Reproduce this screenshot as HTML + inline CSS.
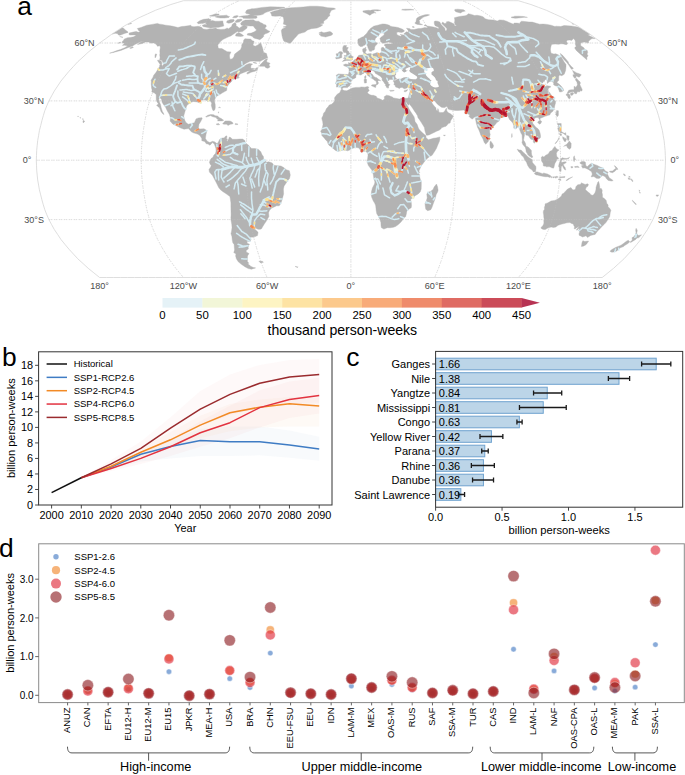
<!DOCTYPE html>
<html><head><meta charset="utf-8"><style>
html,body{margin:0;padding:0;background:#fff;}
svg{display:block;font-family:"Liberation Sans", sans-serif;}
</style></head><body>
<svg width="685" height="775" viewBox="0 0 685 775" font-family='"Liberation Sans", sans-serif'>
<rect width="685" height="775" fill="#fff"/>
<defs><clipPath id="mapclip"><path d="M99.6,277.5L93.9,272.9L88.2,268.3L83.0,263.5L77.8,258.8L73.4,254.0L68.9,249.1L64.9,244.3L60.9,239.4L57.6,234.4L54.3,229.5L51.6,224.6L48.9,219.6L46.8,214.7L44.8,209.7L43.3,204.8L41.9,199.8L40.7,194.9L39.4,189.9L38.6,185.0L37.7,180.0L37.2,175.1L36.7,170.1L36.5,165.2L36.3,160.2L36.5,155.3L36.7,150.4L37.2,145.4L37.7,140.5L38.6,135.5L39.4,130.6L40.7,125.6L41.9,120.7L43.3,115.7L44.8,110.8L46.8,105.8L48.9,100.9L51.6,95.9L54.3,91.0L57.6,86.1L60.9,81.1L64.9,76.2L68.9,71.4L73.4,66.5L77.8,61.7L83.0,57.0L88.2,52.2L93.9,47.6L99.6,43.0L105.8,38.6L111.9,34.1L118.3,29.9L124.8,25.7L132.0,21.7L139.1,17.7L147.3,14.0L155.4,10.3L163.2,7.4L170.9,4.5L177.2,2.6L183.5,0.7L183.5,0.7L188.1,0.7L192.8,0.7L197.4,0.7L202.1,0.7L206.7,0.7L211.4,0.7L216.0,0.7L220.7,0.7L225.3,0.7L230.0,0.7L234.6,0.7L239.3,0.7L243.9,0.7L248.6,0.7L253.2,0.7L257.9,0.7L262.5,0.7L267.2,0.7L271.8,0.7L276.5,0.7L281.1,0.7L285.8,0.7L290.4,0.7L295.1,0.7L299.7,0.7L304.4,0.7L309.0,0.7L313.7,0.7L318.3,0.7L323.0,0.7L327.6,0.7L332.3,0.7L336.9,0.7L341.6,0.7L346.2,0.7L350.9,0.7L355.6,0.7L360.2,0.7L364.9,0.7L369.5,0.7L374.2,0.7L378.8,0.7L383.5,0.7L388.1,0.7L392.8,0.7L397.4,0.7L402.1,0.7L406.7,0.7L411.4,0.7L416.0,0.7L420.7,0.7L425.3,0.7L430.0,0.7L434.6,0.7L439.3,0.7L443.9,0.7L448.6,0.7L453.2,0.7L457.9,0.7L462.5,0.7L467.2,0.7L471.8,0.7L476.5,0.7L481.1,0.7L485.8,0.7L490.4,0.7L495.1,0.7L499.7,0.7L504.4,0.7L509.0,0.7L513.7,0.7L518.3,0.7L518.3,0.7L524.6,2.6L530.9,4.5L538.6,7.4L546.4,10.3L554.5,14.0L562.7,17.7L569.8,21.7L577.0,25.7L583.5,29.9L589.9,34.1L596.0,38.6L602.2,43.0L607.9,47.6L613.6,52.2L618.8,57.0L624.0,61.7L628.4,66.5L632.9,71.4L636.9,76.2L640.9,81.1L644.2,86.1L647.5,91.0L650.2,95.9L652.9,100.9L655.0,105.8L657.0,110.8L658.5,115.7L659.9,120.7L661.1,125.6L662.4,130.6L663.2,135.5L664.1,140.5L664.6,145.4L665.1,150.4L665.3,155.3L665.5,160.2L665.3,165.2L665.1,170.1L664.6,175.1L664.1,180.0L663.2,185.0L662.4,189.9L661.1,194.9L659.9,199.8L658.5,204.8L657.0,209.7L655.0,214.7L652.9,219.6L650.2,224.6L647.5,229.5L644.2,234.4L640.9,239.4L636.9,244.3L632.9,249.1L628.4,254.0L624.0,258.8L618.8,263.5L613.6,268.3L607.9,272.9L602.2,277.5L602.2,277.5L595.2,277.5L588.2,277.5L581.2,277.5L574.2,277.5L567.3,277.5L560.3,277.5L553.3,277.5L546.3,277.5L539.3,277.5L532.4,277.5L525.4,277.5L518.4,277.5L511.4,277.5L504.4,277.5L497.5,277.5L490.5,277.5L483.5,277.5L476.5,277.5L469.5,277.5L462.6,277.5L455.6,277.5L448.6,277.5L441.6,277.5L434.7,277.5L427.7,277.5L420.7,277.5L413.7,277.5L406.7,277.5L399.8,277.5L392.8,277.5L385.8,277.5L378.8,277.5L371.8,277.5L364.9,277.5L357.9,277.5L350.9,277.5L343.9,277.5L336.9,277.5L330.0,277.5L323.0,277.5L316.0,277.5L309.0,277.5L302.0,277.5L295.1,277.5L288.1,277.5L281.1,277.5L274.1,277.5L267.1,277.5L260.2,277.5L253.2,277.5L246.2,277.5L239.2,277.5L232.3,277.5L225.3,277.5L218.3,277.5L211.3,277.5L204.3,277.5L197.4,277.5L190.4,277.5L183.4,277.5L176.4,277.5L169.4,277.5L162.5,277.5L155.5,277.5L148.5,277.5L141.5,277.5L134.5,277.5L127.6,277.5L120.6,277.5L113.6,277.5L106.6,277.5L99.6,277.5Z"/></clipPath></defs>
<path d="M48.9,219.6L199.9,219.6L350.9,219.6L501.9,219.6L652.9,219.6M36.3,160.2L193.6,160.2L350.9,160.2L508.2,160.2L665.5,160.2M48.9,100.9L199.9,100.9L350.9,100.9L501.9,100.9L652.9,100.9M99.6,43.0L225.3,43.0L350.9,43.0L476.5,43.0L602.2,43.0M183.4,277.5L175.8,268.3L168.9,258.8L162.9,249.1L157.6,239.4L153.2,229.5L149.5,219.6L146.8,209.7L144.9,199.8L143.3,189.9L142.1,180.0L141.4,170.1L141.2,160.2L141.4,150.4L142.1,140.5L143.3,130.6L144.9,120.7L146.8,110.8L149.5,100.9L153.2,91.0L157.6,81.1L162.9,71.4L168.9,61.7L175.8,52.2L183.4,43.0L191.6,34.1L200.2,25.7L209.7,17.7L220.6,10.3L230.9,4.5L239.3,0.7M267.1,277.5L263.3,268.3L259.9,258.8L256.9,249.1L254.2,239.4L252.0,229.5L250.2,219.6L248.9,209.7L247.9,199.8L247.1,189.9L246.5,180.0L246.2,170.1L246.0,160.2L246.2,150.4L246.5,140.5L247.1,130.6L247.9,120.7L248.9,110.8L250.2,100.9L252.0,91.0L254.2,81.1L256.9,71.4L259.9,61.7L263.3,52.2L267.1,43.0L271.2,34.1L275.5,25.7L280.3,17.7L285.7,10.3L290.9,4.5L295.1,0.7M350.9,277.5L350.9,268.3L350.9,258.8L350.9,249.1L350.9,239.4L350.9,229.5L350.9,219.6L350.9,209.7L350.9,199.8L350.9,189.9L350.9,180.0L350.9,170.1L350.9,160.2L350.9,150.4L350.9,140.5L350.9,130.6L350.9,120.7L350.9,110.8L350.9,100.9L350.9,91.0L350.9,81.1L350.9,71.4L350.9,61.7L350.9,52.2L350.9,43.0L350.9,34.1L350.9,25.7L350.9,17.7L350.9,10.3L350.9,4.5L350.9,0.7M434.7,277.5L438.5,268.3L441.9,258.8L444.9,249.1L447.6,239.4L449.8,229.5L451.6,219.6L452.9,209.7L453.9,199.8L454.7,189.9L455.3,180.0L455.6,170.1L455.8,160.2L455.6,150.4L455.3,140.5L454.7,130.6L453.9,120.7L452.9,110.8L451.6,100.9L449.8,91.0L447.6,81.1L444.9,71.4L441.9,61.7L438.5,52.2L434.7,43.0L430.6,34.1L426.3,25.7L421.5,17.7L416.1,10.3L410.9,4.5L406.7,0.7M518.4,277.5L526.0,268.3L532.9,258.8L538.9,249.1L544.2,239.4L548.6,229.5L552.3,219.6L555.0,209.7L556.9,199.8L558.5,189.9L559.7,180.0L560.4,170.1L560.6,160.2L560.4,150.4L559.7,140.5L558.5,130.6L556.9,120.7L555.0,110.8L552.3,100.9L548.6,91.0L544.2,81.1L538.9,71.4L532.9,61.7L526.0,52.2L518.4,43.0L510.2,34.1L501.6,25.7L492.1,17.7L481.2,10.3L470.9,4.5L462.5,0.7" fill="none" stroke="#cfcfcf" stroke-width="0.75" stroke-dasharray="1.45 0.6 1.45 1.45"/>
<g clip-path="url(#mapclip)">
<path d="M129.1,33.1L133.3,32.1L136.2,31.4L138.3,32.3L140.2,31.4L138.5,30.6L138.2,29.7L137.3,28.5L141.0,27.5L146.9,25.2L152.0,24.4L157.4,23.4L159.7,24.2L161.9,24.4L165.7,25.2L170.0,25.7L173.0,26.3L176.0,27.0L177.9,27.5L181.6,26.5L184.3,26.3L188.2,25.7L190.7,25.2L191.7,26.5L194.1,26.7L198.2,26.3L201.6,27.3L203.2,29.0L206.7,29.4L209.9,28.7L212.5,28.7L215.6,28.0L217.3,29.0L220.8,29.4L224.9,29.2L227.3,27.9L228.2,29.0L231.5,26.5L232.5,24.1L235.1,22.6L236.2,24.1L236.0,25.7L238.1,27.0L239.1,28.2L242.6,26.0L244.6,25.8L247.3,26.5L246.8,28.2L242.5,31.6L239.0,31.9L237.3,31.6L234.7,33.3L230.8,35.9L228.5,36.8L222.9,39.5L220.1,42.1L217.8,44.9L218.1,47.6L219.0,48.6L221.8,48.6L223.9,49.8L227.2,51.7L231.0,51.9L229.5,55.1L229.6,57.0L230.0,59.2L232.0,58.9L233.8,57.0L234.7,54.1L238.3,51.3L240.6,49.5L241.7,46.7L241.7,44.9L243.5,42.1L243.6,40.4L244.8,38.8L247.9,38.9L250.5,39.1L252.4,40.7L254.1,41.3L253.0,44.9L254.0,45.8L255.2,46.2L257.9,44.9L260.6,42.7L261.5,44.9L262.4,47.6L263.0,49.5L263.3,52.2L266.5,53.6L267.1,56.0L267.7,57.7L264.6,59.0L260.0,61.3L257.0,61.3L253.3,61.1L250.2,61.3L246.5,63.1L243.5,65.0L241.2,67.1L243.8,66.3L246.7,64.6L249.4,63.4L252.6,64.0L251.0,65.6L250.7,67.5L251.4,69.0L254.3,69.8L255.7,70.2L257.6,69.0L256.3,70.8L251.1,72.3L247.5,74.1L246.7,72.9L250.1,70.8L247.6,71.0L245.8,71.7L243.2,72.7L240.1,73.9L238.7,75.9L238.4,77.4L239.3,77.6L239.1,78.0L236.6,78.4L234.4,78.8L232.1,80.0L231.4,81.7L229.6,83.3L228.9,84.1L228.1,85.3L226.8,87.1L226.9,89.0L226.6,90.6L224.7,91.6L222.1,93.0L219.9,94.4L218.2,95.3L215.8,96.9L214.5,100.3L214.7,102.3L215.2,104.5L215.3,107.2L215.0,109.2L214.2,110.4L213.0,110.6L212.3,109.0L211.8,107.2L211.3,105.2L211.7,103.3L210.7,101.3L209.4,100.9L207.7,101.5L206.0,100.1L203.6,99.7L200.8,100.5L200.9,102.5L199.2,102.7L197.2,101.9L193.4,101.5L191.2,102.3L188.2,104.3L186.8,105.4L185.7,109.0L184.6,112.8L183.7,116.1L184.3,119.1L185.7,122.3L188.2,124.2L191.7,123.4L194.4,122.7L196.0,118.9L198.5,117.9L202.0,117.7L202.2,118.5L200.6,121.7L199.0,124.2L198.4,128.0L199.7,129.0L204.0,128.8L206.9,130.6L205.8,135.5L205.4,138.5L207.3,141.3L209.9,142.6L212.5,141.3L215.1,142.0L216.1,143.2L215.8,145.4L215.0,145.8L214.3,144.0L212.5,142.6L210.8,144.4L209.8,145.2L208.1,144.0L206.3,143.8L204.7,141.5L201.8,140.7L201.8,138.5L199.9,135.5L197.5,134.1L193.2,132.7L191.1,131.6L188.5,128.6L184.1,129.2L180.8,128.0L176.8,126.0L172.7,124.0L170.1,121.1L170.4,119.1L170.2,117.1L169.3,114.3L167.2,110.8L165.6,107.2L163.8,105.0L162.2,102.5L161.5,99.3L159.6,97.5L158.8,99.3L159.4,101.9L160.6,104.8L161.2,107.8L162.5,111.8L163.0,112.4L164.0,114.5L162.9,113.9L161.1,111.8L160.3,109.8L159.5,107.8L157.8,106.4L156.6,105.2L158.5,103.9L156.9,101.7L156.3,99.7L156.2,97.3L156.2,95.9L156.2,94.4L154.9,93.4L154.2,92.8L151.8,92.0L152.1,90.0L151.5,87.8L151.4,85.9L151.2,84.5L151.3,81.5L151.1,80.2L153.0,77.2L153.7,75.3L156.1,72.3L158.1,69.0L159.6,66.5L159.8,64.8L162.1,65.2L162.0,66.5L163.8,64.0L163.3,63.2L162.7,61.9L162.1,60.6L159.7,59.8L160.1,57.3L159.7,55.1L160.0,53.2L159.8,51.3L160.0,49.5L160.3,47.6L159.9,45.8L157.4,46.2L156.9,45.2L155.5,43.8L154.1,43.0L150.6,43.0L148.3,42.0L145.3,42.1L142.5,43.4L139.7,44.1L137.5,44.5L140.5,42.3L144.0,40.9L140.5,41.8L138.0,43.0L135.3,44.3L132.5,46.0L128.2,47.6L124.6,48.9L120.9,50.4L117.0,51.5L113.5,52.4L109.6,53.2L113.4,51.9L117.0,50.6L120.4,49.5L124.2,48.0L127.8,46.0L126.1,45.6L124.4,45.2L122.4,45.4L124.6,43.2L122.7,43.0L121.9,42.0L123.4,40.4L124.4,38.9L127.6,37.7L130.2,37.5L133.8,36.8L136.3,35.0L134.9,34.9L132.9,34.9L130.7,35.0L129.1,34.7L129.1,33.1ZM216.1,143.2L217.5,143.4L218.6,141.5L219.6,139.5L220.9,138.5L222.0,138.1L224.1,137.9L226.0,135.7L227.1,136.5L226.4,138.7L227.5,138.9L226.7,140.5L227.2,141.5L228.9,138.5L229.3,137.1L231.0,137.7L232.3,139.3L236.1,139.3L239.6,139.1L242.6,139.1L244.8,140.5L245.5,143.4L248.1,144.8L249.8,146.8L251.5,148.4L255.0,148.6L258.4,149.4L260.8,151.7L261.8,154.3L263.5,156.7L263.5,159.3L265.3,160.8L266.5,162.2L268.8,161.8L272.3,163.0L273.5,165.2L277.5,165.8L281.0,166.0L283.7,167.6L286.3,169.7L289.3,170.7L290.3,175.1L289.5,178.5L287.4,181.0L285.8,183.6L284.1,186.0L283.4,188.9L283.6,193.9L282.8,196.9L281.8,200.4L280.8,203.6L279.2,205.8L276.6,205.8L274.2,206.9L271.7,208.1L269.4,210.5L268.6,212.7L268.9,216.6L267.3,219.2L266.0,221.6L264.3,224.0L262.5,226.9L261.5,228.7L260.2,229.3L258.1,229.3L255.9,228.3L254.3,227.5L254.6,228.9L256.8,231.1L258.1,232.3L257.5,235.6L255.3,236.6L252.1,237.2L250.0,237.0L250.9,239.4L250.0,241.5L246.8,241.3L247.3,243.3L249.5,244.3L248.7,245.2L248.2,247.2L248.3,249.1L246.3,250.3L246.2,252.0L249.0,253.6L247.5,255.9L247.4,258.8L247.4,261.6L248.9,263.2L247.5,263.7L249.4,264.9L250.9,266.4L253.5,267.5L255.6,267.9L253.9,268.4L251.4,269.2L248.2,268.6L245.2,266.9L241.0,264.1L238.1,261.6L236.4,258.8L235.6,255.9L236.0,254.0L233.8,252.6L234.6,250.1L234.3,247.2L234.1,244.3L232.9,242.9L232.3,240.3L231.9,236.4L231.0,233.8L231.6,230.9L232.0,227.5L231.8,224.6L231.1,220.6L230.9,217.6L231.1,214.7L231.0,210.7L230.9,206.9L230.9,202.8L230.3,198.8L229.9,196.5L227.9,195.1L225.8,193.5L223.0,191.7L220.2,189.5L218.7,187.6L217.1,184.2L215.7,181.6L213.9,178.1L212.4,175.3L210.9,173.7L209.4,172.1L209.0,169.4L210.7,167.0L211.3,165.4L210.3,164.6L209.4,162.2L210.7,159.3L211.1,158.5L213.0,157.3L213.6,155.5L215.6,153.3L216.0,151.3L215.9,148.4L215.1,146.0L216.1,143.2ZM341.2,89.4L342.2,89.2L344.0,90.6L346.8,90.8L349.3,89.6L352.5,88.0L355.8,87.4L359.1,87.4L361.5,86.9L364.9,87.2L367.5,86.5L369.0,87.2L368.1,88.6L369.2,90.6L367.4,92.4L368.3,93.8L370.0,94.8L371.7,95.3L373.3,95.3L376.2,96.3L377.1,97.9L380.2,99.1L382.7,100.3L384.5,98.9L384.2,96.7L386.6,95.2L389.1,95.7L392.4,97.1L393.5,97.9L396.8,98.5L399.4,99.1L400.9,98.5L402.6,97.7L404.8,98.3L408.0,98.3L409.5,101.9L408.8,105.2L407.5,104.3L405.6,101.1L405.9,103.3L408.1,106.8L409.5,109.8L411.4,112.8L414.0,116.7L414.6,118.7L415.0,121.5L417.2,124.6L418.2,127.6L419.2,129.6L421.9,132.2L424.4,134.5L426.0,135.7L425.9,137.5L428.3,139.7L430.9,139.1L433.4,138.3L436.0,137.9L439.8,136.9L439.8,139.5L439.3,141.5L438.0,144.4L436.4,148.4L434.7,151.3L432.1,155.3L430.0,156.3L426.9,158.7L424.3,161.8L422.5,164.2L420.9,166.2L420.2,168.2L419.3,170.1L418.6,172.7L419.6,175.1L419.7,177.1L420.5,180.0L421.3,181.6L421.3,185.0L421.2,188.9L420.2,191.9L418.2,193.9L415.5,195.5L413.7,197.1L411.4,198.8L410.6,199.8L411.3,202.8L411.5,205.8L411.2,207.7L408.7,209.3L406.7,211.5L406.4,213.7L405.6,216.8L404.4,217.6L402.9,219.4L401.0,222.0L398.3,224.6L395.6,226.5L393.3,227.3L390.6,227.7L387.3,227.7L383.9,229.1L382.0,228.1L381.3,227.5L381.0,225.2L380.9,222.6L379.9,219.6L378.7,216.8L376.8,213.7L376.2,210.7L375.7,205.8L375.0,203.8L373.2,200.8L371.6,196.9L371.2,194.3L371.5,191.5L372.4,188.0L374.5,184.0L374.9,182.0L373.9,178.7L373.2,174.1L372.4,172.1L371.8,170.1L370.1,167.8L368.4,165.6L367.2,162.2L367.2,160.2L367.7,158.3L368.0,155.3L367.8,152.9L366.6,152.3L365.7,151.1L363.1,151.5L361.4,151.7L360.3,150.0L358.9,148.0L356.8,147.6L354.4,147.8L353.0,148.2L350.9,149.0L349.2,150.2L347.4,150.8L345.7,150.2L343.9,150.0L341.3,150.4L337.8,151.5L335.2,150.2L332.6,148.0L330.9,146.4L329.1,145.4L327.9,143.4L327.4,141.5L325.7,139.9L324.8,138.7L323.5,137.3L321.9,135.5L321.8,133.3L320.6,131.2L321.9,129.6L322.4,127.6L323.0,124.6L322.7,121.7L321.9,119.1L321.8,117.9L323.0,115.7L323.6,113.2L325.4,111.2L326.3,108.8L328.1,106.8L329.3,105.0L331.5,104.3L333.8,102.3L334.8,100.3L334.5,97.9L335.9,95.7L337.6,94.0L339.7,92.8L340.5,91.0L341.2,89.4ZM436.5,184.0L437.6,187.0L438.1,190.3L437.6,191.9L436.2,194.5L435.1,198.8L433.6,202.8L432.0,207.3L430.8,209.7L427.7,210.7L425.8,209.3L425.3,206.4L425.0,203.4L426.4,200.8L427.2,197.8L426.8,194.3L427.8,192.3L430.4,191.5L433.1,189.5L434.1,187.0L436.5,184.0ZM341.7,89.0L340.6,87.4L338.8,86.7L336.4,87.1L336.6,84.7L335.5,83.5L336.6,80.7L337.0,77.2L336.2,75.3L338.3,73.9L343.0,74.3L347.7,74.5L348.5,74.3L349.0,71.9L349.0,69.0L347.5,67.1L346.3,66.5L344.0,65.8L343.5,64.8L345.5,64.0L348.5,64.4L348.5,62.5L349.4,62.9L351.1,62.9L352.4,61.7L353.3,60.9L354.7,59.6L356.3,59.0L357.2,57.9L357.7,57.0L358.0,56.0L359.0,55.3L361.2,55.1L363.4,54.9L363.8,53.6L363.5,52.4L362.7,51.3L362.7,48.9L364.5,48.2L366.0,47.3L365.7,48.9L366.6,49.7L365.9,51.1L365.2,52.2L365.6,53.2L367.1,54.1L368.5,53.8L370.7,53.6L372.2,54.3L374.4,53.6L377.2,52.6L378.2,53.4L379.5,53.4L381.5,52.2L381.4,50.4L381.1,48.9L381.7,47.6L383.1,47.3L384.6,48.6L385.7,48.2L385.5,46.2L384.0,45.1L385.7,43.9L388.1,43.9L390.2,43.9L393.1,43.2L391.3,42.7L388.4,42.1L385.7,42.7L382.9,43.2L380.7,41.8L380.5,40.4L379.9,38.6L381.0,37.2L383.1,35.7L384.5,34.1L383.2,32.8L380.5,32.8L379.4,33.8L379.0,35.2L377.2,36.8L375.4,38.4L374.8,40.4L374.9,41.8L376.7,42.7L377.4,43.9L376.0,45.1L374.7,46.9L374.6,48.9L374.0,50.0L371.7,50.4L371.7,51.3L369.6,51.3L368.9,49.8L368.0,47.8L367.6,46.2L366.7,44.7L365.7,44.3L365.7,43.2L365.0,44.9L363.6,45.6L362.3,46.5L360.1,46.5L358.8,45.2L358.3,43.9L357.9,42.3L357.8,40.5L358.1,39.1L359.7,38.4L361.7,37.3L363.7,36.5L364.9,35.0L366.2,34.1L367.3,32.4L368.4,30.7L369.6,29.4L370.7,28.2L371.9,27.5L373.6,26.3L375.4,25.7L377.8,25.2L380.2,24.5L382.7,23.9L385.0,24.1L387.0,24.5L389.5,25.3L389.9,26.0L392.6,26.7L395.3,27.0L398.0,27.5L400.8,28.5L403.1,29.6L404.5,31.1L403.3,31.9L401.5,32.4L398.0,31.9L396.7,32.6L396.8,34.5L398.4,35.4L400.6,36.3L401.7,35.4L400.1,34.5L403.6,34.9L405.0,35.0L403.9,33.8L406.5,31.8L408.6,32.3L408.2,30.4L406.5,28.2L409.9,28.7L410.8,29.4L414.1,29.6L418.7,28.4L420.7,28.5L423.0,28.0L424.7,27.5L427.4,27.9L427.1,26.0L430.5,26.5L433.3,27.0L436.2,27.7L438.7,28.7L438.6,27.3L435.1,25.7L434.4,24.1L434.2,21.7L435.0,21.0L437.5,21.2L439.8,22.1L440.8,24.1L442.3,25.7L444.8,28.2L445.3,31.1L446.7,30.2L447.0,28.7L445.3,27.0L443.3,24.9L441.7,23.6L442.7,22.0L444.4,23.4L446.4,23.3L446.5,21.8L448.7,21.5L451.6,22.8L454.2,24.1L454.5,25.7L456.6,26.0L455.1,24.4L454.4,22.5L454.8,20.9L454.7,19.3L454.4,17.7L458.2,16.8L461.0,16.2L465.1,15.8L466.6,15.2L468.5,13.7L471.4,14.4L474.5,15.5L477.1,15.3L480.8,15.9L483.4,16.9L485.1,18.8L488.6,19.7L493.2,20.1L497.3,21.0L499.6,19.9L503.6,20.2L506.6,21.2L509.9,22.8L513.6,24.2L514.0,23.1L517.0,23.1L519.9,23.4L520.4,22.0L521.7,21.2L524.6,21.5L529.0,22.0L532.2,22.1L536.4,23.3L539.6,24.2L543.1,24.1L547.3,24.4L551.1,25.2L554.9,26.5L556.3,26.2L560.6,26.5L562.4,26.0L564.2,25.5L567.8,25.8L571.2,26.0L576.0,26.7L579.8,27.5L589.9,34.1L588.7,34.7L587.3,34.7L591.6,36.8L595.1,38.6L592.0,38.6L590.2,39.8L588.6,41.3L588.5,43.0L584.3,42.1L581.9,42.5L580.7,43.2L580.6,44.3L580.8,45.8L583.6,47.6L585.0,49.5L587.2,50.4L587.7,52.6L587.0,54.1L588.1,56.0L586.8,57.0L586.9,58.7L586.8,59.8L583.7,57.0L579.3,53.2L576.3,50.4L574.7,48.0L575.2,47.1L576.2,46.7L575.3,43.9L575.5,42.3L575.1,40.4L573.6,38.6L572.6,39.5L571.7,40.4L569.9,40.0L567.3,40.2L566.5,41.3L567.5,43.9L566.2,44.7L563.3,43.9L561.0,43.8L558.8,44.3L555.1,44.1L551.8,44.3L551.1,45.8L550.8,46.9L550.4,49.5L550.8,52.2L551.2,53.2L553.9,54.1L555.8,53.8L558.7,55.1L561.2,57.0L562.9,59.8L564.0,61.7L566.0,64.6L566.0,66.5L565.8,68.5L565.6,70.4L564.8,72.7L564.2,74.3L561.8,75.7L559.7,75.1L558.9,76.0L558.8,76.6L558.7,79.2L558.9,80.2L557.9,81.1L556.9,82.5L559.0,84.1L561.1,86.1L563.3,89.0L563.6,90.6L562.7,91.2L561.3,91.8L559.6,92.0L558.9,90.0L558.1,88.0L557.2,86.1L555.2,85.7L553.6,84.7L553.7,83.5L553.2,82.1L551.2,81.3L549.3,81.7L548.1,82.7L547.2,83.5L547.2,82.1L547.3,80.4L545.6,79.4L544.7,80.5L543.6,81.5L542.6,82.9L541.5,83.3L542.5,84.5L544.3,85.7L545.0,86.7L547.1,85.7L548.9,86.1L550.6,86.3L550.5,87.2L548.6,88.0L548.2,89.0L547.5,91.0L549.5,92.4L550.9,94.6L552.3,96.3L554.2,97.5L554.7,98.9L553.5,99.7L555.5,101.1L555.5,102.9L555.0,104.8L554.6,106.4L554.2,107.8L553.7,109.2L553.0,111.2L551.8,112.0L550.4,113.6L549.8,114.9L548.2,115.3L546.1,116.1L545.0,116.3L543.4,117.1L541.8,117.7L540.2,118.3L540.0,120.1L539.0,118.7L538.3,117.5L536.6,117.5L535.0,117.9L533.9,119.5L532.9,121.1L532.5,123.1L534.4,125.4L536.1,127.4L537.8,128.6L539.3,130.6L540.1,133.3L540.6,136.1L540.3,137.9L538.7,139.1L537.0,139.7L536.2,141.3L534.1,143.2L533.3,141.8L533.4,140.1L532.4,139.5L530.9,139.3L529.9,137.9L528.8,136.1L527.3,135.3L525.9,135.1L525.8,133.5L524.4,133.7L524.4,135.5L523.8,138.5L523.5,140.1L524.8,142.0L525.6,143.8L525.9,145.8L527.0,146.8L528.0,146.8L529.1,148.0L530.4,149.2L531.4,150.6L531.4,152.7L531.7,154.9L532.9,157.1L531.7,157.7L529.6,156.3L527.8,154.7L527.1,153.1L526.2,151.9L525.9,149.6L525.3,147.4L524.5,146.6L522.8,144.4L522.0,142.6L522.4,140.5L522.2,137.5L522.1,134.9L521.1,133.3L519.9,130.2L519.2,127.6L517.9,126.8L516.4,128.4L515.1,128.8L513.8,128.2L513.8,125.6L512.8,123.1L511.5,121.5L509.7,119.7L508.8,118.1L507.8,115.9L506.3,115.3L505.5,116.7L504.0,116.9L502.4,117.5L500.7,117.5L499.9,119.1L499.3,120.9L497.0,122.3L495.5,124.2L492.9,127.0L491.3,128.2L489.7,129.2L489.7,132.5L490.2,134.5L489.5,137.5L489.7,139.9L488.7,139.9L488.1,141.8L487.1,142.6L485.9,144.2L484.4,142.8L483.7,140.9L482.8,138.5L481.6,136.5L480.6,134.7L479.9,132.4L478.7,129.6L477.6,127.4L476.4,123.6L476.0,121.7L475.5,119.1L475.2,117.7L474.4,116.9L472.6,119.1L470.8,118.3L468.8,116.1L470.4,115.1L469.5,114.7L467.7,113.8L465.9,112.8L464.9,111.2L463.9,110.0L461.4,110.2L458.0,110.4L455.4,110.4L452.0,110.0L449.4,109.6L448.1,109.0L447.3,106.8L446.1,106.6L444.9,107.4L443.2,107.6L441.4,107.2L438.7,105.2L437.2,103.9L435.8,102.3L434.8,100.9L432.7,100.5L431.5,101.1L432.0,102.9L432.8,104.3L434.6,106.4L435.9,107.8L436.1,109.6L437.3,111.2L437.9,108.6L438.6,110.2L438.8,112.2L440.3,112.4L442.6,112.6L443.7,112.2L445.2,110.2L446.0,108.6L446.5,108.2L446.8,111.0L448.4,112.8L450.1,113.6L452.0,115.1L453.1,115.9L452.5,118.1L451.4,119.5L450.5,121.1L450.1,122.9L448.3,123.6L447.4,124.8L446.1,126.2L444.1,126.8L441.5,127.8L440.8,129.0L439.1,130.2L436.6,131.2L434.1,132.5L431.5,133.7L429.0,134.9L427.2,135.3L426.2,135.1L425.8,133.5L425.0,131.0L424.7,129.2L424.4,127.6L422.9,125.0L421.2,122.3L419.5,119.7L418.0,117.7L417.5,115.7L416.0,113.2L414.5,111.2L413.0,108.8L411.2,106.2L409.8,104.6L409.1,103.1L409.5,101.9L408.0,98.3L408.7,96.5L409.0,95.0L409.6,93.2L410.1,91.0L409.7,89.4L410.1,87.8L409.0,87.8L407.5,87.4L405.8,88.6L404.2,88.8L402.4,87.6L400.9,87.4L399.4,88.6L397.2,87.4L395.6,87.1L395.1,85.3L393.8,84.5L394.3,83.5L394.0,82.1L393.1,81.1L393.7,80.4L395.1,80.4L397.4,79.4L397.2,79.0L395.8,79.2L393.9,80.0L392.6,79.6L391.0,79.4L389.4,79.6L389.0,80.5L387.9,80.5L387.7,80.0L387.3,80.9L387.9,82.3L388.6,83.1L387.8,83.5L389.0,84.1L389.9,84.7L389.1,85.5L388.6,86.3L388.5,88.0L387.7,88.2L387.0,87.1L386.4,87.4L386.1,85.9L385.2,85.3L385.8,84.5L384.9,83.9L384.4,82.9L383.5,81.7L382.1,80.2L382.1,78.2L381.2,77.2L380.3,76.2L378.6,75.3L377.0,74.3L375.3,73.3L374.7,71.7L373.6,71.0L372.3,70.2L370.1,70.8L370.2,72.3L370.7,73.3L372.4,74.3L374.0,76.8L375.6,77.4L376.8,77.8L378.1,79.0L379.8,80.0L380.7,80.9L379.7,80.5L378.5,80.4L377.7,81.5L378.6,83.1L377.7,84.3L376.9,85.1L376.2,84.7L376.5,83.1L376.0,81.1L374.7,80.4L373.7,79.6L372.5,78.8L370.8,77.8L369.7,76.8L368.4,75.9L367.5,75.3L367.1,73.7L365.8,72.9L364.6,72.5L363.5,73.5L362.4,73.9L361.2,74.9L360.4,75.1L358.8,74.5L357.2,74.3L356.0,75.1L355.8,76.4L356.0,77.4L354.4,78.4L352.5,79.2L352.0,80.0L350.9,81.5L350.4,82.3L351.2,83.5L350.1,84.5L349.6,85.9L348.1,86.7L347.5,87.6L346.0,87.6L343.7,87.6L342.7,88.2L341.7,89.0ZM122.0,27.5L123.5,28.2L125.1,29.7L126.6,30.9L128.1,32.1L128.0,32.4L125.1,33.3L120.7,35.0L119.1,35.2L118.0,34.5L117.3,33.6L115.2,33.3L111.9,34.1ZM342.3,61.5L344.5,60.9L346.4,60.4L349.4,60.4L351.4,60.2L353.0,59.4L352.1,58.7L353.4,56.8L351.6,56.0L351.0,54.9L350.6,53.9L349.0,52.8L348.6,51.3L347.3,50.4L347.2,49.7L348.3,47.6L345.9,47.3L346.7,45.6L343.8,45.6L343.1,46.7L342.7,48.0L342.8,49.5L342.9,50.8L343.6,52.2L343.9,52.6L345.8,52.4L346.5,53.4L346.5,54.5L346.5,55.5L344.1,55.5L344.7,56.4L344.9,57.3L343.3,58.3L344.9,58.7L346.4,59.0L344.6,59.4L343.2,60.6L342.3,61.5ZM341.9,57.5L341.7,55.5L341.9,54.1L342.8,53.4L342.2,51.9L340.3,51.5L338.8,52.1L338.3,53.6L336.2,53.8L336.3,55.1L337.1,56.6L335.5,57.7L336.2,58.9L338.9,58.5L340.6,57.9L341.9,57.5ZM320.7,36.1L320.6,35.2L319.0,34.5L321.5,34.0L318.8,33.1L321.3,31.8L323.9,32.8L327.3,32.1L330.0,31.6L331.7,32.4L332.9,34.0L331.1,35.4L328.0,36.3L325.7,37.0L323.3,36.5L320.7,36.1ZM371.1,85.5L372.5,84.7L376.2,84.5L375.6,87.6L374.3,87.1L371.1,85.5ZM364.5,83.1L366.4,82.9L366.6,79.4L365.6,78.8L364.0,79.4L364.5,83.1ZM364.6,78.4L365.9,78.2L366.0,75.5L364.6,76.4ZM389.6,90.4L394.2,90.4L393.7,91.0L390.5,91.2ZM404.2,91.6L405.4,91.8L406.9,91.0L407.7,89.6L405.2,90.4L404.1,90.8ZM567.4,93.0L567.9,91.8L568.8,90.2L571.1,89.8L573.6,89.8L574.1,89.2L574.1,86.7L574.6,86.1L575.1,87.4L576.7,86.3L577.5,84.7L576.9,82.1L575.5,80.0L575.6,78.8L576.8,78.4L578.2,80.2L580.2,82.1L580.3,83.5L579.8,84.5L581.2,87.4L582.2,89.6L582.0,90.8L581.3,91.0L579.9,90.6L579.9,91.8L579.0,91.8L577.0,91.8L577.0,92.6L576.2,94.0L574.4,93.2L574.0,91.8L572.0,91.8L570.5,92.2L568.9,93.0L567.4,93.0ZM566.1,94.4L567.5,93.2L569.1,94.0L570.2,95.7L570.3,98.1L569.3,98.9L568.2,97.9L567.3,95.7L566.1,95.2ZM570.8,95.0L571.9,95.5L573.1,94.4L573.8,93.4L572.6,92.4L570.7,93.0L570.4,94.0ZM574.6,78.2L576.1,77.6L575.9,76.0L579.2,77.2L580.7,75.5L581.2,74.7L578.7,73.5L576.7,72.9L572.5,70.4L573.3,72.3L574.5,74.7L572.9,74.7L573.2,76.2ZM571.9,69.4L573.4,68.3L571.4,66.5L568.8,63.6L568.1,61.7L565.8,58.9L562.4,55.1L560.2,53.4L560.9,55.1L562.6,57.9L564.2,59.8L567.0,62.7L569.1,65.6L570.9,68.5L571.9,69.4ZM555.9,114.7L557.3,116.7L558.4,115.3L558.4,110.8L556.6,110.6L555.9,114.7ZM537.6,122.3L539.4,124.2L541.0,123.2L541.6,121.3L540.6,120.5L538.9,120.7L537.6,122.3ZM557.4,123.6L559.1,123.4L561.2,123.6L561.3,126.6L561.1,129.2L561.4,131.4L562.7,132.4L564.4,133.3L565.7,132.7L566.0,135.3L564.7,134.5L563.2,133.3L561.9,132.9L560.2,132.7L559.7,131.8L558.6,131.0L557.8,128.2L558.8,127.8L558.4,125.6L557.4,123.6ZM563.6,146.4L565.2,145.2L566.1,144.8L566.9,144.0L568.0,142.8L569.3,140.9L571.2,143.4L571.0,147.8L569.5,149.2L567.5,147.8L566.7,145.8L564.9,145.8L563.6,146.4ZM566.6,135.5L569.1,136.1L568.9,140.1L567.9,140.5L566.9,138.1L566.6,135.5ZM562.6,136.7L564.8,138.1L564.1,139.5L563.0,139.3ZM563.8,138.7L565.8,139.3L565.2,142.0L563.9,140.7ZM565.5,138.1L566.5,138.9L565.7,141.3L565.4,139.9ZM559.6,133.5L561.6,134.1L561.2,135.9L559.9,134.9ZM555.0,143.6L557.6,140.5L558.8,137.7L558.4,139.7L556.0,143.2L555.0,143.6ZM517.2,149.2L519.3,150.0L521.1,150.0L522.9,151.9L525.2,153.9L527.2,155.9L528.2,156.9L530.0,158.3L532.3,159.7L532.3,162.2L533.5,163.8L534.3,164.8L535.8,166.2L536.0,168.2L535.5,171.7L533.4,171.9L532.1,170.1L529.5,168.2L527.7,165.4L526.5,162.2L524.8,159.9L523.5,157.1L521.5,155.3L520.3,153.3L518.5,151.5L517.2,149.2ZM534.3,173.7L535.8,171.9L537.6,171.9L539.8,172.7L542.7,173.7L543.8,172.9L545.3,173.5L547.4,173.9L550.4,175.5L550.1,177.5L547.7,176.7L545.1,176.7L542.5,176.3L539.9,175.7L537.4,175.1L536.3,174.9L534.3,173.7ZM550.4,176.3L552.4,176.9L551.5,177.7L550.5,176.9ZM552.9,176.9L554.2,176.7L553.7,177.9L552.9,177.7ZM554.3,177.1L556.8,176.3L558.3,177.1L555.5,178.1ZM559.5,177.1L565.0,176.5L564.7,177.5L559.8,177.7ZM558.0,179.2L560.6,179.0L561.0,180.4L558.8,179.8ZM565.9,180.6L568.5,178.5L572.6,176.9L570.2,178.3L567.5,180.2ZM541.3,157.3L542.4,156.3L543.9,156.9L545.7,155.3L548.2,153.9L549.9,151.3L552.0,150.4L553.2,148.4L554.9,146.4L556.2,148.4L557.7,149.4L559.1,150.0L557.4,151.3L556.4,153.3L556.7,156.3L558.8,158.5L556.9,159.3L556.2,161.2L555.0,163.2L554.4,165.2L554.0,167.2L553.4,168.2L551.7,167.8L550.8,167.2L549.1,166.6L546.5,166.8L545.6,166.2L543.4,166.0L543.1,163.2L541.7,161.2L541.4,159.3L541.3,157.3ZM559.4,171.1L561.1,171.3L561.1,169.2L561.3,166.6L562.4,165.6L563.1,167.2L564.2,169.2L565.8,170.1L565.0,167.2L564.0,166.2L563.2,164.0L564.9,163.6L566.4,162.2L565.5,161.8L563.2,162.0L561.6,162.6L561.2,160.8L562.7,159.3L565.9,159.3L568.5,158.7L569.6,157.1L568.4,157.9L566.7,158.5L564.1,158.3L562.0,157.7L560.8,158.9L560.3,160.6L559.3,163.2L558.5,166.2L559.4,167.8L559.4,171.1ZM573.6,156.7L574.5,155.9L574.6,158.3L575.8,159.3L574.6,159.7L574.1,161.8L573.5,159.3ZM574.6,166.6L577.9,166.2L579.3,167.4L577.0,167.2L574.9,167.4ZM570.9,166.6L573.0,166.8L572.3,168.0L571.1,167.8ZM579.8,162.8L581.6,161.4L584.2,161.6L585.4,162.2L585.7,165.2L587.2,166.8L589.3,164.8L591.5,163.2L593.7,164.2L597.2,165.4L599.7,166.8L602.3,167.8L604.0,169.2L605.3,170.9L608.2,172.3L607.2,173.7L608.4,176.1L609.4,178.1L611.1,179.0L613.2,180.6L611.4,181.0L608.3,180.4L606.7,179.0L605.2,176.7L602.7,175.5L600.8,176.7L599.9,178.1L598.4,178.5L596.4,178.3L593.9,176.5L591.2,176.9L592.3,174.1L591.6,171.7L588.3,169.4L585.7,168.2L584.0,167.8L582.8,168.2L581.4,165.8L584.1,165.0L582.0,164.6L580.3,163.4L579.8,162.8ZM609.6,171.3L612.6,170.9L615.4,168.6L616.8,169.0L615.2,171.1L612.5,172.7L609.8,172.1ZM614.3,165.6L616.3,167.0L618.0,169.2L617.1,169.4L615.4,167.4ZM623.7,173.7L625.5,175.1L624.9,176.1L623.5,174.7ZM628.1,177.7L630.8,179.0L630.2,179.6L628.5,179.2ZM631.5,178.8L633.1,181.2L632.2,181.4L631.1,179.6ZM490.2,147.4L491.5,148.5L492.9,147.8L493.6,145.8L492.5,143.4L490.6,140.9L490.0,142.4L489.9,144.8L490.2,147.4ZM545.2,203.8L546.3,203.4L547.6,203.0L551.0,201.0L554.6,200.4L556.9,199.6L559.5,197.8L561.4,195.9L562.2,193.9L564.1,193.1L564.8,191.9L566.2,190.5L567.6,189.1L569.1,188.3L570.8,187.6L572.2,188.9L572.9,189.9L574.5,189.7L575.5,188.9L575.9,186.8L576.9,185.6L577.9,184.8L579.7,184.4L581.1,184.0L581.3,182.8L582.9,183.6L585.2,184.4L587.4,183.8L588.5,184.6L587.6,186.4L586.4,187.0L585.4,189.5L586.9,191.1L588.7,192.5L590.2,193.7L591.0,194.9L592.5,195.3L593.6,194.7L595.1,192.5L595.9,189.9L596.1,187.2L596.8,185.0L597.9,182.0L598.6,181.4L599.2,183.6L599.7,186.6L599.7,188.5L601.3,188.5L602.2,190.3L602.0,192.5L602.5,194.9L602.4,197.3L604.4,198.6L606.2,200.4L606.8,203.6L608.1,204.8L608.1,206.7L609.6,208.3L610.9,210.3L610.2,212.7L610.0,214.7L609.6,216.8L607.6,220.0L605.9,222.6L604.0,224.6L601.4,226.9L599.8,228.9L597.5,231.1L595.1,234.4L592.5,235.0L590.7,235.4L587.5,237.6L586.7,236.4L585.9,235.8L584.9,236.2L582.5,237.0L580.8,236.0L579.3,235.4L578.9,234.0L579.6,232.1L579.2,230.7L578.6,230.5L579.3,229.1L579.1,227.9L578.0,229.3L576.7,230.3L576.4,229.7L578.3,227.5L579.5,225.7L578.0,226.9L576.3,227.9L575.0,229.1L574.1,228.5L574.6,226.9L573.8,225.5L573.3,224.0L571.5,223.4L569.9,222.6L566.9,222.8L564.1,223.6L561.1,224.2L558.1,225.3L555.8,227.1L553.5,227.5L551.3,227.1L549.0,227.5L547.4,228.3L545.3,229.5L543.7,229.5L542.1,228.9L540.9,228.1L541.7,226.7L542.7,226.1L543.7,224.0L543.9,222.8L543.8,220.8L544.1,218.6L543.8,217.2L543.7,215.1L543.3,212.7L543.4,210.9L544.5,209.3L544.4,207.3L545.0,205.8L545.2,203.8ZM582.9,240.7L584.7,241.5L588.6,241.1L586.9,243.7L585.2,245.2L583.1,246.2L581.4,246.4L581.8,243.9L582.1,242.3L582.9,240.7ZM636.1,228.3L636.8,229.5L637.3,230.7L636.6,233.1L637.1,234.0L637.4,234.6L638.6,235.4L641.5,234.8L640.0,236.6L638.5,237.8L636.9,238.0L635.7,239.4L633.6,240.7L630.6,242.5L630.1,241.9L632.2,240.3L632.3,239.0L631.9,237.8L633.8,236.8L635.5,234.4L636.0,232.5L635.8,231.1L635.7,229.9L636.1,228.3ZM628.3,240.3L629.0,241.1L629.7,241.9L627.6,243.7L625.0,245.2L623.6,246.6L620.3,247.8L616.8,250.9L613.9,252.0L611.9,252.2L609.9,251.3L611.9,249.5L616.0,247.2L618.7,246.2L621.0,245.2L623.8,243.3L625.0,242.3L626.9,240.9L628.3,240.3ZM205.7,116.9L206.9,115.7L208.8,114.9L210.9,114.5L213.5,114.7L215.4,115.7L217.6,116.1L219.1,117.5L221.2,118.5L223.7,120.3L222.1,120.9L219.5,120.9L217.5,120.9L218.5,119.5L217.0,119.1L216.2,117.5L214.0,117.1L211.6,116.3L210.8,115.5L208.7,116.3L206.3,117.1L205.7,116.9ZM222.9,123.6L225.0,121.1L225.9,120.9L229.0,120.9L230.7,121.3L232.3,122.3L233.2,123.4L232.1,124.0L230.4,124.2L227.9,125.4L226.9,124.2L224.5,124.2L222.8,124.0ZM216.1,124.0L218.6,123.6L219.7,124.6L218.6,124.8L216.9,124.8ZM235.3,123.6L238.0,124.0L237.6,124.6L235.2,124.6ZM259.5,66.3L261.5,66.3L264.6,66.3L265.8,67.7L267.8,68.3L269.4,67.5L269.9,66.3L268.8,65.0L270.1,63.2L268.0,62.5L266.7,61.9L266.8,60.2L267.7,58.7L265.6,59.2L264.0,60.8L261.4,63.6L259.9,65.0L259.5,66.3ZM161.6,65.0L160.2,64.4L159.2,63.1L158.1,61.5L157.5,60.2L159.4,60.2L161.3,61.3L161.9,62.9L161.6,65.0ZM155.2,57.9L154.9,56.0L155.4,53.9L156.7,54.1L156.1,56.2ZM259.8,39.7L257.4,38.9L253.8,38.1L252.1,36.3L249.9,35.4L247.1,35.0L247.7,33.6L251.3,33.1L254.9,31.6L256.6,29.9L255.0,28.4L253.3,26.0L250.2,26.0L247.3,25.7L243.5,25.7L241.1,24.9L240.6,23.3L242.5,21.2L245.3,20.1L249.0,19.9L253.3,19.7L255.8,21.2L258.7,21.3L260.3,22.5L262.2,23.3L263.9,24.4L265.9,25.0L266.3,26.5L264.7,28.2L266.6,29.4L267.9,30.4L270.0,31.4L268.2,32.8L265.4,33.8L263.5,35.0L263.8,36.3L262.5,37.7L259.8,39.7ZM243.6,35.9L240.6,36.5L238.0,36.3L235.5,35.9L236.0,34.1L238.6,32.4L240.0,33.3L241.4,34.1L242.8,35.0ZM205.5,23.3L208.0,21.7L212.3,20.5L215.2,21.2L218.8,21.2L222.8,20.9L223.0,22.5L223.6,24.9L223.8,26.0L218.8,27.3L214.8,27.5L210.7,27.9L206.7,27.3L203.6,26.7L202.1,25.7L204.2,24.4L207.3,24.4L205.5,23.3ZM197.1,22.6L200.2,20.5L203.6,19.3L208.4,18.8L211.0,19.6L210.4,21.2L206.7,22.5L203.0,23.3L198.1,23.7ZM232.1,22.5L228.9,23.3L226.6,22.5L227.0,20.9L230.7,19.6L233.9,19.4L234.3,20.9ZM239.2,22.1L235.8,22.5L235.2,21.2L237.3,19.6L241.3,19.1L242.3,20.1ZM256.3,18.3L250.1,18.6L243.2,18.3L242.6,17.2L239.0,16.8L242.3,15.9L247.4,15.5L253.0,15.6L256.9,16.3L257.1,17.4ZM260.5,15.0L255.3,15.6L248.0,15.5L250.5,14.3L246.2,13.6L245.1,12.5L248.7,11.4L252.5,10.0L251.5,9.2L255.8,8.4L262.2,7.4L270.2,6.8L278.4,7.0L284.3,7.3L284.9,7.8L279.8,8.7L275.1,9.6L270.7,10.8L266.7,12.1L263.9,13.3L263.6,14.1L260.5,15.0ZM254.6,11.5L249.3,12.8L246.4,12.4L245.8,11.1L247.5,9.8L252.0,8.8L254.7,9.2L255.1,10.1ZM228.9,17.4L224.7,18.0L220.5,18.0L217.0,17.5L215.1,16.8L218.3,15.8L223.3,15.5L226.6,15.2L228.1,16.2L229.5,16.5ZM236.2,17.7L232.6,17.7L233.9,16.2L237.1,15.5L238.5,16.2ZM218.8,15.0L214.2,16.2L209.4,15.9L215.1,14.0L219.1,14.0ZM270.2,12.5L271.3,13.9L271.8,15.9L275.6,16.2L280.5,15.9L283.2,16.9L283.5,18.3L283.9,20.1L283.8,21.7L283.3,24.1L286.0,24.9L286.7,26.0L283.1,27.0L286.1,27.3L282.2,29.0L281.3,30.7L281.7,33.0L282.0,35.6L282.7,38.2L283.5,40.4L284.4,41.6L286.3,42.1L289.4,43.2L291.0,42.7L292.2,41.3L294.4,38.6L296.5,36.3L298.4,34.1L301.4,33.1L305.0,32.1L307.6,29.9L311.2,28.7L317.1,28.0L320.6,26.5L322.8,24.9L319.9,24.1L323.8,23.3L323.5,21.7L325.1,20.1L327.1,18.8L328.1,16.9L330.0,15.5L329.4,14.0L330.4,12.1L331.4,10.3L335.5,8.9L334.0,8.1L327.9,7.7L323.0,6.8L317.0,6.2L309.9,6.2L303.2,7.0L296.7,7.4L291.2,7.8L286.0,8.2L283.4,8.8L279.4,9.6L277.6,10.3L274.2,11.1L270.2,12.5ZM363.1,12.1L366.1,13.3L368.5,14.4L369.8,15.3L370.9,14.7L371.8,13.7L374.4,12.8L376.1,13.0L373.6,12.1L374.4,11.1L371.1,10.6L368.3,10.3L365.6,10.6L362.9,10.9ZM371.0,10.5L374.4,10.8L377.7,10.9L380.8,10.3L377.8,9.8L374.1,9.8L371.4,10.0ZM415.1,23.6L417.4,24.4L420.1,24.7L422.6,24.7L419.3,23.3L419.8,22.0L419.0,20.5L420.7,19.3L422.1,17.7L424.8,16.6L427.1,15.9L429.5,14.9L427.8,14.6L425.0,14.7L422.3,15.6L419.5,16.5L417.8,17.4L416.6,18.5L416.3,20.1L416.0,21.7L415.2,22.5ZM401.6,9.9L405.1,10.2L410.4,10.1L413.9,9.8L410.8,9.2L405.4,9.2L402.4,9.4ZM455.8,11.8L460.5,13.0L462.4,11.8L465.3,11.1L463.5,9.8L457.8,9.2L454.9,9.4L454.6,10.3ZM511.5,17.7L515.3,18.3L518.4,18.0L520.9,17.7L522.8,17.4L524.8,17.2L527.4,17.4L523.5,16.5L518.9,16.2L514.8,16.2L513.5,16.8L511.4,16.9ZM127.7,24.1L131.6,23.3L131.3,23.7L128.6,24.2ZM572.9,24.2L574.1,24.1L572.7,23.3L571.8,23.4ZM412.5,27.3L414.2,27.5L414.1,26.7L412.5,26.5ZM424.4,25.7L427.1,26.0L425.9,25.0L424.4,25.0ZM511.7,137.5L512.2,136.5L511.9,133.5L511.7,135.5ZM443.4,135.3L445.4,135.1L444.6,135.9ZM218.2,112.2L218.8,111.8L218.5,113.2ZM218.5,107.6L220.5,107.6L219.8,107.0ZM133.4,47.4L130.8,48.6L129.6,48.0L132.7,46.7ZM120.8,42.3L118.8,42.5L118.1,43.4L119.7,43.0ZM122.9,37.2L119.7,36.5L121.5,37.0L122.1,37.5ZM252.9,62.1L256.5,62.9L256.6,63.4L254.1,63.1ZM251.2,68.3L254.7,68.5L252.2,69.0ZM255.0,70.0L257.6,69.0L257.3,67.5L255.5,68.5ZM419.3,171.7L419.8,172.9L419.4,172.5ZM258.8,261.1L262.3,261.3L263.4,262.2L260.7,263.0ZM632.3,200.2L636.4,204.2L635.5,204.4L632.5,201.0ZM656.3,194.9L658.6,194.9L657.9,196.3L656.2,196.1ZM83.4,120.3L84.7,121.3L83.3,122.9L82.9,121.7ZM82.4,118.7L83.5,119.1L82.7,119.5ZM79.9,117.5L80.9,117.9L80.1,118.1ZM77.7,116.3L78.5,116.3L78.0,116.9ZM295.0,266.4L298.1,266.9L297.5,267.5ZM628.8,176.1L630.4,177.1L629.2,177.3ZM639.4,191.9L640.6,192.9L639.7,193.1ZM639.2,189.9L640.0,190.9L639.2,191.3Z" fill="#b3b3b3" stroke="#b3b3b3" stroke-width="0.4" stroke-linejoin="round"/>
<path d="M397.3,79.0L395.9,78.0L395.5,77.2L395.1,75.7L396.1,74.5L396.1,72.9L396.5,71.7L397.4,71.0L398.1,69.6L398.5,68.5L399.7,68.3L401.5,69.2L403.2,69.4L401.7,70.6L403.5,72.1L404.2,72.5L405.8,71.7L406.5,71.2L408.0,70.8L406.3,70.4L405.3,69.0L406.7,68.3L408.9,67.3L411.1,67.1L410.1,68.1L410.0,69.4L409.4,70.2L409.3,71.0L410.6,72.5L412.4,73.5L413.6,74.3L415.1,75.3L416.9,76.6L417.3,78.0L415.8,79.2L413.4,79.2L410.9,79.0L409.2,78.4L406.7,77.2L405.1,77.2L403.5,77.6L402.0,78.2L400.5,79.0L398.1,78.8ZM424.2,72.1L424.3,70.4L424.7,69.0L426.9,68.3L429.1,67.9L431.0,67.5L433.0,67.9L433.7,69.4L433.8,71.0L432.4,71.4L431.5,72.3L431.5,74.5L433.1,75.7L434.7,77.2L435.6,78.8L436.0,80.2L437.6,81.1L437.5,83.1L438.4,85.1L439.0,86.5L437.5,87.2L435.1,87.4L433.3,86.9L431.6,86.1L430.3,84.7L430.1,82.7L430.5,81.3L431.7,80.4L430.5,80.0L429.3,78.6L428.0,77.4L426.6,76.0L425.9,75.1L425.8,73.7L424.7,72.7Z" fill="#fff"/>
<path d="M48.9,219.6L199.9,219.6L350.9,219.6L501.9,219.6L652.9,219.6M36.3,160.2L193.6,160.2L350.9,160.2L508.2,160.2L665.5,160.2M48.9,100.9L199.9,100.9L350.9,100.9L501.9,100.9L652.9,100.9M99.6,43.0L225.3,43.0L350.9,43.0L476.5,43.0L602.2,43.0M183.4,277.5L175.8,268.3L168.9,258.8L162.9,249.1L157.6,239.4L153.2,229.5L149.5,219.6L146.8,209.7L144.9,199.8L143.3,189.9L142.1,180.0L141.4,170.1L141.2,160.2L141.4,150.4L142.1,140.5L143.3,130.6L144.9,120.7L146.8,110.8L149.5,100.9L153.2,91.0L157.6,81.1L162.9,71.4L168.9,61.7L175.8,52.2L183.4,43.0L191.6,34.1L200.2,25.7L209.7,17.7L220.6,10.3L230.9,4.5L239.3,0.7M267.1,277.5L263.3,268.3L259.9,258.8L256.9,249.1L254.2,239.4L252.0,229.5L250.2,219.6L248.9,209.7L247.9,199.8L247.1,189.9L246.5,180.0L246.2,170.1L246.0,160.2L246.2,150.4L246.5,140.5L247.1,130.6L247.9,120.7L248.9,110.8L250.2,100.9L252.0,91.0L254.2,81.1L256.9,71.4L259.9,61.7L263.3,52.2L267.1,43.0L271.2,34.1L275.5,25.7L280.3,17.7L285.7,10.3L290.9,4.5L295.1,0.7M350.9,277.5L350.9,268.3L350.9,258.8L350.9,249.1L350.9,239.4L350.9,229.5L350.9,219.6L350.9,209.7L350.9,199.8L350.9,189.9L350.9,180.0L350.9,170.1L350.9,160.2L350.9,150.4L350.9,140.5L350.9,130.6L350.9,120.7L350.9,110.8L350.9,100.9L350.9,91.0L350.9,81.1L350.9,71.4L350.9,61.7L350.9,52.2L350.9,43.0L350.9,34.1L350.9,25.7L350.9,17.7L350.9,10.3L350.9,4.5L350.9,0.7M434.7,277.5L438.5,268.3L441.9,258.8L444.9,249.1L447.6,239.4L449.8,229.5L451.6,219.6L452.9,209.7L453.9,199.8L454.7,189.9L455.3,180.0L455.6,170.1L455.8,160.2L455.6,150.4L455.3,140.5L454.7,130.6L453.9,120.7L452.9,110.8L451.6,100.9L449.8,91.0L447.6,81.1L444.9,71.4L441.9,61.7L438.5,52.2L434.7,43.0L430.6,34.1L426.3,25.7L421.5,17.7L416.1,10.3L410.9,4.5L406.7,0.7M518.4,277.5L526.0,268.3L532.9,258.8L538.9,249.1L544.2,239.4L548.6,229.5L552.3,219.6L555.0,209.7L556.9,199.8L558.5,189.9L559.7,180.0L560.4,170.1L560.6,160.2L560.4,150.4L559.7,140.5L558.5,130.6L556.9,120.7L555.0,110.8L552.3,100.9L548.6,91.0L544.2,81.1L538.9,71.4L532.9,61.7L526.0,52.2L518.4,43.0L510.2,34.1L501.6,25.7L492.1,17.7L481.2,10.3L470.9,4.5L462.5,0.7" fill="none" stroke="#fff" stroke-opacity="0.1" stroke-width="0.75" stroke-dasharray="1.45 0.6 1.45 1.45"/>
<path d="M222.3,80.4L221.1,81.3L220.0,82.3L218.8,83.3L216.9,84.3L215.5,83.6L214.2,82.9L212.9,83.7L211.6,84.5L210.0,84.9L208.4,85.3L206.4,86.9L205.2,87.1M183.3,92.0L184.4,92.2L185.5,92.4L186.6,92.6L187.7,92.8L188.8,93.0L190.2,93.1L191.5,93.2L192.8,93.4L193.5,94.2L194.2,95.1L194.9,95.9L195.7,96.8L196.4,97.7L197.2,98.5L197.8,98.9M182.5,80.2L183.8,79.9L185.0,79.7L186.3,79.4L187.5,79.2L189.5,79.0L190.8,79.2L192.0,79.4L193.3,79.6L194.6,79.4L195.9,79.3L197.3,79.2M213.3,89.0L211.8,90.0L210.3,91.0L208.0,91.8L206.8,91.4L205.6,91.0L206.2,89.5L206.9,88.0L206.6,86.9M176.1,57.9L174.7,59.2L173.2,60.4L171.7,61.7L170.7,63.6L168.9,65.6L167.4,66.5L165.9,67.5L165.6,69.0L163.0,70.0L161.8,70.1L160.6,70.1L159.4,70.2L158.8,69.6L158.1,69.0M176.5,73.3L174.0,74.3L172.3,74.9L170.7,75.5L169.1,76.0L168.2,75.3L167.4,74.5L166.5,73.7L167.4,72.0L168.3,70.3L169.2,68.6L167.6,68.8L165.9,69.0M180.7,80.7L179.1,81.4L177.7,82.1L176.1,82.6L174.5,83.1L172.2,84.7L170.5,86.0L168.7,87.2L166.5,88.6L165.2,88.8L163.9,89.0L162.1,91.0L161.5,92.5L161.0,94.0L160.5,95.5L159.5,97.3M230.5,72.9L232.0,72.1L233.4,71.4L234.7,70.9L236.0,70.4L237.5,69.6L239.1,68.7L240.6,67.9L242.4,66.7L244.1,65.6M178.3,50.0L179.6,49.8L180.9,49.5L182.2,49.2L183.5,48.9L185.0,48.3L186.5,47.7L188.0,47.0L189.5,46.4L191.0,45.8L192.8,44.9L194.6,43.9L195.3,42.1M174.5,56.0L173.4,56.0L172.4,56.0L171.4,56.0L170.3,56.0L169.3,56.0L168.3,57.9L167.2,59.8L166.6,61.2L166.0,62.7L164.6,63.1L163.2,63.4M206.8,94.0L205.9,95.4L205.1,96.9L203.8,98.9M211.4,92.0L210.7,94.0L209.9,95.9L209.4,97.6L208.8,99.2L208.3,100.9M226.3,83.1L226.8,84.1L226.6,86.1M230.2,76.2L229.3,77.7L228.3,79.2L227.3,80.7L227.9,82.1M233.3,76.2L232.8,78.2L232.2,79.6M215.9,78.2L214.3,79.2L212.7,80.2L211.2,81.1L209.6,82.1L209.0,83.6L208.3,85.1M180.9,120.7L179.4,119.7L177.9,119.8L176.5,119.8L175.1,119.9L173.9,119.1L172.8,118.3L170.8,117.7M181.6,116.7L183.1,117.7L183.8,118.1M181.4,123.6L179.6,124.1L177.8,124.6L176.4,124.6L174.9,124.6M190.4,127.6L191.4,126.3L192.4,125.0L191.5,123.6M174.9,110.8L174.3,109.5L173.8,108.3L173.2,107.1L172.7,105.8L172.4,104.5L172.2,103.2L172.0,101.9M196.0,130.6L197.9,129.6M224.0,182.0L223.3,180.8L222.6,179.5L221.9,178.3L221.2,177.1L221.3,175.7L221.5,174.3L221.7,172.9L221.9,171.5L222.1,170.1L222.6,169.2M216.0,179.0L215.8,177.7L215.5,176.3L215.3,174.9L215.1,173.5L214.8,172.1L215.7,170.9L216.5,169.7L218.2,169.6L220.0,169.5L221.3,169.4L222.6,169.2M230.3,157.3L231.5,158.1L232.6,159.0L233.8,159.9L235.2,160.3L236.7,160.8L238.2,161.2L239.9,161.7L241.7,162.2L242.8,163.3L243.9,164.3L245.0,165.3L246.1,166.4M219.8,158.3L220.9,159.1L221.9,159.9L223.0,160.6L224.0,161.4L225.1,162.2L226.5,162.6L227.9,163.0L229.3,163.4L230.7,163.8L232.1,164.2L233.4,164.6L234.7,165.0L236.1,165.4L237.4,165.8M217.2,159.3L218.2,160.1L219.2,160.9L220.3,161.7L221.3,162.6L222.3,163.4L223.4,164.2L224.7,164.7L226.0,165.2L227.3,165.7L228.7,166.2L230.4,166.7L232.2,167.2M223.8,178.1L224.9,177.1L226.1,176.1L227.2,175.1L228.3,174.1L229.4,173.1L230.5,172.1L231.4,171.1L232.2,170.1L233.1,169.2L233.9,168.2L235.2,166.9L236.5,165.6M227.4,181.0L228.6,180.4L229.7,179.7L230.8,179.0L231.9,178.1L233.1,177.1L234.2,176.1L235.3,175.1L236.4,174.1L237.6,173.1L238.4,172.1L239.2,171.1L240.1,170.1L240.9,169.2L242.2,168.4L243.5,167.6M237.0,181.0L237.8,180.0L238.6,179.0L239.5,178.1L240.3,177.1L241.1,176.1L242.0,175.1L242.8,174.1L243.7,173.1L244.5,172.1L245.3,171.1L246.2,169.7L247.0,168.4L247.9,167.0M238.8,193.9L238.6,192.3L238.5,190.7L238.4,189.1L238.3,187.6L238.2,186.0L237.9,184.5L237.7,183.1L237.4,181.6M252.2,188.0L251.8,186.5L251.5,185.1L251.2,183.7L250.9,182.3L250.5,180.9L250.2,179.5L249.9,178.1L250.5,176.7L251.0,175.4L251.5,174.1L252.2,172.9L252.8,171.6L253.4,170.4L254.0,169.2L254.3,167.8L254.6,166.4L254.8,165.0M259.0,186.0L258.9,184.4L258.8,182.8L258.7,181.2L258.7,179.6L258.6,178.1L258.8,176.7L258.9,175.3L259.0,173.9L259.2,172.5L259.3,171.1L259.5,169.5L259.8,167.8L260.1,166.2L260.1,164.8L260.1,163.4M267.8,189.9L267.7,188.5L267.6,187.1L267.4,185.7L267.3,184.3L267.1,182.9L267.0,181.5L266.9,180.0L267.2,178.6L267.5,177.1L267.8,175.6L268.1,174.1L267.2,172.8L266.3,171.5L265.4,170.1L265.2,168.7L265.1,167.2L264.9,165.7L264.8,164.2L266.2,163.2M260.2,191.9L260.7,190.4L261.3,188.9L261.9,187.5L262.5,186.0L262.7,184.6L263.0,183.2L263.3,181.8L263.6,180.4L263.9,179.0L264.4,177.7L264.8,176.3L265.3,174.9L265.8,173.5L266.3,172.1L266.4,170.7M251.6,191.9L251.5,193.4L251.5,194.9L251.5,196.4L251.5,197.8L251.6,199.3L251.8,200.8L251.9,202.3L252.0,203.8L252.3,205.4L252.5,207.0L252.8,208.7L253.0,210.3L252.7,211.6L252.4,212.9L252.0,214.3M264.7,214.7L263.3,214.5L261.9,214.3L260.4,214.1L259.4,214.9L258.4,215.8L257.4,216.6L256.7,217.6L256.0,218.6L255.3,219.6L254.6,220.6L254.5,222.2L254.4,223.9L254.3,225.5L254.3,227.5M239.5,201.8L240.9,202.5L242.2,203.3L243.6,204.0L245.0,204.8L246.1,205.6L247.2,206.4L248.3,207.1L249.4,207.9L250.5,208.7L251.6,209.5L252.8,210.3M225.3,147.4L226.8,146.7L228.3,146.1L229.8,145.4L231.5,145.3L233.3,145.2M218.1,156.3L218.6,154.6L219.0,153.0L219.4,151.3L219.8,149.7L220.3,148.0L220.7,146.4L220.9,144.4L221.2,142.4L221.0,140.5L220.9,138.5M236.6,233.4L237.8,234.2L239.0,235.0L240.1,235.8L241.3,236.6L242.5,237.4L243.9,238.1L245.3,238.9L246.7,239.6L248.1,240.3L250.0,241.3M240.4,209.7L241.3,210.8L242.1,212.0L243.0,213.1L243.9,214.2L244.8,215.4L245.7,216.5L246.6,217.6L247.3,219.0L248.1,220.3L248.9,221.6L249.7,223.0M239.1,247.2L240.2,247.1L241.4,247.0L242.5,246.9L243.7,246.8L244.9,246.5L246.1,246.1L247.3,245.8M270.2,184.0L271.0,182.7L271.8,181.4L272.6,180.0L273.2,178.6L273.8,177.1L274.5,175.6L275.1,174.1L275.6,172.8L276.2,171.5L276.7,170.1L277.1,168.8L277.5,167.5L277.9,166.2M274.2,174.1L273.9,172.6L273.7,171.1L273.4,169.6L273.2,168.2L273.5,165.6M246.1,157.3L246.5,158.6L246.8,159.9L247.3,161.2L248.0,162.6L248.8,163.9L249.6,165.2M256.6,155.3L256.6,153.8L256.6,152.3L256.6,150.9L256.7,149.4M275.4,200.8L276.6,201.5L277.8,202.1L279.0,202.8L280.7,203.2M415.7,137.3L414.0,137.9L412.2,138.5L410.8,136.9L409.9,135.6L409.0,134.4L408.1,133.1L407.6,131.3L407.1,129.4M414.1,132.5L413.6,130.6L413.1,128.6L412.2,127.6L411.3,126.6L410.4,125.6L409.3,125.2M374.4,141.8L372.9,142.0L371.5,142.2L370.1,142.4L368.3,142.9L366.6,143.4L365.2,143.9L363.9,144.4L362.6,144.8M331.0,134.5L330.1,132.8L329.3,131.2L328.4,129.9L327.6,128.7L326.7,127.4L325.3,127.8L323.8,128.2L322.4,128.6M349.2,138.5L349.5,140.1L349.7,141.8L350.0,143.4L350.6,145.1L351.2,146.7L351.8,148.4M345.7,140.5L346.1,142.4L346.5,144.4L346.3,146.1L346.0,147.7L345.7,149.4M338.7,142.4L339.3,143.8L339.9,145.1L340.4,146.4L340.9,147.9L341.3,149.4M394.5,151.3L393.2,151.3L391.9,151.3L390.6,151.3L389.3,151.3L387.8,151.4L386.3,151.5L384.9,151.6L383.4,151.7L382.7,153.3L382.1,154.8L381.5,156.3L381.6,157.9L381.7,159.6L381.8,161.2M390.0,182.0L389.6,180.7L389.2,179.4L388.8,178.1L388.3,176.7L387.9,175.4L387.5,174.1L387.1,172.6L386.7,171.1L385.6,170.4L384.5,169.6L383.4,168.9L382.3,168.2L381.0,167.5L379.7,166.8M398.8,218.6L397.4,219.0L395.9,219.3L394.5,219.6L392.9,219.1L391.2,218.6L390.0,218.1L388.8,217.6L387.5,217.1L386.3,216.6L384.9,216.5L383.5,216.4L382.1,216.2L380.4,216.5L378.7,216.8M400.0,212.7L398.6,213.0L397.2,213.3L395.7,213.7L394.5,214.9L393.3,216.0L392.1,217.2M397.7,208.7L398.6,207.4L399.5,206.1L400.5,204.8L402.2,204.7L403.9,204.6L404.7,205.6L405.5,206.7L406.3,207.7L407.1,208.9L407.8,210.1M382.9,188.0L383.3,189.3L383.6,190.7L383.9,192.1L384.2,193.5L384.5,194.9L385.8,195.6L387.1,196.4L388.3,197.1L389.6,197.8M382.2,142.4L381.4,141.5L380.5,140.5L379.6,139.5L378.7,138.5L377.8,137.3L376.9,136.1L376.1,134.9M424.2,152.3L424.4,153.9L424.6,155.5L424.8,157.1L425.0,158.7L425.2,160.2M418.8,144.4L420.0,145.4L421.1,146.4L422.2,147.4L423.3,148.4L424.2,149.6L425.1,150.9L426.0,152.1L426.9,153.3L427.7,154.3L428.6,155.3L429.5,156.3M417.3,167.2L419.0,166.6L420.8,166.2M411.9,176.1L413.6,176.1L415.4,176.1L416.7,176.1L418.0,176.1L419.4,176.1M409.9,184.0L410.3,185.6L410.6,187.3L411.0,188.9L411.4,190.9L411.8,192.9M403.3,164.2L402.9,166.2L402.4,168.2L402.1,170.1L401.8,172.1M405.0,167.2L405.9,168.2L406.8,169.2L407.6,170.1L408.0,171.6L408.4,173.1M402.5,159.3L403.3,157.8L404.2,156.3L405.0,154.8L405.9,153.3M377.1,148.4L377.6,147.1L378.2,145.7L378.8,144.4L379.6,143.4L380.5,142.4L381.4,141.5M371.0,152.3L372.3,153.3L373.6,154.3L374.8,155.0L375.9,155.6L377.1,156.3M372.7,162.2L371.4,161.7L370.1,161.2L368.8,161.5L367.5,161.8M375.3,178.1L375.9,179.5L376.5,181.0L377.2,182.5L377.8,184.0L378.1,185.6L378.3,187.3L378.6,188.9M431.8,195.9L430.6,194.9L429.4,193.9L427.8,192.3M430.4,203.8L429.2,203.3L427.9,202.8L426.3,201.8M365.5,66.5L364.1,66.4L362.6,66.3L362.8,64.6L363.7,63.6L363.5,61.7L362.4,60.9L361.4,60.0L361.0,59.0L360.0,58.1L358.8,58.1L357.6,58.1M374.3,60.8L372.5,60.8L371.5,59.8L370.2,59.0L368.8,58.1L368.3,56.2L367.0,55.6L365.7,55.1L363.9,54.3M378.2,62.1L377.4,60.8L376.5,59.6L375.3,58.8L374.1,57.9L372.4,56.6L372.0,55.1M379.8,62.3L381.2,61.5L382.3,60.9L383.3,60.4L382.8,59.0L382.2,57.5L381.2,57.0L380.1,56.5L379.1,56.0L378.3,53.6M357.8,65.9L356.3,64.6L354.4,63.8L352.4,63.1L351.2,62.7M357.2,71.4L356.7,69.9L356.3,68.5L355.5,67.5L354.8,66.5L353.8,65.8L352.0,66.7L350.1,66.7L348.8,66.8L347.5,66.9M361.0,68.6L359.5,69.8L358.4,70.0L358.4,71.6L358.5,73.3L358.3,74.5M362.7,71.9L363.8,71.5L365.0,71.2L366.2,71.3L367.3,71.4L368.8,71.5L370.3,71.5M344.6,75.3L345.9,75.8L347.2,76.3L348.5,76.8L349.5,77.9L350.6,78.5L351.7,79.2L352.3,79.8M347.7,80.5L346.1,80.9L344.5,81.3L343.1,81.5L341.8,81.6L340.4,81.7L338.8,82.0L337.2,82.3L336.2,83.5M346.1,77.6L344.8,77.8L343.4,78.0L342.1,78.2L340.9,78.7L339.7,79.2L338.4,79.0L337.1,78.9M345.2,85.1L343.1,85.3L341.1,86.3L340.4,87.4M346.9,83.1L345.5,83.2L344.2,83.2L342.8,83.3L341.2,83.7L339.5,84.1L338.7,86.7M354.1,73.3L352.9,72.8L351.7,72.3L350.1,71.5M353.3,74.3L351.7,73.3M369.0,73.7L367.5,73.9M371.2,76.2L370.8,77.6M407.3,54.5L408.1,55.8L408.8,57.2L409.6,58.5L410.6,60.1L411.6,61.7L413.2,62.2L414.8,62.7L416.2,63.5L417.6,64.4L416.6,64.9L415.5,65.5L414.4,66.0L413.3,66.5L411.6,67.3M430.1,43.9L430.5,45.3L430.8,46.7L430.2,47.6L429.6,48.6L428.9,49.5L428.3,50.4L427.2,50.7L426.1,51.0L425.0,51.3L424.0,51.5L423.0,51.7M405.2,50.4L406.4,50.7L407.7,51.0L409.0,51.3L410.5,51.3L411.9,51.3L412.8,50.7L413.7,50.0M414.5,41.3L413.3,40.8L412.1,40.4L410.9,39.9L409.8,39.5L408.8,38.6L407.8,37.7L406.9,36.8L405.9,35.9L405.0,35.0M428.9,39.5L428.0,37.7L427.1,35.9L425.9,35.0L424.7,34.1L423.5,33.3L422.5,32.4M438.0,55.1L438.2,56.5L438.3,57.9L437.3,58.0L436.3,58.1L435.3,58.3L434.3,58.4L433.3,58.5L432.2,58.7L431.1,58.9L430.1,59.0L429.0,59.2L428.2,59.4L428.7,60.9L429.2,62.5L429.6,64.0L430.0,65.6L431.1,67.3M391.9,53.2L390.8,52.6L389.8,51.9L388.7,51.3L387.4,50.4L386.2,49.5L385.3,48.6M388.7,56.0L387.8,55.1L386.9,54.1L386.1,53.2L384.9,52.7L383.7,52.2L381.8,51.7M390.9,65.6L392.0,66.2L393.1,66.8L394.2,67.5L395.5,68.1L396.7,68.6M388.7,66.5L387.5,67.2L386.3,67.8L385.0,68.5L383.9,68.7L382.8,69.0L382.5,70.8M377.4,69.4L379.0,69.9L380.6,70.4M372.7,69.4L374.3,69.9L375.9,70.4L377.2,70.6L378.5,70.9L379.9,71.2L381.1,71.5M393.1,77.2L393.4,79.2M386.8,78.2L387.5,80.0M371.5,40.4L373.0,40.8L374.4,41.3M382.1,30.7L381.8,32.4M389.2,39.5L387.9,39.9L386.7,40.4M445.8,54.1L445.6,52.6L445.5,51.0L445.2,49.5L445.9,48.7L446.5,47.9L447.1,47.1L447.7,46.3M453.9,56.0L453.5,54.4L453.1,52.9L452.6,51.3L452.7,49.9L452.7,48.6M506.4,57.3L504.8,56.3L503.2,55.2L501.7,54.1L500.4,52.9L499.1,51.6L497.7,50.4L495.9,48.8L494.1,47.3L492.9,47.0L491.7,46.8L490.5,46.6L489.2,46.3L488.2,46.3L487.2,46.3L486.3,46.3L485.3,46.3L484.3,46.3L483.1,46.2L481.9,46.0M494.6,44.9L493.1,44.2L491.6,43.6L490.2,42.9L488.7,42.3L487.2,41.6L485.8,41.0L484.3,40.4L483.3,40.3L482.4,40.3L481.4,40.3L480.4,40.3L479.4,40.3L478.5,40.3L477.5,40.2L476.5,40.2L475.5,40.2L474.6,40.2M535.7,46.7L536.2,46.3L536.7,45.8L537.3,45.3L537.8,44.9L538.3,44.4L538.8,43.9L538.6,43.0L538.4,42.1L538.2,41.3L536.6,40.4L535.0,39.5L533.4,38.6L532.0,38.3L530.6,37.9L529.2,37.6L527.8,37.3L526.4,37.0L525.7,37.0M550.6,73.7L549.4,71.7L548.1,69.8L549.0,69.5L550.0,69.1L550.9,68.8L551.8,68.5L552.6,67.9L553.4,67.3L554.2,66.7L554.9,66.1M541.1,67.5L542.9,68.5L544.7,69.4L546.2,69.9L547.7,70.4M518.3,62.7L519.3,62.5L520.3,62.4L521.3,62.3L522.3,62.1L523.3,62.0L524.4,61.8L525.4,61.7L525.9,61.2L526.5,60.6L527.1,60.1L527.7,59.5L528.3,59.0L528.9,58.5L529.4,57.9L529.8,57.1L530.2,56.3L530.6,55.5M504.1,64.6L505.0,64.1L505.9,63.6L506.8,63.1L507.7,62.7L508.5,62.2L509.4,61.7L510.3,61.2L511.1,60.8L510.6,59.3L510.0,57.9L508.4,57.7L506.8,57.5M526.7,92.0L528.4,92.2L530.1,92.4L531.5,92.1L532.9,91.8M527.7,95.0L529.1,95.2L530.6,95.3L532.0,95.5L533.4,95.7L534.9,95.8L536.3,95.9L537.6,97.4L539.0,98.9L540.6,99.3L542.3,99.7M526.0,95.0L527.1,96.9L528.1,98.9L529.0,100.3L529.8,101.7M522.0,97.9L523.3,99.4L524.6,100.9L525.8,102.1L527.0,103.3M540.9,108.8L540.8,106.8L540.7,104.8L540.5,102.3M546.2,109.8L546.1,107.8L546.0,105.8L546.0,104.4L546.1,102.9M538.9,94.0L540.3,94.6L541.6,95.3L543.0,95.9L544.1,95.6L545.2,95.3L546.6,94.9L547.9,94.4M538.0,80.2L539.5,82.1L541.5,83.3M537.0,85.1L538.0,84.6L539.0,84.1L540.2,83.7L541.5,83.3M527.9,111.8L529.5,112.4L531.0,113.1L532.5,113.8L534.2,114.4L535.9,115.1L537.2,114.4L538.5,113.8L539.8,113.8L541.1,113.8L542.6,114.1L544.1,114.5M537.5,108.8L538.3,110.3L539.0,111.8L540.2,113.6M550.8,101.9L552.1,100.5M550.2,108.8L551.5,108.8L552.7,108.8L553.7,108.6M516.3,108.8L516.1,110.1L516.0,111.4L515.8,112.8L515.5,114.1L515.3,115.4L515.1,116.7L514.5,118.7L514.4,120.7L514.3,122.7L514.8,124.6L515.3,126.6L515.0,128.6M511.6,110.8L512.2,112.8L512.7,114.7L513.4,116.2L514.0,117.7M522.9,123.2L523.2,124.7L523.4,126.2L523.7,127.7L523.9,129.2L524.5,131.2L525.1,133.1M524.0,113.8L525.5,114.4L527.1,115.1L528.6,115.7L529.8,116.7L531.0,117.7L532.2,118.7L533.7,120.3M501.2,112.8L501.6,114.2L502.0,115.7L501.7,117.3M481.5,99.9L481.4,101.8L481.1,103.7L481.9,105.0L482.8,106.4L484.2,107.2L485.6,108.0L487.1,108.7L488.6,109.3L490.0,110.0M477.7,97.9L476.6,98.6L475.5,99.3L474.6,100.2L473.7,101.0L472.7,101.9L471.5,102.4L470.4,102.9M474.6,95.0L473.5,95.9L472.5,96.9L471.9,97.9L471.3,98.9L471.0,100.6L470.6,102.3M477.6,120.7L478.9,121.2L480.2,121.7L481.5,122.3L483.3,122.7L485.1,123.1L486.8,123.3L488.6,123.6L490.0,124.6L491.4,125.6L492.8,127.4M478.0,124.8L479.2,126.2L480.4,127.6L481.8,127.8L483.3,128.0L484.8,128.2L486.0,128.1L487.3,128.0L488.7,127.8L490.0,127.6L490.9,129.0M490.1,115.3L488.7,115.1L487.2,114.9L485.8,114.7L484.5,115.1L483.3,115.4L482.1,115.8L480.8,116.1L479.2,116.5L477.5,116.9L475.5,117.5M491.3,117.7L493.1,118.2L494.8,118.7L496.4,119.2L498.1,119.7L499.3,120.1M482.8,135.5L484.1,136.0L485.4,136.5L486.6,137.6L487.7,138.7L489.6,138.5M415.0,84.1L416.3,84.8L417.6,85.5L419.1,86.1L420.6,86.7L421.5,88.4L422.7,91.0L423.6,92.7L424.5,94.4L425.8,95.2L427.1,95.9L428.2,97.2L429.4,98.5L430.1,98.9M412.5,84.1L413.1,85.6L413.8,87.1L413.1,88.0L414.9,89.2L416.3,90.3L417.7,91.4L419.0,91.8L420.3,92.2L421.7,93.6L423.1,95.0L424.9,96.9L426.3,97.9L427.8,98.9L429.5,99.1L431.3,100.1L432.3,100.9M409.0,82.1L407.7,81.1L406.3,80.2L407.0,79.2L407.6,78.2M402.6,82.1L403.7,81.1L404.7,80.2L406.1,78.8M462.7,86.7L461.2,86.5L459.8,86.3L458.4,86.1L457.2,85.3L456.0,84.6L454.8,83.8L453.7,83.1L452.3,82.1L451.0,81.1L449.7,80.2L448.6,79.2L447.6,78.2L446.5,77.2L445.7,75.8L444.9,74.3M464.6,79.2L463.2,79.7L461.7,80.2L460.9,78.7L460.0,77.2L458.8,75.9L457.6,74.6L456.4,73.3L455.1,72.6L453.7,71.9L452.4,71.4L451.2,70.9L449.9,70.4L448.7,69.9L447.4,69.4M469.4,74.3L470.2,73.6L471.0,73.0L471.9,72.3L472.3,71.4L472.7,70.4M454.2,96.9L455.6,97.9L457.1,98.9L455.4,98.9L453.7,98.9M430.0,91.0L430.7,92.3L431.5,93.6L432.2,95.0L432.0,96.4L431.8,97.9M434.7,90.0L435.9,92.0M421.2,78.2L422.7,78.9L424.1,79.5L425.6,80.2L427.3,80.6L429.0,81.1L430.0,82.1M418.8,74.3L420.4,74.0L421.9,73.7L423.2,73.6L424.5,73.6L425.8,73.5M411.4,94.0L411.2,92.5L411.0,91.0L410.3,89.0M410.0,95.0L410.1,97.3M459.7,91.0L461.1,91.3L462.5,91.7L464.0,92.0L465.7,92.3L467.4,92.6L469.1,93.0M557.5,87.1L558.6,86.1L559.9,87.1L561.2,88.0L562.7,90.0M553.1,81.1L553.0,79.7L553.0,78.2L553.9,77.7L554.8,77.2M559.5,125.6L560.6,127.6L560.5,129.1L560.3,130.6M590.1,168.2L591.4,167.2L592.8,166.2L592.0,163.8M596.8,173.1L598.0,174.1L599.2,175.1L600.9,176.1M598.8,168.2L600.1,168.4L601.4,168.6L603.2,168.2M603.8,172.1L605.1,172.9L606.3,173.7M593.1,232.5L592.2,232.0L591.2,231.5L589.7,231.3L588.1,231.1L587.6,229.8L587.0,228.5L585.4,228.2L583.9,227.9L582.3,227.9L580.8,229.5L579.4,230.5M603.3,217.6L601.4,218.1L599.6,218.6L597.9,218.6L596.2,218.6L594.6,219.6L592.9,220.6L591.4,222.1L590.0,223.6L588.5,225.1L587.0,226.5L585.5,227.7M595.9,230.5L594.5,230.0L593.1,229.5L591.8,229.4L590.5,229.2L589.2,229.1L587.5,229.1M600.7,225.5L599.9,224.6L599.1,223.6L598.3,222.6L597.5,221.6L596.7,220.6L595.9,219.6M618.7,248.2L618.8,249.1L618.7,250.1M634.9,237.4L635.9,235.9L636.8,234.4M330.1,135.5L328.9,135.0L327.8,134.5L326.6,133.9L325.2,133.9L323.7,133.8L322.3,133.7M337.9,137.5L339.0,136.6L340.2,135.8L341.4,134.9L342.2,133.2L343.1,131.6M343.1,137.5L343.9,138.5L344.8,139.5L345.7,140.5L346.1,141.9L346.5,143.4L347.9,143.9L349.2,144.4M349.2,136.5L349.2,138.5L349.2,140.5L349.6,141.9L350.0,143.4M352.6,138.5L352.2,140.1L351.8,141.8L351.4,143.4M343.1,139.5L343.4,141.0L343.7,142.4L344.0,143.9L344.3,145.4L344.4,146.9L344.6,148.3L344.8,149.8M341.3,141.5L341.6,143.1L341.9,144.8L342.2,146.4L342.2,148.2L342.2,150.0M338.7,143.4L339.2,145.1L339.6,146.7L340.1,148.4L340.4,150.4M337.0,145.4L337.2,146.9L337.4,148.4L337.6,149.9L337.8,151.3M333.5,143.4L333.0,145.4L332.6,147.4M330.9,140.5L330.0,141.9L329.1,143.4M355.2,140.5L355.2,142.1L355.1,143.8L355.1,145.4L355.3,147.6M359.6,134.5L358.7,135.5L357.8,136.5M364.8,139.5L363.9,140.5L363.1,141.5L362.2,142.4L361.3,142.8M370.0,139.5L370.9,141.8M367.5,147.4L366.4,148.9L365.4,150.4M365.7,136.5L366.5,135.5L367.4,134.5L368.8,134.4L370.3,134.3L371.7,134.1M375.3,148.4L374.2,149.1L373.2,149.9L372.1,150.6L371.0,151.3L369.5,152.2L368.0,153.1M375.4,163.2L373.9,162.6L372.5,161.9L371.0,161.2L369.2,161.5L367.5,161.8M378.8,153.3L379.1,155.0L379.4,156.6L379.7,158.3L380.2,160.2L380.6,162.2M394.5,172.1L394.4,170.5L394.2,169.0L394.0,167.4L393.9,165.8L393.7,164.2L393.6,162.8L393.5,161.4L393.3,160.1L393.2,158.7M402.4,172.1L400.6,171.6L398.9,171.1L397.2,170.1M403.3,157.3L402.0,157.3L400.7,157.3L399.4,157.3L398.1,157.3L396.3,157.5L394.6,157.7M403.3,153.3L401.9,153.2L400.5,153.1L399.1,153.0L397.7,152.8L396.3,152.7L395.1,152.6L393.9,152.4L392.6,152.3L391.4,152.1L390.2,151.9M381.3,180.0L381.4,178.5L381.4,176.9L381.4,175.3L381.4,173.7L381.4,172.1L381.0,170.1L380.6,168.2M394.5,174.1L393.4,173.3L392.4,172.5L391.4,171.7L390.3,170.9L389.3,170.1L388.0,169.6L386.7,169.2M393.7,164.2L392.5,163.6L391.3,163.0L390.0,162.4L388.8,161.8L387.6,161.2L386.1,160.9L384.7,160.6L383.2,160.2M398.6,186.0L397.9,187.2L397.2,188.4L396.5,189.7L395.9,190.9L397.3,191.1L398.7,191.3L400.2,191.5M407.4,182.0L406.8,183.7L406.1,185.3L405.5,187.0L404.9,188.3L404.3,189.6L403.6,190.9M411.7,183.0L413.0,182.8L414.3,182.5L415.6,182.3L416.9,182.0L418.3,181.7L419.7,181.4L421.2,181.0M415.6,161.2L416.7,161.9L417.9,162.6L419.0,163.2L420.0,164.2L420.9,165.2M417.9,142.4L419.1,141.8L420.2,141.1L421.4,140.5L422.4,139.0L423.5,137.5M416.2,143.4L415.6,144.7L415.0,145.9L414.3,147.1L413.7,148.4L413.7,149.8L413.7,151.1M411.9,143.8L410.1,143.6L408.4,143.4L407.0,142.4L405.7,141.5M404.2,165.2L405.2,163.7L406.3,162.2M405.9,156.3L406.1,154.6L406.3,152.9M394.5,144.4L395.8,143.9L397.1,143.4L398.3,142.9L399.6,142.4L401.1,142.2L402.5,141.9L404.0,141.7M376.9,186.0L376.7,187.4L376.5,188.7L376.3,190.1L376.1,191.5L375.9,192.9L374.5,193.4L373.0,193.8L371.6,194.3M380.4,184.0L379.8,182.8L379.1,181.5L378.5,180.3L377.9,179.0L376.6,179.0L375.3,178.9L374.0,178.8M405.0,198.8L405.8,199.8L406.6,200.8L407.4,201.8L409.2,201.8L410.9,201.8M400.6,216.6L402.2,217.3L403.7,218.0M431.8,196.9L431.5,195.2L431.2,193.6L430.9,191.9M428.8,202.8L427.2,202.9L425.7,203.0M433.3,199.8L434.8,197.8M417.1,146.4L416.8,144.8L416.5,143.1L416.2,141.5L416.6,140.0L416.9,138.5M414.6,166.2L415.2,167.5L415.8,168.8L416.4,170.1L417.2,171.6L418.0,173.1M409.4,166.2L409.0,164.2L408.6,162.2M401.6,163.2L402.0,161.7L402.5,160.2M386.6,142.4L386.1,141.0L385.7,139.5L384.8,138.0L383.9,136.5M387.5,148.4L386.4,147.7L385.2,147.1L384.0,146.4M365.5,59.0L364.6,57.0L363.5,55.1M368.3,61.7L367.2,61.9L366.1,62.1L364.8,61.9L363.5,61.7M364.7,65.0L365.1,63.6L363.8,62.7M360.9,65.6L360.4,63.2L361.1,62.1L362.4,60.9M359.3,64.6L358.2,62.3L359.4,60.6L359.6,58.9L357.6,58.3M355.9,61.1L356.5,59.8L357.4,59.2M352.0,75.7L353.1,74.1L351.4,72.5L350.1,71.5M354.8,70.4L353.8,70.8L352.7,71.3L351.7,71.7L350.1,71.4M360.1,65.6L359.3,66.7L358.5,67.9L358.4,70.0M368.0,68.5L368.1,70.6L370.2,71.2M369.9,74.3L370.8,76.2L370.5,77.6M366.4,67.9L367.4,67.2L368.4,66.6L369.4,65.9L370.4,65.2L371.4,64.4M370.3,68.1L371.4,68.2L372.6,68.3L373.8,68.4L375.0,68.5L376.2,68.9L377.5,69.3L378.8,69.8L380.1,70.2M387.8,65.6L386.5,65.4L385.2,65.2L383.9,65.0L383.4,66.3L382.8,67.7L382.3,69.0L382.7,71.0M389.7,68.5L388.4,68.8L387.2,69.1L385.9,69.4L384.8,69.3L383.6,69.2L382.5,69.0M390.6,69.4L390.0,70.9L389.4,72.3L389.6,73.9M390.9,65.8L391.6,67.0L392.2,68.2L392.9,69.4L394.6,70.6M389.3,65.2L390.6,65.6L392.0,66.1L393.3,66.5L393.8,67.8L394.4,69.1L394.9,70.4M386.7,62.7L387.9,63.1L389.1,63.6L390.3,64.1L391.5,64.6L392.6,65.2L393.7,65.9L394.8,66.5L395.9,67.4L396.9,68.2L398.0,69.0M392.7,62.3L394.1,63.1L395.5,63.8L396.9,64.6L398.0,65.6L399.1,66.7L400.3,67.7M386.9,58.9L388.0,58.6L389.1,58.4L390.2,58.2L391.2,57.9L392.4,58.2L393.6,58.6L394.8,58.9L396.0,59.2M399.6,55.1L399.9,56.5L400.2,57.9L399.2,58.8L398.1,59.7L397.1,60.6M396.5,50.4L395.5,50.6L394.5,50.8L393.5,50.9L392.6,51.1L391.6,51.3L390.4,50.9L389.3,50.6L388.0,49.9L386.7,49.2L385.5,48.6M404.5,57.0L404.8,55.8L405.1,54.6L405.4,53.4L405.6,52.2L406.8,52.2L408.1,52.2L409.3,52.2L410.6,51.8L411.9,51.3L412.8,50.8L413.6,50.3L414.4,49.8M422.7,44.9L422.7,46.1L422.7,47.3L422.6,48.6L424.1,49.8L425.6,50.9M435.1,55.1L433.9,53.8L432.8,52.6L431.6,52.0L430.4,51.4L429.2,50.8M407.0,43.9L408.0,43.6L409.0,43.2L410.0,42.9L411.0,42.5L412.0,42.1L413.3,41.7L414.5,41.3M419.0,36.8L417.8,36.4L416.6,35.9L415.5,35.5L414.3,35.0L413.1,34.6L412.0,34.1L410.7,33.3L409.4,32.4M348.1,58.5L349.4,58.7L350.8,58.9L351.9,58.9M345.7,57.0L347.6,57.5L346.9,58.7M347.9,56.0L348.9,55.4L349.9,54.7M339.1,54.1L338.6,56.6L336.8,56.8M368.8,40.4L369.9,40.8L370.9,41.3L372.0,41.7L373.1,42.1L374.9,41.8M371.3,32.4L372.2,33.0L373.1,33.5L374.0,34.0L375.0,34.6L375.9,35.2L376.8,35.7L377.8,36.3M372.9,29.9L373.9,30.4L374.9,30.8L375.9,31.3L376.9,31.7L377.9,32.2L378.9,32.7L379.9,33.1M365.9,38.6L366.2,40.1L366.6,41.5L367.0,43.0L366.4,44.5M387.1,29.9L386.3,30.5L385.5,31.1L384.7,31.6L383.9,32.2L383.2,32.8M347.7,81.1L349.0,81.9L350.4,82.7M339.0,75.3L337.9,76.3L336.9,77.4M387.2,60.8L386.6,59.3L386.0,57.9L384.7,57.6L383.4,57.3L382.2,57.0M380.3,60.2L379.3,59.5L378.3,58.8L377.2,58.1L376.2,57.3L375.0,57.2L373.8,57.0L372.6,56.8M410.7,57.9L411.6,58.9L412.6,59.8L413.6,60.8L414.6,61.7L415.6,62.7L416.6,63.6M405.5,61.7L406.7,62.7L407.9,63.6L409.1,64.6L410.5,65.6L411.8,66.5M431.6,57.9L430.3,57.0L429.0,56.0L427.7,55.1L426.6,55.3L425.6,55.5M539.6,95.9L541.0,95.9L542.4,95.8L543.7,95.7L544.9,95.3L546.2,94.8L547.4,94.4L548.5,93.0M539.4,109.8L540.0,108.8L540.6,107.8L541.2,106.8L541.3,104.5L540.5,102.3M546.1,109.2L545.6,107.5L545.2,105.8L545.6,104.6L546.1,103.5L546.0,102.7M534.7,107.8L535.7,106.8L536.7,105.8L537.6,104.5L538.6,103.1M531.8,107.8L531.9,106.5L531.9,105.2L532.0,103.9L531.6,101.5M523.3,95.9L524.0,97.9L524.8,99.9L525.9,101.6L527.0,103.3M525.6,98.9L526.6,100.3L527.4,101.7L528.3,103.1M532.6,84.1L533.0,85.7L533.4,87.4L533.8,89.0L532.7,90.0M523.1,91.0L524.6,91.4L526.1,91.8L527.6,92.2L529.2,92.2L530.9,92.2L532.9,91.8M535.0,84.1L536.3,83.9L537.5,83.7L538.8,83.5L539.9,83.3L541.0,83.1M538.9,74.3L540.1,74.5L541.3,74.7L542.5,74.9L543.7,75.1L545.0,75.3L546.3,76.2L547.6,77.2L547.3,78.5L547.0,79.8M540.5,61.7L541.3,63.3L542.1,64.9L542.8,66.5L544.1,68.5L545.3,70.4M555.0,77.6L554.3,78.4L553.5,79.2L552.7,79.8L551.9,80.5L551.1,81.1M550.2,105.8L551.6,107.8L553.6,108.8M546.7,111.8L546.2,113.8L545.2,115.1M543.9,110.8L543.4,112.8L543.7,114.3M533.7,115.7L535.9,115.1M473.6,82.1L474.5,81.6L475.5,81.1L476.4,80.6L477.3,80.2L478.2,79.7L479.1,79.2L480.3,79.1L481.6,79.0L482.8,78.9L484.1,78.9L485.3,78.8L486.6,79.1L488.0,79.5L489.3,79.8L490.7,80.2M513.1,84.1L512.8,82.1L512.3,80.2L512.1,78.7L511.8,77.2M464.8,92.0L466.2,92.3L467.7,92.6L469.1,93.0L470.3,93.2M478.1,95.9L477.0,96.6L476.0,97.3L474.9,97.9L473.8,98.6L472.6,99.2L471.5,99.9M509.2,111.8L507.9,111.6L506.6,111.4L505.1,112.8M512.0,108.8L512.3,110.3L512.4,111.8L512.6,113.3L512.7,114.7L514.3,117.1M516.2,120.7L516.7,122.3L517.2,124.0L517.7,125.6M527.4,130.6L528.8,130.4L530.2,130.3L531.7,130.2L533.4,130.0M531.3,134.5L532.2,135.9L533.1,137.3M520.3,122.7L521.1,124.3L521.9,126.0L522.7,127.6L523.9,129.2M524.2,122.7L524.2,124.3L524.1,126.0L524.0,127.6L523.9,129.2M537.6,136.9L537.1,138.2L536.6,139.5M530.1,119.7L531.4,120.4L532.6,121.1M434.0,95.9L433.1,97.1L432.2,98.3L431.8,100.1M420.4,78.2L421.8,78.5L423.2,78.9L424.6,79.2L425.8,79.8L427.0,80.5L428.2,81.1L430.4,82.5M411.4,82.1L410.1,82.4L408.8,82.8L407.5,83.1L406.2,82.1L404.9,81.1L405.8,80.2L406.7,79.2L407.6,78.2L408.3,77.8M401.0,82.1L399.9,80.2L399.9,79.0M409.3,84.1L408.9,85.6L408.5,87.1L408.2,87.8M463.9,82.1L462.7,82.0L461.4,81.9L460.2,81.8L459.0,81.7L457.6,81.7L456.3,81.6L454.9,81.5M471.6,76.2L470.1,75.6L468.6,74.9L467.0,74.3L465.7,73.8L464.3,73.3L463.0,72.8L461.6,72.3L460.3,71.8L459.0,71.4M480.2,73.7L479.0,73.7L477.7,73.7L476.4,73.7L475.2,73.7L473.9,73.7L472.6,72.9L471.4,72.0L470.1,71.2L468.8,70.4M463.2,92.0L462.5,93.0L461.9,94.0L461.3,95.0L460.6,95.9L460.0,96.9L459.4,97.9L458.2,98.4L457.1,98.9L455.9,99.4L454.7,99.9M464.2,36.8L462.9,36.2L461.6,35.6L460.3,35.0L459.1,34.4L457.8,33.9L456.6,33.3L455.1,32.4M456.1,36.8L454.9,35.6L453.8,34.4L452.6,33.3M466.4,40.4L465.5,40.5L464.5,40.6L463.6,40.7L462.6,40.8L461.6,40.9L460.7,41.0L459.7,41.1L458.7,41.3M479.7,45.8L478.6,45.8L477.5,45.8L476.5,45.8L475.4,45.8L474.4,45.8L473.3,45.8L472.2,45.8L471.2,45.8L469.9,45.6L468.6,45.4L467.3,45.2M482.6,50.4L481.3,49.9L480.1,49.5L478.8,49.0L477.6,48.6L476.3,48.1L475.1,47.6L474.1,47.6L473.1,47.6L472.0,47.5L471.0,47.5L470.0,47.4M481.4,56.0L480.2,54.8L479.0,53.7L477.8,52.5L476.6,51.3L475.1,50.4L473.6,49.5L472.1,48.6M439.8,42.1L440.9,42.0L441.9,41.9L443.0,41.8L444.0,41.7L445.1,41.6L446.3,41.3M527.5,52.2L526.2,50.9L524.8,49.5L523.5,48.1L522.2,46.7L520.9,45.2L519.6,43.6L518.3,42.1M516.4,54.1L516.2,53.0L516.0,51.9L515.7,50.8L515.4,49.7L515.1,48.6L513.7,47.4L512.2,46.3L510.8,45.1L509.4,43.9L507.5,42.5M536.3,52.2L537.5,53.7L538.8,55.1L540.1,56.5L541.4,57.9L542.6,59.5L543.9,61.1M548.8,57.0L549.0,58.1L549.2,59.2L549.3,60.4L549.5,61.5L549.5,62.7M561.2,73.3L560.5,71.7L559.7,70.1L558.8,68.5L558.2,66.7L557.7,65.0M582.4,53.2L582.5,52.2L582.4,51.3L582.4,50.4L583.5,50.3L584.5,50.1L585.6,50.0M500.5,63.6L501.6,63.5L502.6,63.4L503.6,63.2L504.6,63.1L505.6,62.9L506.6,62.8L507.7,62.7L508.3,61.9L508.9,61.1L509.5,60.4L510.1,59.6L510.6,58.9M517.4,66.5L518.5,66.5L519.6,66.5L520.7,66.5L521.8,66.5L522.9,66.5L524.0,66.5L525.1,66.5L526.0,66.1L526.8,65.8L527.7,65.4L528.5,65.0L529.4,64.6M479.3,52.2L479.8,51.5L480.3,50.9L480.8,50.2L481.3,49.5M223.2,82.7L224.5,82.4L225.8,82.1L226.2,83.5L226.9,85.1M238.9,71.4L237.8,72.8L236.7,74.3L236.0,75.8L235.2,77.2L235.3,78.6M231.4,77.2L230.4,79.8L229.7,81.5M220.7,85.5L222.3,85.8L223.8,86.1L224.9,86.6L226.0,87.1M216.1,90.0L216.5,91.5L216.9,93.0L218.0,93.8L219.0,94.6M214.0,91.4L214.6,92.7L215.2,94.0L215.5,95.4L215.8,96.9M212.2,92.0L211.3,93.3L210.5,94.6L209.6,95.9L209.2,97.7L208.8,99.5M208.4,94.0L207.3,95.2L206.1,96.3L205.1,97.4L204.0,98.5M212.9,87.1L211.5,87.6L210.1,88.1L208.6,88.6L207.8,87.7L206.9,86.9M210.3,78.2L208.8,78.9L207.4,79.6L206.0,81.3L204.8,83.1M211.1,70.4L210.3,71.8L209.6,73.3L208.2,74.3L206.7,75.3M201.6,74.3L201.6,75.5L201.6,76.8L201.6,78.0L202.3,78.8L203.1,79.6L203.8,80.4M189.1,83.1L190.3,83.1L191.5,83.1L192.7,83.1L193.9,83.1L195.2,83.0L196.6,83.0L197.9,82.9M177.8,71.4L179.1,70.8L180.5,70.3L181.8,69.8L183.3,69.4L184.9,68.9L186.4,68.5L188.0,67.5L189.5,66.5L191.1,65.6M179.9,90.0L181.3,89.9L182.6,89.8L184.0,89.7L185.4,89.5L186.7,89.4L187.9,89.7L189.0,89.9L190.1,90.2L191.3,90.4L192.8,90.2L194.4,90.0M182.7,94.0L183.8,94.4L184.8,94.8L185.9,95.2L186.9,95.5L187.9,95.9L188.4,97.3L188.8,98.6L189.3,99.9L189.8,101.5L190.3,103.1M182.6,96.9L183.7,97.7L184.7,98.4L185.7,99.2L186.8,99.9L187.6,100.9L188.5,101.9L189.4,102.9M177.9,91.0L177.9,92.6L177.9,94.3L178.0,95.9L178.5,96.9L179.0,97.9L179.5,98.9L180.1,99.9L180.4,101.5M155.0,79.2L154.1,81.1L153.5,83.1L153.2,85.1M155.6,87.4L154.8,86.9L154.0,86.3L153.2,85.1M176.1,76.2L175.8,77.7L175.5,79.2L174.6,80.5L173.8,81.9L173.0,83.3L172.2,84.7M171.6,95.0L170.4,95.0L169.1,95.0L167.9,95.0L166.7,95.0L165.4,95.1L164.2,95.2L163.0,95.3L161.7,95.4L160.5,95.5M200.5,69.4L201.2,67.5L201.8,65.6L202.8,63.6L203.8,61.7M186.5,76.2L187.8,76.2L189.0,76.1L190.3,76.0L191.6,75.9L192.9,75.8L194.2,75.7L195.5,75.7M169.8,103.9L168.2,104.5L166.6,105.2L165.1,105.8M171.0,105.8L172.1,104.8L173.2,103.9L174.2,102.9L175.3,101.9M201.8,133.5L203.1,132.8L204.4,132.1L205.7,131.3L206.9,130.6M195.1,131.0L196.7,130.1L198.3,129.2M222.7,77.2L224.2,76.2L225.7,75.3M218.2,70.4L218.3,71.8L218.6,73.3L218.6,75.3M241.7,61.7L241.9,63.1L242.1,64.6M218.7,180.0L218.6,178.6L218.5,177.1L218.5,175.6L218.4,174.1L218.5,172.1L218.6,170.1M215.5,162.2L216.9,162.9L218.4,163.5L219.9,164.2L221.1,165.1L222.2,165.9L223.4,166.8M244.4,153.3L244.1,155.0L243.8,156.6L243.4,158.3L243.0,160.2L242.6,162.2M251.3,158.3L251.7,159.7L252.2,161.0L252.6,162.4L253.1,163.8M256.6,157.3L257.2,158.5L257.8,159.8L258.5,161.0L259.2,162.2M255.1,177.1L255.6,175.7L256.1,174.3L256.6,172.9L257.0,171.5L257.5,170.1L258.6,169.0L259.6,167.8M254.7,187.0L254.2,185.6L253.7,184.3L253.2,183.0L252.7,181.7L252.2,180.4L251.7,179.0M244.9,183.0L244.4,181.5L243.9,180.0L243.4,178.6L242.9,177.1M234.0,188.9L234.4,187.5L234.7,186.0L235.0,184.5L235.4,183.0L236.2,182.0L237.0,181.0M281.2,174.1L282.0,172.9L282.9,171.6L283.7,170.4L284.6,169.2M269.2,196.9L267.9,197.5L266.7,198.1L265.4,198.8L264.2,199.4M275.6,202.8L274.3,202.3L272.9,201.8L271.6,201.3L270.3,200.8L269.0,200.3L267.6,199.8L266.2,199.8L264.8,199.8L263.3,199.8M271.6,206.7L270.5,206.0L269.3,205.3L268.2,204.5L267.1,203.8L266.0,203.1L264.9,202.5L263.7,201.9L262.6,201.2M269.1,207.3L267.8,206.7L266.4,206.2L265.1,205.6L263.8,205.0L262.1,204.9L260.3,204.8M266.8,210.7L265.4,210.9L264.0,211.1L262.7,211.3L261.2,211.2L259.8,211.0L258.4,210.9M260.9,217.6L262.1,218.3L263.3,219.0L264.5,219.6M277.0,198.8L278.3,198.9L279.6,198.9L280.9,199.0L282.2,199.0M223.4,152.3L224.8,151.6L226.1,150.9L227.4,150.1L228.8,149.4L230.1,148.9L231.5,148.4L232.8,148.0M223.4,155.3L224.8,155.1L226.2,154.9L227.6,154.7L229.0,154.5L230.4,154.3L231.5,153.3L232.7,152.3M241.8,150.4L241.8,148.8L241.7,147.2L241.7,145.6L241.7,144.0M248.7,156.3L248.7,154.8L248.7,153.3L248.8,151.8L248.8,150.4L248.9,148.6L248.9,146.8M217.3,155.3L217.7,153.7L218.2,152.0L218.6,150.4L219.0,148.9L219.4,147.4L219.8,145.9L220.2,144.4L221.2,142.4M217.4,149.4L217.2,147.7L217.0,146.1L216.8,144.4M240.7,204.8L241.9,205.8L243.0,206.7L244.2,207.7L245.4,208.7L246.6,209.6L248.0,210.5L249.3,211.5L250.6,212.4L251.9,213.3M240.9,213.7L242.0,214.9L243.0,216.1L244.0,217.4L245.0,218.6M238.1,244.3L239.5,244.7L240.8,245.2L242.1,245.7L243.5,246.2L244.6,246.1L245.8,246.0L246.9,245.9L248.1,245.8M241.7,258.8L242.8,258.8L243.8,258.9L244.9,258.9L246.0,259.0L247.1,259.0M237.2,225.5L238.1,226.7L239.0,227.9L239.9,229.1L240.9,230.3L241.8,231.5L243.0,232.2L244.2,233.0L245.4,233.7L246.6,234.4L247.6,235.6L248.6,236.7L249.6,237.8L250.6,239.0M241.5,184.0L243.0,184.7L244.5,185.3L246.0,186.0M229.4,185.0L228.3,185.6L227.2,186.3L226.1,187.0M263.9,180.0L264.6,181.7L265.2,183.3L265.9,185.0M597.3,227.5L596.1,227.2L594.9,226.9L593.6,226.5L592.0,227.1L590.4,227.6L588.8,228.1M606.8,214.7L605.3,215.0L603.8,215.3L602.3,215.7L600.7,216.6L599.1,217.6M636.1,236.8L635.9,235.5L635.7,234.2M615.6,249.1L615.2,250.4L614.7,251.7" fill="none" stroke="#d3ebf3" stroke-width="1.5" stroke-linecap="round" stroke-linejoin="round"/>
<path d="M177.2,69.6L178.3,68.1L179.3,66.5L180.4,66.5L181.5,66.4L182.6,66.4L183.7,66.3L185.5,65.9L187.2,65.6L188.5,65.6L189.8,65.6L191.1,65.6L192.3,65.9L193.5,66.2L194.7,66.5L194.8,67.9L194.3,69.4L193.7,71.0L193.2,72.5L193.8,73.3L194.4,74.1L194.9,74.9L195.5,75.7L196.6,76.0L197.8,76.2L197.5,78.6L197.6,80.0L197.7,81.5L197.9,82.9L199.1,83.2L200.2,83.6L201.4,83.9L203.1,83.7L204.8,83.5M179.0,83.1L180.1,83.8L181.1,84.5L182.3,84.7L183.5,84.8L184.6,85.0L185.8,85.1L187.0,85.3L188.2,85.5L189.6,85.5L191.1,85.6L192.5,85.7L193.0,87.2L193.5,88.8L194.6,89.5L195.6,90.2L196.6,90.7L197.6,91.1L198.6,91.6L199.5,92.5L200.3,93.4M177.0,85.5L176.4,87.2L175.8,89.0L175.2,90.8L174.5,92.5L173.8,94.2L173.1,95.9L173.4,97.3L173.8,98.4L174.3,99.5L174.8,100.6L175.4,101.7L176.5,102.3L177.6,102.9L179.4,102.4L181.2,101.9L181.7,103.2L182.3,104.5L182.8,105.8L183.8,107.2L184.7,108.6L186.0,108.9M179.3,59.8L180.6,59.3L181.9,58.9L183.3,58.4L184.6,57.9L185.9,57.4L187.2,57.0L188.4,56.8L189.5,56.6L190.7,56.4L191.9,56.2L193.0,56.0L194.5,55.7L195.9,55.4L197.3,55.1L198.5,54.9L199.7,54.8L200.9,54.6L202.1,54.5L203.2,54.7L204.3,54.9L205.4,55.1M271.9,199.8L272.3,198.3L272.6,196.9L272.9,195.4L273.3,193.9L273.6,192.4L274.0,190.9L274.3,189.4L274.7,188.0L275.1,186.5L275.4,185.0L275.8,183.5L276.2,182.0L277.3,180.9L278.4,179.8L279.5,178.7L281.0,178.8L282.4,178.9L283.9,179.0L285.1,179.7L286.2,180.4L287.4,181.0M398.7,50.8L397.9,51.4L397.1,52.0L396.2,52.6L396.2,54.3L396.1,56.0L396.4,57.4L396.6,58.9L397.0,60.9L398.4,62.0L399.7,63.1L401.0,63.6L402.4,64.1L403.7,64.6L404.9,65.9L403.8,66.8L402.7,67.7L401.3,68.5M483.2,65.9L481.9,65.6L480.6,65.3L479.3,64.9L478.0,64.6L477.1,63.1L476.2,61.7L474.9,61.4L473.5,61.2L472.2,60.9L470.9,60.2L469.6,59.5L468.3,58.8L467.0,58.1L465.7,57.3L464.4,56.5L463.1,55.6L461.8,54.8L460.5,53.9L459.3,53.1L458.0,52.2L457.2,50.5L456.4,48.7L455.2,48.3L454.0,47.9L452.8,47.5L451.6,47.1L450.4,46.7L449.0,46.5L447.7,46.3L447.3,45.1L447.0,43.8L446.7,42.5L446.3,41.3M500.8,46.7L500.0,45.3L499.2,43.9L498.3,42.6L497.4,41.3L496.0,40.4L494.6,39.5L493.2,38.6L491.8,37.7L490.4,36.8L489.1,35.9L488.0,35.9L487.0,35.8L485.9,35.7L484.8,35.7L483.8,35.6L482.7,35.5L481.7,35.5L480.6,35.4L479.4,35.1L478.1,34.7L476.9,34.4L475.7,34.1L474.4,33.7L473.2,33.4L471.9,33.1L470.7,32.8L469.6,32.8L468.6,32.8L467.5,32.8L466.5,32.8M496.4,35.0L497.6,35.3L498.8,35.5L499.9,35.7L501.1,35.9L502.3,36.1L503.5,36.4L504.7,36.6L506.0,36.8L507.0,36.8L508.0,36.8L509.0,36.8L510.0,36.8L511.0,36.8L512.0,36.8L513.0,36.8L514.0,36.8L514.9,36.7L515.7,36.6L516.6,36.4L517.4,36.3L518.3,36.2L519.1,36.0L519.9,35.9L520.9,35.9L521.9,35.9M506.1,97.9L507.3,98.8L508.5,99.7L509.6,100.6L510.8,101.5L511.9,102.4L513.0,103.3L514.1,104.2L515.3,105.0L516.4,105.9L517.5,106.8L518.1,108.3L518.6,109.8L519.1,111.3L519.6,112.8L519.5,114.3L519.4,115.9L519.3,117.5L519.2,119.1L519.1,120.7L519.2,122.1L519.2,123.4L519.3,124.8L519.3,126.2L519.4,127.6" fill="none" stroke="#d3ebf3" stroke-width="1.9" stroke-linecap="round" stroke-linejoin="round"/>
<path d="M509.1,91.0L510.2,90.7L511.4,90.5L512.5,90.3L513.7,90.0L514.9,89.7L516.2,89.4L517.4,89.0L518.6,89.0L519.9,88.9L521.1,88.8L521.7,87.9L522.2,87.0L522.8,86.1L522.8,84.8L522.8,83.4L522.8,82.1L523.1,80.8L523.3,79.6L524.7,79.6L526.0,79.7L527.4,79.8L529.2,80.2L530.0,81.8L530.7,83.4L531.3,85.1L531.8,86.7L532.2,88.4L532.6,90.0L532.9,91.8L534.3,91.7L535.6,91.6L536.8,91.4L538.0,91.2L539.5,90.8L541.0,90.4L541.6,89.0L542.2,87.6L543.0,86.7L543.8,85.7" fill="none" stroke="#d3ebf3" stroke-width="2.2" stroke-linecap="round" stroke-linejoin="round"/>
<path d="M237.4,154.3L235.9,153.7L234.5,153.0L233.0,152.3L233.0,150.4L233.0,148.4L234.0,147.3L234.9,146.3L235.9,145.2L237.4,144.9L238.8,144.6L240.3,144.2L241.6,143.8L242.9,143.4L245.0,143.2M392.6,183.0L391.9,184.7L391.1,186.3L390.4,188.0L390.8,189.6L391.1,191.2L391.5,192.9L392.6,193.8L393.7,194.6L394.8,195.5L396.0,194.9L397.2,194.4L398.3,193.9L399.5,193.0L400.7,192.2L401.9,191.3L403.6,191.2L405.4,191.1L406.5,191.7L407.6,192.3L408.7,192.9L410.2,193.9L411.7,194.9L412.9,196.9L413.3,197.6M364.0,65.6L365.1,65.2L366.2,64.8L367.3,64.4L368.3,64.0L369.4,63.6L371.4,64.4L372.6,64.6L373.7,64.8L374.9,65.0L376.1,65.2L377.2,65.4L378.6,65.7L380.0,65.9L380.2,66.5L380.3,68.0L380.3,69.4L381.7,70.6L383.0,71.7L384.6,71.9L386.2,72.1L387.2,73.7L388.5,73.8L389.8,74.0L391.2,74.1L392.7,73.7L394.2,73.3L394.8,71.4L396.2,70.8L397.4,71.0M501.4,93.0L502.8,93.4L504.3,93.8L505.7,94.2L507.1,94.6L508.6,95.0L510.0,95.7L511.4,96.5L512.8,97.3L514.2,98.1L515.6,98.9L516.5,100.4L517.2,101.9L518.0,103.4L518.8,104.8L520.5,107.2L522.8,107.8L523.7,106.8L524.6,105.8L525.5,104.8L527.0,103.3L528.4,102.5L529.8,101.7L530.7,100.9L531.6,100.1L532.4,99.3L534.0,99.1L535.6,98.9L537.2,99.5L539.7,100.9L541.0,100.3L542.3,99.7L544.0,100.5L545.7,101.3L546.9,99.9L547.5,98.9L548.2,97.9L548.8,96.9L550.7,96.5L552.5,97.3L554.2,98.1" fill="none" stroke="#d3ebf3" stroke-width="2.3" stroke-linecap="round" stroke-linejoin="round"/>
<path d="M333.5,142.0L334.7,140.9L335.8,139.7L337.0,138.5L337.7,137.3L338.5,136.1L339.2,134.9L340.0,133.7L341.0,133.0L342.1,132.3L343.1,131.6L344.0,130.2L344.9,128.8L345.7,127.4L347.0,127.6L348.3,127.7L349.5,127.8L350.8,128.0L351.7,129.2L352.6,130.4L353.5,131.6L354.5,133.5L355.4,134.7L356.2,135.8L357.0,136.9L357.9,138.5L358.7,140.1L360.0,141.2L361.3,142.2L362.0,143.5L362.6,144.8L362.4,146.6L362.2,148.4L362.0,149.9L361.7,151.3M398.1,48.0L399.2,48.2L400.3,48.4L401.4,48.6L402.6,48.7L403.9,48.2L405.2,47.6L406.5,47.5L407.8,47.4L408.8,47.6L409.9,47.7L410.9,47.8L412.1,48.5L413.2,49.2L414.4,49.8L415.5,49.9L416.6,50.0L417.7,50.1L418.8,50.2L419.9,50.4L421.0,50.6L422.1,50.8L422.1,52.1L422.1,53.6L423.6,54.6L425.1,55.6L424.3,56.7L423.6,57.8L422.9,58.9L421.5,59.3L420.2,59.8L419.8,61.3L419.4,62.7L419.0,64.2L420.4,65.4L421.8,66.5L423.0,67.3L424.1,68.1L425.3,68.8L426.5,69.8M530.6,55.5L531.7,55.3L532.9,55.2L534.0,55.1L535.7,55.7L537.4,56.3L539.2,57.0L540.7,58.4L542.3,59.7L543.9,61.1L545.4,62.0L546.9,62.9L548.4,63.8L549.9,64.7L551.4,65.6L553.1,65.8L554.8,65.9L555.8,65.5L556.7,65.0L557.7,64.6L557.8,63.6L557.9,62.7L558.0,61.7L557.2,60.3L556.4,58.9L556.8,58.2L557.3,57.6L557.8,57.0L558.9,56.6L560.1,56.2" fill="none" stroke="#d3ebf3" stroke-width="2.4" stroke-linecap="round" stroke-linejoin="round"/>
<path d="M203.8,67.1L204.1,68.2L204.3,69.2L204.5,70.3L204.7,71.4L205.4,72.3L206.1,73.3L206.8,74.3L206.5,76.2L206.2,78.2L204.9,79.7L203.7,81.1L204.2,82.5L204.7,83.9L205.0,85.5L205.2,87.1L204.0,88.9L202.7,90.8L201.3,92.4L200.0,94.0L199.5,96.3L197.9,98.9L198.1,100.1L199.7,101.0L200.7,102.5M270.1,198.8L268.9,199.1L267.6,199.3L266.3,199.6L265.1,199.8L264.3,200.8L263.5,201.8L262.7,202.8L262.0,204.0L261.2,205.3L260.5,206.5L259.7,207.7L259.0,209.2L258.3,210.7L257.6,211.9L256.9,213.1L256.2,214.3L254.9,214.4L253.5,214.5L252.1,214.7L251.4,216.1L250.8,217.6L250.6,219.0L250.3,220.3L250.2,221.6L250.0,223.0L250.1,225.3L251.3,226.2L252.4,227.1L254.2,227.9M512.8,97.9L513.9,99.3L514.9,100.7L515.9,102.1L516.9,103.5L517.9,104.8L518.6,106.5L519.2,108.1L519.9,109.8L520.5,111.2L521.1,112.6L521.7,113.9L522.2,115.3L522.8,116.7L523.5,118.4L524.2,120.1L525.1,121.2L525.9,122.4L526.8,123.5L527.6,124.7L528.8,125.3L530.0,126.0L531.2,126.6L532.1,127.9L533.0,129.1L533.9,130.4L534.3,132.0L534.6,133.5L534.7,135.4L534.8,137.3L535.5,138.9L536.2,140.5L536.6,141.1" fill="none" stroke="#d3ebf3" stroke-width="2.5" stroke-linecap="round" stroke-linejoin="round"/>
<path d="M477.4,57.0L476.1,56.2L474.8,55.5L473.4,53.8L471.9,52.2L472.0,51.0L472.0,49.8L472.1,48.6L470.6,47.6L469.2,46.7L467.8,45.8L466.4,44.9L465.2,44.3L463.9,43.8L462.7,43.2L461.4,42.7L460.2,42.1L458.9,41.6L457.8,41.4L456.6,41.3L455.7,41.3L454.7,41.3L453.7,41.3L452.8,41.3L451.8,41.3L450.7,41.3L449.6,41.3L448.5,41.3L447.4,41.3L446.3,41.3L445.1,40.6L443.9,39.9L442.7,39.3L441.5,38.6L440.2,36.8L439.0,35.0L438.4,33.3M491.7,58.5L490.0,57.3L488.4,56.2L486.8,55.1L485.8,54.7L485.7,53.2L485.5,51.8L485.3,50.4L484.2,48.6L483.1,46.7L481.9,46.0L480.5,45.2L479.2,44.5L477.9,43.8L476.5,43.0L475.2,42.1L473.9,41.3L472.6,40.4L471.3,39.5L470.1,38.1L468.9,36.8L467.6,35.5L466.4,34.1L464.8,32.4M506.8,54.1L506.6,52.7L506.4,51.3L506.0,50.1L505.5,48.9L505.1,47.6L505.3,46.7L505.6,45.8L505.8,44.9L506.3,44.3L506.7,43.7L507.1,43.1L507.5,42.5L508.4,42.4L509.3,42.4L510.2,42.3L511.1,42.2L512.0,42.1L513.1,42.1L514.3,42.1L515.4,42.1L516.5,42.1L517.6,42.1L518.4,41.8L519.1,41.4L519.9,41.1L520.7,40.7L521.5,40.4L522.3,40.3L523.2,40.1L524.1,40.0L524.9,39.9L525.8,39.8L526.7,39.7L527.6,39.6L528.4,39.5L526.5,37.7L524.6,35.9L523.1,35.0L521.5,34.1L519.9,33.3L518.4,32.4M488.2,99.9L489.5,100.4L490.8,100.8L492.1,101.3L493.4,101.8L494.6,102.3L495.8,102.3L497.0,102.3L498.2,102.3L499.3,102.3L500.5,102.3L502.2,102.3L503.9,102.3L505.0,102.2L506.2,102.1L507.4,102.0L508.5,102.0L509.7,101.9L510.8,103.4L512.0,104.8L511.0,105.8L509.9,106.8L508.7,107.4L507.5,107.9L506.4,108.4L504.8,108.8L503.3,109.2L503.6,111.0L503.7,112.8L505.2,113.8L505.9,115.7" fill="none" stroke="#d3ebf3" stroke-width="2.6" stroke-linecap="round" stroke-linejoin="round"/>
<path d="M408.6,159.5L408.3,158.1L408.0,156.7L407.7,155.3L407.0,154.1L406.3,152.9L406.2,151.5L406.1,150.2L406.1,148.8L406.0,147.4L406.0,145.9L405.9,144.4L405.9,142.9L405.9,141.5L406.1,139.8L406.3,138.2L406.5,136.5L406.6,135.1L406.7,133.7L406.8,132.2L407.0,130.8L407.1,129.4L407.8,128.0L408.6,126.6L409.3,125.2L408.5,123.9L407.6,122.7L406.4,123.1L405.1,123.6L404.2,122.7L403.3,121.7L403.7,120.1L404.1,118.6L404.5,117.1L405.1,116.0L405.7,114.8L406.3,113.7L406.9,112.6L406.7,111.0L406.4,109.4L405.5,108.4L404.6,107.4L403.6,106.4L402.8,104.3L403.0,102.6L403.3,100.9L403.2,98.5M397.1,177.1L396.9,175.7L396.7,174.3L396.6,172.9L396.4,171.5L396.3,170.1L395.9,168.7L395.6,167.2L395.3,165.7L394.9,164.2L394.9,162.6L394.9,160.9L394.9,159.3L393.5,158.5L392.0,157.7L390.5,157.2L389.0,156.8L387.6,156.3L385.8,156.5L384.1,156.7L383.2,158.0L382.4,159.3L381.8,160.6L381.2,161.9L380.6,163.2L379.7,164.7L378.8,166.2L378.2,167.5L377.6,168.8L376.6,169.5L375.5,170.3L374.5,171.1L372.4,172.1M480.1,94.0L478.7,93.0L477.2,92.0L475.9,91.3L474.7,90.7L473.4,90.0L472.6,91.0L471.7,92.0L470.8,93.0L470.2,94.0L469.6,95.0L469.6,96.9L469.6,98.9L469.6,100.9L469.5,102.9L468.8,103.9L468.2,104.8L467.5,105.8L467.3,107.2L467.1,108.6L466.9,110.0L466.4,111.4L465.9,112.8" fill="none" stroke="#d3ebf3" stroke-width="2.7" stroke-linecap="round" stroke-linejoin="round"/>
<path d="M222.6,169.2L223.9,168.8L225.2,168.5L226.5,168.1L227.8,167.8L229.3,167.4L230.7,167.1L232.2,166.8L233.5,166.9L234.8,167.0L236.1,167.1L237.4,167.2L238.7,167.2L240.0,167.2L241.3,167.2L242.6,167.2L244.4,166.8L246.1,166.4L247.6,166.1L249.0,165.7L250.5,165.4L251.9,165.2L253.4,165.0L254.8,164.8L256.1,164.4L257.4,164.0L258.7,163.6L260.0,163.2L261.3,162.2L262.6,161.2L264.4,160.2" fill="none" stroke="#d3ebf3" stroke-width="3.0" stroke-linecap="round" stroke-linejoin="round"/>
<path d="M482.1,100.9L482.6,102.4L483.2,103.9L484.4,105.2L485.7,106.5L486.9,107.8L488.5,108.9L490.0,110.0L491.9,110.2L493.1,110.0L494.2,109.8L495.4,109.6L497.1,109.9L498.7,110.2L500.7,111.8L502.6,113.2L504.5,114.1L505.5,115.1" fill="none" stroke="#d3ebf3" stroke-width="3.4" stroke-linecap="round" stroke-linejoin="round"/>
<path d="M199.7,101.0L200.7,102.5M525.9,122.4L526.8,123.5M534.7,135.4L534.8,137.3" fill="none" stroke="#f6f2c2" stroke-width="2.6" stroke-linecap="round"/>
<path d="M220.0,82.3L218.8,83.3M194.2,95.1L194.9,95.9M211.8,90.0L210.3,91.0M159.4,70.2L158.8,69.6M206.8,94.0L205.9,95.4M208.8,99.2L208.3,100.9M220.9,144.4L221.2,142.4M414.0,137.9L412.2,138.5M390.6,151.3L389.3,151.3M389.3,151.3L387.8,151.4M387.1,172.6L386.7,171.1M383.4,168.9L382.3,168.2M379.6,139.5L378.7,138.5M405.0,154.8L405.9,153.3M370.2,59.0L368.8,58.1M365.7,55.1L363.9,54.3M376.5,59.6L375.3,58.8M372.4,56.6L372.0,55.1M383.3,60.4L382.8,59.0M382.2,57.5L381.2,57.0M352.0,66.7L350.1,66.7M358.4,71.6L358.5,73.3M344.6,75.3L345.9,75.8M344.5,81.3L343.1,81.5M416.2,63.5L417.6,64.4M407.7,51.0L409.0,51.3M523.3,99.4L524.6,100.9M539.0,84.1L540.2,83.7M537.2,114.4L538.5,113.8M421.5,88.4L422.7,91.0M419.0,91.8L420.3,92.2M420.3,92.2L421.7,93.6M458.4,86.1L457.2,85.3M432.0,96.4L431.8,97.9M434.7,90.0L435.9,92.0M411.4,94.0L411.2,92.5M553.0,78.2L553.9,77.7M553.9,77.7L554.8,77.2M342.2,133.2L343.1,131.6M349.2,136.5L349.2,138.5M344.0,143.9L344.3,145.4M340.1,148.4L340.4,150.4M366.4,148.9L365.4,150.4M398.1,157.3L396.3,157.5M403.3,153.3L401.9,153.2M396.3,152.7L395.1,152.6M388.0,169.6L386.7,169.2M390.0,162.4L388.8,161.8M387.6,161.2L386.1,160.9M411.9,143.8L410.1,143.6M386.5,65.4L385.2,65.2M382.3,69.0L382.7,71.0M391.6,67.0L392.2,68.2M389.3,65.2L390.6,65.6M393.7,65.9L394.8,66.5M390.2,58.2L391.2,57.9M405.4,53.4L405.6,52.2M406.8,52.2L408.1,52.2M408.1,52.2L409.3,52.2M348.1,58.5L349.4,58.7M347.6,57.5L346.9,58.7M539.4,109.8L540.0,108.8M532.6,84.1L533.0,85.7M524.6,91.4L526.1,91.8M537.5,83.7L538.8,83.5M542.1,64.9L542.8,66.5M507.9,111.6L506.6,111.4M238.9,71.4L237.8,72.8M223.8,86.1L224.9,86.6M208.6,88.6L207.8,87.7M188.4,97.3L188.8,98.6M189.8,101.5L190.3,103.1M164.2,95.2L163.0,95.3M218.6,73.3L218.6,75.3M278.3,198.9L279.6,198.9" fill="none" stroke="#f6f2c2" stroke-width="1.6" stroke-linecap="round"/>
<path d="M271.9,199.8L272.3,198.3M285.1,179.7L286.2,180.4M402.4,64.1L403.7,64.6M519.2,123.4L519.3,124.8" fill="none" stroke="#f6f2c2" stroke-width="2.0" stroke-linecap="round"/>
<path d="M405.7,114.8L406.3,113.7M397.1,177.1L396.9,175.7M396.3,170.1L395.9,168.7M389.0,156.8L387.6,156.3" fill="none" stroke="#f6f2c2" stroke-width="2.8000000000000003" stroke-linecap="round"/>
<path d="M337.0,138.5L337.7,137.3M338.5,136.1L339.2,134.9M341.0,133.0L342.1,132.3M343.1,131.6L344.0,130.2M344.0,130.2L344.9,128.8M403.9,48.2L405.2,47.6M421.0,50.6L422.1,50.8M419.4,62.7L419.0,64.2" fill="none" stroke="#f6f2c2" stroke-width="2.5" stroke-linecap="round"/>
<path d="M412.9,196.9L413.3,197.6M364.0,65.6L365.1,65.2M380.3,69.4L381.7,70.6M392.7,73.7L394.2,73.3" fill="none" stroke="#f6f2c2" stroke-width="2.4" stroke-linecap="round"/>
<path d="M531.3,85.1L531.8,86.7M532.2,88.4L532.6,90.0" fill="none" stroke="#f6f2c2" stroke-width="2.3000000000000003" stroke-linecap="round"/>
<path d="M495.8,102.3L497.0,102.3" fill="none" stroke="#f6f2c2" stroke-width="2.7" stroke-linecap="round"/>
<path d="M221.1,81.3L220.0,82.3M216.9,84.3L215.5,83.6M158.8,69.6L158.1,69.0M209.4,97.6L208.8,99.2M226.3,83.1L226.8,84.1M176.5,119.8L175.1,119.9M179.6,124.1L177.8,124.6M254.5,222.2L254.4,223.9M218.6,154.6L219.0,153.0M409.9,135.6L409.0,134.4M368.3,142.9L366.6,143.4M366.6,143.4L365.2,143.9M349.5,140.1L349.7,141.8M393.2,151.3L391.9,151.3M388.3,176.7L387.9,175.4M384.5,169.6L383.4,168.9M381.0,167.5L379.7,166.8M380.5,140.5L379.6,139.5M378.7,138.5L377.8,137.3M420.0,145.4L421.1,146.4M422.2,147.4L423.3,148.4M409.9,184.0L410.3,185.6M411.0,188.9L411.4,190.9M405.0,167.2L405.9,168.2M365.5,66.5L364.1,66.4M363.7,63.6L363.5,61.7M355.5,67.5L354.8,66.5M342.8,83.3L341.2,83.7M341.2,83.7L339.5,84.1M412.8,50.7L413.7,50.0M546.2,69.9L547.7,70.4M529.1,95.2L530.6,95.3M524.6,100.9L525.8,102.1M540.9,108.8L540.8,106.8M546.0,105.8L546.0,104.4M539.0,111.8L540.2,113.6M514.4,120.7L514.3,122.7M514.3,122.7L514.8,124.6M523.2,124.7L523.4,126.2M529.8,116.7L531.0,117.7M478.9,121.2L480.2,121.7M480.4,127.6L481.8,127.8M415.0,84.1L416.3,84.8M462.5,91.7L464.0,92.0M560.6,127.6L560.5,129.1M341.4,134.9L342.2,133.2M345.7,140.5L346.1,141.9M349.2,138.5L349.2,140.5M343.1,139.5L343.4,141.0M344.6,148.3L344.8,149.8M364.8,139.5L363.9,140.5M375.3,148.4L374.2,149.1M373.2,149.9L372.1,150.6M393.5,161.4L393.3,160.1M381.4,175.3L381.4,173.7M391.4,171.7L390.3,170.9M390.3,170.9L389.3,170.1M421.4,140.5L422.4,139.0M405.9,156.3L406.1,154.6M359.3,66.7L358.5,67.9M358.5,67.9L358.4,70.0M387.2,69.1L385.9,69.4M390.6,69.4L390.0,70.9M392.9,69.4L394.6,70.6M390.6,65.6L392.0,66.1M393.8,67.8L394.4,69.1M392.7,62.3L394.1,63.1M405.6,52.2L406.8,52.2M350.8,58.9L351.9,58.9M375.0,57.2L373.8,57.0M540.0,108.8L540.6,107.8M545.6,104.6L546.1,103.5M531.9,106.5L531.9,105.2M525.6,98.9L526.6,100.3M533.8,89.0L532.7,90.0M538.8,83.5L539.9,83.3M531.4,120.4L532.6,121.1M408.9,85.6L408.5,87.1M224.5,82.4L225.8,82.1M212.9,87.1L211.5,87.6M187.9,95.9L188.4,97.3M188.5,101.9L189.4,102.9M154.1,81.1L153.5,83.1M166.7,95.0L165.4,95.1M224.2,76.2L225.7,75.3M272.9,201.8L271.6,201.3M267.6,199.8L266.2,199.8M223.4,155.3L224.8,155.1" fill="none" stroke="#fde292" stroke-width="1.6" stroke-linecap="round"/>
<path d="M272.3,198.3L272.6,196.9M396.6,58.9L397.0,60.9" fill="none" stroke="#fde292" stroke-width="2.0" stroke-linecap="round"/>
<path d="M267.6,199.3L266.3,199.6" fill="none" stroke="#fde292" stroke-width="2.6" stroke-linecap="round"/>
<path d="M340.0,133.7L341.0,133.0M342.1,132.3L343.1,131.6M362.2,148.4L362.0,149.9M422.1,50.8L422.1,52.1M420.4,65.4L421.8,66.5" fill="none" stroke="#fde292" stroke-width="2.5" stroke-linecap="round"/>
<path d="M394.9,164.2L394.9,162.6M394.9,159.3L393.5,158.5M380.6,163.2L379.7,164.7" fill="none" stroke="#fde292" stroke-width="2.8000000000000003" stroke-linecap="round"/>
<path d="M368.3,64.0L369.4,63.6M372.6,64.6L373.7,64.8M376.1,65.2L377.2,65.4M524.6,105.8L525.5,104.8M548.2,97.9L548.8,96.9M548.8,96.9L550.7,96.5" fill="none" stroke="#fde292" stroke-width="2.4" stroke-linecap="round"/>
<path d="M518.6,89.0L519.9,88.9M536.8,91.4L538.0,91.2" fill="none" stroke="#fde292" stroke-width="2.3000000000000003" stroke-linecap="round"/>
<path d="M504.8,108.8L503.3,109.2" fill="none" stroke="#fde292" stroke-width="2.7" stroke-linecap="round"/>
<path d="M206.2,78.2L204.9,79.7M204.2,82.5L204.7,83.9M252.4,227.1L254.2,227.9M530.0,126.0L531.2,126.6M536.2,140.5L536.6,141.1" fill="none" stroke="#fbb86e" stroke-width="2.6" stroke-linecap="round"/>
<path d="M222.3,80.4L221.1,81.3M218.8,83.3L216.9,84.3M208.4,85.3L206.4,86.9M230.2,76.2L229.3,77.7M229.3,77.7L228.3,79.2M233.3,76.2L232.8,78.2M275.4,200.8L276.6,201.5M276.6,201.5L277.8,202.1M277.8,202.1L279.0,202.8M413.6,130.6L413.1,128.6M346.1,142.4L346.5,144.4M387.9,175.4L387.5,174.1M398.6,213.0L397.2,213.3M405.9,168.2L406.8,169.2M372.5,60.8L371.5,59.8M371.5,59.8L370.2,59.0M381.2,57.0L380.1,56.5M379.1,56.0L378.3,53.6M352.4,63.1L351.2,62.7M353.8,65.8L352.0,66.7M363.8,71.5L365.0,71.2M369.0,73.7L367.5,73.9M548.1,69.8L549.0,69.5M530.1,92.4L531.5,92.1M527.7,95.0L529.1,95.2M533.4,95.7L534.9,95.8M522.0,97.9L523.3,99.4M543.0,95.9L544.1,95.6M544.1,95.6L545.2,95.3M523.4,126.2L523.7,127.7M523.7,127.7L523.9,129.2M523.9,129.2L524.5,131.2M482.8,135.5L484.1,136.0M485.4,136.5L486.6,137.6M424.9,96.9L426.3,97.9M411.2,92.5L411.0,91.0M467.4,92.6L469.1,93.0M560.5,129.1L560.3,130.6M349.6,141.9L350.0,143.4M352.6,138.5L352.2,140.1M351.8,141.8L351.4,143.4M341.6,143.1L341.9,144.8M359.6,134.5L358.7,135.5M374.2,149.1L373.2,149.9M393.7,164.2L393.6,162.8M400.7,157.3L399.4,157.3M394.5,174.1L393.4,173.3M392.4,172.5L391.4,171.7M393.7,164.2L392.5,163.6M416.7,161.9L417.9,162.6M415.6,144.7L415.0,145.9M364.8,61.9L363.5,61.7M358.2,62.3L359.4,60.6M359.4,60.6L359.6,58.9M355.9,61.1L356.5,59.8M360.1,65.6L359.3,66.7M368.0,68.5L368.1,70.6M368.4,66.6L369.4,65.9M370.4,65.2L371.4,64.4M370.3,68.1L371.4,68.2M389.7,68.5L388.4,68.8M390.0,70.9L389.4,72.3M543.7,95.7L544.9,95.3M545.2,105.8L545.6,104.6M535.7,106.8L536.7,105.8M525.9,101.6L527.0,103.3M523.1,91.0L524.6,91.4M517.2,124.0L517.7,125.6M530.2,130.3L531.7,130.2M524.2,124.3L524.1,126.0M524.1,126.0L524.0,127.6M463.2,92.0L462.5,93.0M231.4,77.2L230.4,79.8M195.1,131.0L196.7,130.1M275.6,202.8L274.3,202.3M274.3,202.3L272.9,201.8M270.3,200.8L269.0,200.3M271.6,206.7L270.5,206.0M268.2,204.5L267.1,203.8M267.8,206.7L266.4,206.2M277.0,198.8L278.3,198.9M218.2,152.0L218.6,150.4M218.6,150.4L219.0,148.9" fill="none" stroke="#fbb86e" stroke-width="1.6" stroke-linecap="round"/>
<path d="M408.0,156.7L407.7,155.3M406.8,132.2L407.0,130.8M406.3,113.7L406.9,112.6M406.4,109.4L405.5,108.4M396.9,175.7L396.7,174.3M395.6,167.2L395.3,165.7M394.9,162.6L394.9,160.9M376.6,169.5L375.5,170.3M470.8,93.0L470.2,94.0" fill="none" stroke="#fbb86e" stroke-width="2.8000000000000003" stroke-linecap="round"/>
<path d="M337.7,137.3L338.5,136.1M355.4,134.7L356.2,135.8M423.6,54.6L425.1,55.6M423.6,57.8L422.9,58.9" fill="none" stroke="#fbb86e" stroke-width="2.5" stroke-linecap="round"/>
<path d="M410.2,193.9L411.7,194.9M365.1,65.2L366.2,64.8M367.3,64.4L368.3,64.0M525.5,104.8L527.0,103.3M527.0,103.3L528.4,102.5" fill="none" stroke="#fbb86e" stroke-width="2.4" stroke-linecap="round"/>
<path d="M519.9,88.9L521.1,88.8M522.2,87.0L522.8,86.1M531.8,86.7L532.2,88.4" fill="none" stroke="#fbb86e" stroke-width="2.3000000000000003" stroke-linecap="round"/>
<path d="M489.5,100.4L490.8,100.8M492.1,101.3L493.4,101.8M493.4,101.8L494.6,102.3" fill="none" stroke="#fbb86e" stroke-width="2.7" stroke-linecap="round"/>
<path d="M198.1,100.1L199.7,101.0M251.3,226.2L252.4,227.1" fill="none" stroke="#f58a52" stroke-width="2.6" stroke-linecap="round"/>
<path d="M211.4,92.0L210.7,94.0M212.7,80.2L211.2,81.1M180.9,120.7L179.4,119.7M177.8,124.6L176.4,124.6M220.3,148.0L220.7,146.4M349.7,141.8L350.0,143.4M350.0,143.4L350.6,145.1M382.3,168.2L381.0,167.5M404.2,156.3L405.0,154.8M362.8,64.6L363.7,63.6M361.0,59.0L360.0,58.1M359.5,69.8L358.4,70.0M385.0,68.5L383.9,68.7M542.9,68.5L544.7,69.4M538.9,94.0L540.3,94.6M541.6,95.3L543.0,95.9M539.8,113.8L541.1,113.8M541.1,113.8L542.6,114.1M502.0,115.7L501.7,117.3M481.9,105.0L482.8,106.4M477.7,97.9L476.6,98.6M476.6,98.6L475.5,99.3M475.5,99.3L474.6,100.2M474.6,95.0L473.5,95.9M491.4,125.6L492.8,127.4M481.8,127.8L483.3,128.0M483.3,128.0L484.8,128.2M488.7,115.1L487.2,114.9M483.3,115.4L482.1,115.8M484.1,136.0L485.4,136.5M487.7,138.7L489.6,138.5M422.7,91.0L423.6,92.7M427.1,95.9L428.2,97.2M413.1,85.6L413.8,87.1M423.1,95.0L424.9,96.9M426.3,97.9L427.8,98.9M429.5,99.1L431.3,100.1M431.3,100.1L432.3,100.9M340.2,135.8L341.4,134.9M346.1,141.9L346.5,143.4M347.9,143.9L349.2,144.4M352.2,140.1L351.8,141.8M367.5,147.4L366.4,148.9M393.3,160.1L393.2,158.7M402.4,172.1L400.6,171.6M400.6,171.6L398.9,171.1M392.5,163.6L391.3,163.0M419.0,163.2L420.0,164.2M416.2,143.4L415.6,144.7M417.1,146.4L416.8,144.8M416.8,144.8L416.5,143.1M416.2,141.5L416.6,140.0M409.0,164.2L408.6,162.2M401.6,163.2L402.0,161.7M364.7,65.0L365.1,63.6M365.1,63.6L363.8,62.7M360.4,63.2L361.1,62.1M366.4,67.9L367.4,67.2M367.4,67.2L368.4,66.6M369.4,65.9L370.4,65.2M415.6,62.7L416.6,63.6M542.4,95.8L543.7,95.7M541.2,106.8L541.3,104.5M536.7,105.8L537.6,104.5M537.6,104.5L538.6,103.1M526.6,100.3L527.4,101.7M546.7,111.8L546.2,113.8M546.2,113.8L545.2,115.1M543.4,112.8L543.7,114.3M476.0,97.3L474.9,97.9M516.7,122.3L517.2,124.0M532.2,135.9L533.1,137.3M226.2,83.5L226.9,85.1M211.3,93.3L210.5,94.6M196.7,130.1L198.3,129.2M271.6,201.3L270.3,200.8M223.4,152.3L224.8,151.6M217.4,149.4L217.2,147.7" fill="none" stroke="#f58a52" stroke-width="1.6" stroke-linecap="round"/>
<path d="M406.6,135.1L406.7,133.7M405.5,108.4L404.6,107.4M395.3,165.7L394.9,164.2M471.7,92.0L470.8,93.0M468.8,103.9L468.2,104.8M468.2,104.8L467.5,105.8M466.9,110.0L466.4,111.4" fill="none" stroke="#f58a52" stroke-width="2.8000000000000003" stroke-linecap="round"/>
<path d="M357.9,138.5L358.7,140.1M361.3,142.2L362.0,143.5M362.6,144.8L362.4,146.6M405.2,47.6L406.5,47.5M422.1,53.6L423.6,54.6" fill="none" stroke="#f58a52" stroke-width="2.5" stroke-linecap="round"/>
<path d="M521.1,88.8L521.7,87.9M534.3,91.7L535.6,91.6M543.0,86.7L543.8,85.7" fill="none" stroke="#f58a52" stroke-width="2.3000000000000003" stroke-linecap="round"/>
<path d="M530.7,100.9L531.6,100.1M534.0,99.1L535.6,98.9M537.2,99.5L539.7,100.9" fill="none" stroke="#f58a52" stroke-width="2.4" stroke-linecap="round"/>
<path d="M482.1,100.9L482.6,102.4" fill="none" stroke="#f58a52" stroke-width="3.5" stroke-linecap="round"/>
<path d="M179.4,119.7L177.9,119.8M181.4,123.6L179.6,124.1M408.1,133.1L407.6,131.3M407.6,131.3L407.1,129.4M370.1,142.4L368.3,142.9M365.2,143.9L363.9,144.4M418.8,144.4L420.0,145.4M362.6,66.3L362.8,64.6M363.5,61.7L362.4,60.9M361.4,60.0L361.0,59.0M358.8,58.1L357.6,58.1M354.8,66.5L353.8,65.8M361.0,68.6L359.5,69.8M365.0,71.2L366.2,71.3M525.8,102.1L527.0,103.3M540.7,104.8L540.5,102.3M540.3,94.6L541.6,95.3M546.6,94.9L547.9,94.4M471.3,98.9L471.0,100.6M486.8,123.3L488.6,123.6M484.8,128.2L486.0,128.1M480.8,116.1L479.2,116.5M491.3,117.7L493.1,118.2M428.2,97.2L429.4,98.5M413.1,88.0L414.9,89.2M421.7,93.6L423.1,95.0M344.3,145.4L344.4,146.9M355.2,140.5L355.2,142.1M363.9,140.5L363.1,141.5M362.2,142.4L361.3,142.8M403.3,157.3L402.0,157.3M417.9,142.4L419.1,141.8M419.1,141.8L420.2,141.1M356.5,59.8L357.4,59.2M388.4,68.8L387.2,69.1M380.3,60.2L379.3,59.5M539.6,95.9L541.0,95.9M541.0,95.9L542.4,95.8M544.9,95.3L546.2,94.8M546.2,94.8L547.4,94.4M541.3,104.5L540.5,102.3M546.1,103.5L546.0,102.7M543.9,110.8L543.4,112.8M473.8,98.6L472.6,99.2M472.6,99.2L471.5,99.9M524.0,127.6L523.9,129.2M530.1,119.7L531.4,120.4M236.7,74.3L236.0,75.8M217.7,153.7L218.2,152.0" fill="none" stroke="#e35a42" stroke-width="1.6" stroke-linecap="round"/>
<path d="M407.0,130.8L407.1,129.4M404.6,107.4L403.6,106.4M378.8,166.2L378.2,167.5M467.5,105.8L467.3,107.2M466.4,111.4L465.9,112.8" fill="none" stroke="#e35a42" stroke-width="2.8000000000000003" stroke-linecap="round"/>
<path d="M356.2,135.8L357.0,136.9M362.0,143.5L362.6,144.8M362.0,149.9L361.7,151.3" fill="none" stroke="#e35a42" stroke-width="2.5" stroke-linecap="round"/>
<path d="M366.2,64.8L367.3,64.4M528.4,102.5L529.8,101.7M541.0,100.3L542.3,99.7M546.9,99.9L547.5,98.9M550.7,96.5L552.5,97.3" fill="none" stroke="#e35a42" stroke-width="2.4" stroke-linecap="round"/>
<path d="M538.0,91.2L539.5,90.8M541.0,90.4L541.6,89.0" fill="none" stroke="#e35a42" stroke-width="2.3000000000000003" stroke-linecap="round"/>
<path d="M488.2,99.9L489.5,100.4M506.4,108.4L504.8,108.8" fill="none" stroke="#e35a42" stroke-width="2.7" stroke-linecap="round"/>
<path d="M482.6,102.4L483.2,103.9M485.7,106.5L486.9,107.8M502.6,113.2L504.5,114.1" fill="none" stroke="#e35a42" stroke-width="3.5" stroke-linecap="round"/>
<path d="M212.9,83.7L211.6,84.5M219.4,151.3L219.8,149.7M363.9,144.4L362.6,144.8M356.3,64.6L354.4,63.8M354.4,63.8L352.4,63.1M368.8,71.5L370.3,71.5M531.5,92.1L532.9,91.8M546.2,109.8L546.1,107.8M545.2,95.3L546.6,94.9M538.0,84.6L539.0,84.1M501.2,112.8L501.6,114.2M481.4,101.8L481.1,103.7M481.1,103.7L481.9,105.0M474.6,100.2L473.7,101.0M471.9,97.9L471.3,98.9M480.2,121.7L481.5,122.3M488.6,123.6L490.0,124.6M490.0,127.6L490.9,129.0M485.8,114.7L484.5,115.1M482.1,115.8L480.8,116.1M486.6,137.6L487.7,138.7M423.6,92.7L424.5,94.4M425.8,95.2L427.1,95.9M337.9,137.5L339.0,136.6M358.7,135.5L357.8,136.5M363.1,141.5L362.2,142.4M416.6,140.0L416.9,138.5M360.9,65.6L360.4,63.2M359.3,64.6L358.2,62.3M359.6,58.9L357.6,58.3M531.9,105.2L532.0,103.9M527.4,101.7L528.3,103.1M506.6,111.4L505.1,112.8M230.4,79.8L229.7,81.5M219.8,145.9L220.2,144.4" fill="none" stroke="#cc3039" stroke-width="1.6" stroke-linecap="round"/>
<path d="M403.6,106.4L402.8,104.3M469.6,96.9L469.6,98.9M469.5,102.9L468.8,103.9" fill="none" stroke="#cc3039" stroke-width="2.8000000000000003" stroke-linecap="round"/>
<path d="M521.7,87.9L522.2,87.0" fill="none" stroke="#cc3039" stroke-width="2.3000000000000003" stroke-linecap="round"/>
<path d="M539.7,100.9L541.0,100.3M542.3,99.7L544.0,100.5" fill="none" stroke="#cc3039" stroke-width="2.4" stroke-linecap="round"/>
<path d="M534.8,137.3L535.5,138.9" fill="none" stroke="#cc3039" stroke-width="2.6" stroke-linecap="round"/>
<path d="M490.8,100.8L492.1,101.3M508.7,107.4L507.5,107.9M503.3,109.2L503.6,111.0M503.6,111.0L503.7,112.8M505.2,113.8L505.9,115.7" fill="none" stroke="#cc3039" stroke-width="2.7" stroke-linecap="round"/>
<path d="M483.2,103.9L484.4,105.2M490.0,110.0L491.9,110.2M494.2,109.8L495.4,109.6M497.1,109.9L498.7,110.2M500.7,111.8L502.6,113.2M504.5,114.1L505.5,115.1" fill="none" stroke="#cc3039" stroke-width="3.5" stroke-linecap="round"/>
<path d="M227.3,80.7L227.9,82.1M219.8,149.7L220.3,148.0M409.0,134.4L408.1,133.1M403.3,164.2L402.9,166.2M402.9,166.2L402.4,168.2M402.5,159.3L403.3,157.8M362.4,60.9L361.4,60.0M367.3,71.4L368.8,71.5M536.3,95.9L537.6,97.4M537.6,97.4L539.0,98.9M539.0,98.9L540.6,99.3M540.6,99.3L542.3,99.7M528.1,98.9L529.0,100.3M529.0,100.3L529.8,101.7M546.0,104.4L546.1,102.9M542.6,114.1L544.1,114.5M531.0,117.7L532.2,118.7M532.2,118.7L533.7,120.3M481.5,99.9L481.4,101.8M484.2,107.2L485.6,108.0M485.6,108.0L487.1,108.7M487.1,108.7L488.6,109.3M488.6,109.3L490.0,110.0M473.7,101.0L472.7,101.9M472.7,101.9L471.5,102.4M471.5,102.4L470.4,102.9M472.5,96.9L471.9,97.9M471.0,100.6L470.6,102.3M481.5,122.3L483.3,122.7M483.3,122.7L485.1,123.1M485.1,123.1L486.8,123.3M490.0,124.6L491.4,125.6M486.0,128.1L487.3,128.0M487.3,128.0L488.7,127.8M490.1,115.3L488.7,115.1M484.5,115.1L483.3,115.4M424.5,94.4L425.8,95.2M404.2,165.2L405.2,163.7M405.2,163.7L406.3,162.2M416.5,143.1L416.2,141.5M402.0,161.7L402.5,160.2M361.1,62.1L362.4,60.9M368.1,70.6L370.2,71.2M477.0,96.6L476.0,97.3M474.9,97.9L473.8,98.6M537.1,138.2L536.6,139.5M236.0,75.8L235.2,77.2M235.2,77.2L235.3,78.6M270.5,206.0L269.3,205.3M219.0,148.9L219.4,147.4" fill="none" stroke="#b3142e" stroke-width="1.6" stroke-linecap="round"/>
<path d="M406.9,112.6L406.7,111.0M406.7,111.0L406.4,109.4M402.8,104.3L403.0,102.6M403.0,102.6L403.3,100.9M403.3,100.9L403.2,98.5M469.6,95.0L469.6,96.9M469.6,98.9L469.6,100.9M469.6,100.9L469.5,102.9M467.3,107.2L467.1,108.6M467.1,108.6L466.9,110.0" fill="none" stroke="#b3142e" stroke-width="2.8000000000000003" stroke-linecap="round"/>
<path d="M407.6,192.3L408.7,192.9M529.8,101.7L530.7,100.9M535.6,98.9L537.2,99.5M544.0,100.5L545.7,101.3" fill="none" stroke="#b3142e" stroke-width="2.4" stroke-linecap="round"/>
<path d="M539.5,90.8L541.0,90.4M541.6,89.0L542.2,87.6M542.2,87.6L543.0,86.7" fill="none" stroke="#b3142e" stroke-width="2.3000000000000003" stroke-linecap="round"/>
<path d="M528.8,125.3L530.0,126.0M535.5,138.9L536.2,140.5" fill="none" stroke="#b3142e" stroke-width="2.6" stroke-linecap="round"/>
<path d="M507.5,107.9L506.4,108.4M503.7,112.8L505.2,113.8" fill="none" stroke="#b3142e" stroke-width="2.7" stroke-linecap="round"/>
<path d="M484.4,105.2L485.7,106.5M486.9,107.8L488.5,108.9M488.5,108.9L490.0,110.0M491.9,110.2L493.1,110.0M493.1,110.0L494.2,109.8M495.4,109.6L497.1,109.9M498.7,110.2L500.7,111.8" fill="none" stroke="#b3142e" stroke-width="3.5" stroke-linecap="round"/>
</g>
<path d="M99.6,277.5L93.9,272.9L88.2,268.3L83.0,263.5L77.8,258.8L73.4,254.0L68.9,249.1L64.9,244.3L60.9,239.4L57.6,234.4L54.3,229.5L51.6,224.6L48.9,219.6L46.8,214.7L44.8,209.7L43.3,204.8L41.9,199.8L40.7,194.9L39.4,189.9L38.6,185.0L37.7,180.0L37.2,175.1L36.7,170.1L36.5,165.2L36.3,160.2L36.5,155.3L36.7,150.4L37.2,145.4L37.7,140.5L38.6,135.5L39.4,130.6L40.7,125.6L41.9,120.7L43.3,115.7L44.8,110.8L46.8,105.8L48.9,100.9L51.6,95.9L54.3,91.0L57.6,86.1L60.9,81.1L64.9,76.2L68.9,71.4L73.4,66.5L77.8,61.7L83.0,57.0L88.2,52.2L93.9,47.6L99.6,43.0L105.8,38.6L111.9,34.1L118.3,29.9L124.8,25.7L132.0,21.7L139.1,17.7L147.3,14.0L155.4,10.3L163.2,7.4L170.9,4.5L177.2,2.6L183.5,0.7L183.5,0.7L188.1,0.7L192.8,0.7L197.4,0.7L202.1,0.7L206.7,0.7L211.4,0.7L216.0,0.7L220.7,0.7L225.3,0.7L230.0,0.7L234.6,0.7L239.3,0.7L243.9,0.7L248.6,0.7L253.2,0.7L257.9,0.7L262.5,0.7L267.2,0.7L271.8,0.7L276.5,0.7L281.1,0.7L285.8,0.7L290.4,0.7L295.1,0.7L299.7,0.7L304.4,0.7L309.0,0.7L313.7,0.7L318.3,0.7L323.0,0.7L327.6,0.7L332.3,0.7L336.9,0.7L341.6,0.7L346.2,0.7L350.9,0.7L355.6,0.7L360.2,0.7L364.9,0.7L369.5,0.7L374.2,0.7L378.8,0.7L383.5,0.7L388.1,0.7L392.8,0.7L397.4,0.7L402.1,0.7L406.7,0.7L411.4,0.7L416.0,0.7L420.7,0.7L425.3,0.7L430.0,0.7L434.6,0.7L439.3,0.7L443.9,0.7L448.6,0.7L453.2,0.7L457.9,0.7L462.5,0.7L467.2,0.7L471.8,0.7L476.5,0.7L481.1,0.7L485.8,0.7L490.4,0.7L495.1,0.7L499.7,0.7L504.4,0.7L509.0,0.7L513.7,0.7L518.3,0.7L518.3,0.7L524.6,2.6L530.9,4.5L538.6,7.4L546.4,10.3L554.5,14.0L562.7,17.7L569.8,21.7L577.0,25.7L583.5,29.9L589.9,34.1L596.0,38.6L602.2,43.0L607.9,47.6L613.6,52.2L618.8,57.0L624.0,61.7L628.4,66.5L632.9,71.4L636.9,76.2L640.9,81.1L644.2,86.1L647.5,91.0L650.2,95.9L652.9,100.9L655.0,105.8L657.0,110.8L658.5,115.7L659.9,120.7L661.1,125.6L662.4,130.6L663.2,135.5L664.1,140.5L664.6,145.4L665.1,150.4L665.3,155.3L665.5,160.2L665.3,165.2L665.1,170.1L664.6,175.1L664.1,180.0L663.2,185.0L662.4,189.9L661.1,194.9L659.9,199.8L658.5,204.8L657.0,209.7L655.0,214.7L652.9,219.6L650.2,224.6L647.5,229.5L644.2,234.4L640.9,239.4L636.9,244.3L632.9,249.1L628.4,254.0L624.0,258.8L618.8,263.5L613.6,268.3L607.9,272.9L602.2,277.5L602.2,277.5L595.2,277.5L588.2,277.5L581.2,277.5L574.2,277.5L567.3,277.5L560.3,277.5L553.3,277.5L546.3,277.5L539.3,277.5L532.4,277.5L525.4,277.5L518.4,277.5L511.4,277.5L504.4,277.5L497.5,277.5L490.5,277.5L483.5,277.5L476.5,277.5L469.5,277.5L462.6,277.5L455.6,277.5L448.6,277.5L441.6,277.5L434.7,277.5L427.7,277.5L420.7,277.5L413.7,277.5L406.7,277.5L399.8,277.5L392.8,277.5L385.8,277.5L378.8,277.5L371.8,277.5L364.9,277.5L357.9,277.5L350.9,277.5L343.9,277.5L336.9,277.5L330.0,277.5L323.0,277.5L316.0,277.5L309.0,277.5L302.0,277.5L295.1,277.5L288.1,277.5L281.1,277.5L274.1,277.5L267.1,277.5L260.2,277.5L253.2,277.5L246.2,277.5L239.2,277.5L232.3,277.5L225.3,277.5L218.3,277.5L211.3,277.5L204.3,277.5L197.4,277.5L190.4,277.5L183.4,277.5L176.4,277.5L169.4,277.5L162.5,277.5L155.5,277.5L148.5,277.5L141.5,277.5L134.5,277.5L127.6,277.5L120.6,277.5L113.6,277.5L106.6,277.5L99.6,277.5Z" fill="none" stroke="#d6d6d6" stroke-width="0.8"/>
<text x="94.6" y="46.2" text-anchor="end" font-size="9" fill="#4a4a4a">60°N</text>
<text x="607.2" y="46.2" font-size="9" fill="#4a4a4a">60°N</text>
<text x="43.9" y="104.1" text-anchor="end" font-size="9" fill="#4a4a4a">30°N</text>
<text x="657.9" y="104.1" font-size="9" fill="#4a4a4a">30°N</text>
<text x="31.3" y="163.4" text-anchor="end" font-size="9" fill="#4a4a4a">0°</text>
<text x="670.5" y="163.4" font-size="9" fill="#4a4a4a">0°</text>
<text x="43.9" y="222.8" text-anchor="end" font-size="9" fill="#4a4a4a">30°S</text>
<text x="657.9" y="222.8" font-size="9" fill="#4a4a4a">30°S</text>
<text x="99.6" y="289.3" text-anchor="middle" font-size="9.1" fill="#4a4a4a">180°</text>
<text x="183.4" y="289.3" text-anchor="middle" font-size="9.1" fill="#4a4a4a">120°W</text>
<text x="267.1" y="289.3" text-anchor="middle" font-size="9.1" fill="#4a4a4a">60°W</text>
<text x="350.9" y="289.3" text-anchor="middle" font-size="9.1" fill="#4a4a4a">0°</text>
<text x="434.7" y="289.3" text-anchor="middle" font-size="9.1" fill="#4a4a4a">60°E</text>
<text x="518.4" y="289.3" text-anchor="middle" font-size="9.1" fill="#4a4a4a">120°E</text>
<text x="602.2" y="289.3" text-anchor="middle" font-size="9.1" fill="#4a4a4a">180°</text>
<rect x="162.50" y="298.0" width="40.20" height="9.6" fill="#e5f2f7"/>
<rect x="202.40" y="298.0" width="40.20" height="9.6" fill="#f2f6d8"/>
<rect x="242.30" y="298.0" width="40.20" height="9.6" fill="#fdf4c3"/>
<rect x="282.20" y="298.0" width="40.20" height="9.6" fill="#fde3a4"/>
<rect x="322.10" y="298.0" width="40.20" height="9.6" fill="#fcc98c"/>
<rect x="362.00" y="298.0" width="40.20" height="9.6" fill="#f8ab79"/>
<rect x="401.90" y="298.0" width="40.20" height="9.6" fill="#ef8b6b"/>
<rect x="441.80" y="298.0" width="40.20" height="9.6" fill="#df6b63"/>
<rect x="481.70" y="298.0" width="40.20" height="9.6" fill="#cb4b58"/>
<path d="M521.60,298.0L539.90,302.80L521.60,307.6Z" fill="#b73353"/>
<text x="162.50" y="319.20" text-anchor="middle" font-size="11.4">0</text>
<text x="202.40" y="319.20" text-anchor="middle" font-size="11.4">50</text>
<text x="242.30" y="319.20" text-anchor="middle" font-size="11.4">100</text>
<text x="282.20" y="319.20" text-anchor="middle" font-size="11.4">150</text>
<text x="322.10" y="319.20" text-anchor="middle" font-size="11.4">200</text>
<text x="362.00" y="319.20" text-anchor="middle" font-size="11.4">250</text>
<text x="401.90" y="319.20" text-anchor="middle" font-size="11.4">300</text>
<text x="441.80" y="319.20" text-anchor="middle" font-size="11.4">350</text>
<text x="481.70" y="319.20" text-anchor="middle" font-size="11.4">400</text>
<text x="521.60" y="319.20" text-anchor="middle" font-size="11.4">450</text>
<text x="342.35" y="335" text-anchor="middle" font-size="14.1">thousand person-weeks</text>
<text x="17.2" y="14.8" font-size="26.4">a</text>
<text x="1.9" y="366.0" font-size="26.4">b</text>
<path d="M81.3,477.8L111.1,467.0L140.8,452.2L170.5,439.0L200.3,429.0L230.0,426.6L259.7,426.6L289.5,430.5L319.2,436.7L319.2,460.8L289.5,457.7L259.7,455.3L230.0,456.1L200.3,456.1L170.5,458.4L140.8,461.5L111.1,469.3L81.3,477.8Z" fill="#c6d6ea" fill-opacity="0.12"/>
<path d="M81.3,477.8L111.1,464.6L140.8,448.4L170.5,432.1L200.3,415.8L230.0,404.1L259.7,399.5L289.5,397.1L319.2,397.9L319.2,426.6L289.5,426.6L259.7,427.4L230.0,431.3L200.3,438.3L170.5,447.6L140.8,458.4L111.1,468.5L81.3,477.8Z" fill="#fbe0c4" fill-opacity="0.15"/>
<path d="M81.3,477.8L111.1,466.2L140.8,453.8L170.5,439.0L200.3,421.2L230.0,405.7L259.7,390.2L289.5,381.6L319.2,377.7L319.2,413.4L289.5,418.1L259.7,427.4L230.0,438.3L200.3,446.8L170.5,456.1L140.8,463.9L111.1,470.9L81.3,477.8Z" fill="#f6c8c8" fill-opacity="0.12"/>
<path d="M81.3,477.8L111.1,460.0L140.8,441.4L170.5,417.3L200.3,390.9L230.0,374.6L259.7,364.9L289.5,359.9L319.2,359.1L319.2,402.6L289.5,404.1L259.7,408.0L230.0,415.0L200.3,425.8L170.5,439.8L140.8,455.3L111.1,467.0L81.3,477.8Z" fill="#f3cccc" fill-opacity="0.11"/>
<path d="M81.3,477.8L111.1,467.0L140.8,454.2L170.5,446.4L200.3,440.6L230.0,441.8L259.7,441.8L289.5,444.9L319.2,449.1" fill="none" stroke="#3f7cc4" stroke-width="1.5" stroke-linejoin="round"/>
<path d="M81.3,477.8L111.1,466.2L140.8,452.2L170.5,439.8L200.3,425.1L230.0,412.7L259.7,407.2L289.5,403.7L319.2,406.1" fill="none" stroke="#f28a25" stroke-width="1.5" stroke-linejoin="round"/>
<path d="M81.3,477.8L111.1,468.5L140.8,458.4L170.5,446.8L200.3,432.8L230.0,422.7L259.7,407.6L289.5,399.5L319.2,395.6" fill="none" stroke="#e2323f" stroke-width="1.5" stroke-linejoin="round"/>
<path d="M81.3,477.8L111.1,463.9L140.8,448.4L170.5,428.2L200.3,409.2L230.0,394.4L259.7,383.2L289.5,377.0L319.2,374.6" fill="none" stroke="#9a2b2e" stroke-width="1.5" stroke-linejoin="round"/>
<path d="M51.6,492.6L81.3,477.8" stroke="#111" stroke-width="1.6"/>
<rect x="38.6" y="351.8" width="293.4" height="153.2" fill="none" stroke="#333" stroke-width="1"/>
<path d="M35.1,505.00H38.6" stroke="#333" stroke-width="0.9"/>
<text x="33.1" y="508.90" text-anchor="end" font-size="10.9">0</text>
<path d="M35.1,489.48H38.6" stroke="#333" stroke-width="0.9"/>
<text x="33.1" y="493.38" text-anchor="end" font-size="10.9">2</text>
<path d="M35.1,473.96H38.6" stroke="#333" stroke-width="0.9"/>
<text x="33.1" y="477.86" text-anchor="end" font-size="10.9">4</text>
<path d="M35.1,458.44H38.6" stroke="#333" stroke-width="0.9"/>
<text x="33.1" y="462.34" text-anchor="end" font-size="10.9">6</text>
<path d="M35.1,442.92H38.6" stroke="#333" stroke-width="0.9"/>
<text x="33.1" y="446.82" text-anchor="end" font-size="10.9">8</text>
<path d="M35.1,427.40H38.6" stroke="#333" stroke-width="0.9"/>
<text x="33.1" y="431.30" text-anchor="end" font-size="10.9">10</text>
<path d="M35.1,411.88H38.6" stroke="#333" stroke-width="0.9"/>
<text x="33.1" y="415.78" text-anchor="end" font-size="10.9">12</text>
<path d="M35.1,396.36H38.6" stroke="#333" stroke-width="0.9"/>
<text x="33.1" y="400.26" text-anchor="end" font-size="10.9">14</text>
<path d="M35.1,380.84H38.6" stroke="#333" stroke-width="0.9"/>
<text x="33.1" y="384.74" text-anchor="end" font-size="10.9">16</text>
<path d="M35.1,365.32H38.6" stroke="#333" stroke-width="0.9"/>
<text x="33.1" y="369.22" text-anchor="end" font-size="10.9">18</text>
<path d="M51.60,505.0V508.5" stroke="#333" stroke-width="0.9"/>
<text x="51.60" y="518.8" text-anchor="middle" font-size="10.9">2000</text>
<path d="M81.33,505.0V508.5" stroke="#333" stroke-width="0.9"/>
<text x="81.33" y="518.8" text-anchor="middle" font-size="10.9">2010</text>
<path d="M111.07,505.0V508.5" stroke="#333" stroke-width="0.9"/>
<text x="111.07" y="518.8" text-anchor="middle" font-size="10.9">2020</text>
<path d="M140.80,505.0V508.5" stroke="#333" stroke-width="0.9"/>
<text x="140.80" y="518.8" text-anchor="middle" font-size="10.9">2030</text>
<path d="M170.53,505.0V508.5" stroke="#333" stroke-width="0.9"/>
<text x="170.53" y="518.8" text-anchor="middle" font-size="10.9">2040</text>
<path d="M200.26,505.0V508.5" stroke="#333" stroke-width="0.9"/>
<text x="200.26" y="518.8" text-anchor="middle" font-size="10.9">2050</text>
<path d="M230.00,505.0V508.5" stroke="#333" stroke-width="0.9"/>
<text x="230.00" y="518.8" text-anchor="middle" font-size="10.9">2060</text>
<path d="M259.73,505.0V508.5" stroke="#333" stroke-width="0.9"/>
<text x="259.73" y="518.8" text-anchor="middle" font-size="10.9">2070</text>
<path d="M289.46,505.0V508.5" stroke="#333" stroke-width="0.9"/>
<text x="289.46" y="518.8" text-anchor="middle" font-size="10.9">2080</text>
<path d="M319.20,505.0V508.5" stroke="#333" stroke-width="0.9"/>
<text x="319.20" y="518.8" text-anchor="middle" font-size="10.9">2090</text>
<text x="185.3" y="531.5" text-anchor="middle" font-size="10.9">Year</text>
<text transform="translate(15.2,428.2) rotate(-90)" text-anchor="middle" font-size="11">billion person-weeks</text>
<path d="M46.6,364.00H67" stroke="#111" stroke-width="1.5"/>
<text x="73.7" y="367.40" font-size="9.5">Historical</text>
<path d="M46.6,377.35H67" stroke="#3f7cc4" stroke-width="1.5"/>
<text x="73.7" y="380.75" font-size="9.5">SSP1-RCP2.6</text>
<path d="M46.6,390.70H67" stroke="#f28a25" stroke-width="1.5"/>
<text x="73.7" y="394.10" font-size="9.5">SSP2-RCP4.5</text>
<path d="M46.6,404.05H67" stroke="#e2323f" stroke-width="1.5"/>
<text x="73.7" y="407.45" font-size="9.5">SSP4-RCP6.0</text>
<path d="M46.6,417.40H67" stroke="#9a2b2e" stroke-width="1.5"/>
<text x="73.7" y="420.80" font-size="9.5">SSP5-RCP8.5</text>
<text x="346.3" y="365.8" font-size="26.4">c</text>
<rect x="435.6" y="358.20" width="220.61" height="11.6" fill="#bcd5e8" stroke="#6fa2cf" stroke-width="1"/>
<rect x="435.6" y="372.70" width="183.40" height="11.6" fill="#bcd5e8" stroke="#6fa2cf" stroke-width="1"/>
<rect x="435.6" y="387.20" width="111.64" height="11.6" fill="#bcd5e8" stroke="#6fa2cf" stroke-width="1"/>
<rect x="435.6" y="401.70" width="107.65" height="11.6" fill="#bcd5e8" stroke="#6fa2cf" stroke-width="1"/>
<rect x="435.6" y="416.20" width="83.73" height="11.6" fill="#bcd5e8" stroke="#6fa2cf" stroke-width="1"/>
<rect x="435.6" y="430.70" width="55.82" height="11.6" fill="#bcd5e8" stroke="#6fa2cf" stroke-width="1"/>
<rect x="435.6" y="445.20" width="49.17" height="11.6" fill="#bcd5e8" stroke="#6fa2cf" stroke-width="1"/>
<rect x="435.6" y="459.70" width="47.84" height="11.6" fill="#bcd5e8" stroke="#6fa2cf" stroke-width="1"/>
<rect x="435.6" y="474.20" width="47.84" height="11.6" fill="#bcd5e8" stroke="#6fa2cf" stroke-width="1"/>
<rect x="435.6" y="488.70" width="25.25" height="11.6" fill="#bcd5e8" stroke="#6fa2cf" stroke-width="1"/>
<text x="438.8" y="368.00" font-size="11">1.66</text>
<path d="M641.60,364.00H670.83M641.60,361.50V366.50M670.83,361.50V366.50" stroke="#1a1a1a" stroke-width="1.3"/>
<path d="M432.1,364.00H435.6" stroke="#333" stroke-width="0.9"/>
<text x="430.1" y="368.00" text-anchor="end" font-size="11">Ganges</text>
<text x="438.8" y="382.50" font-size="11">1.38</text>
<path d="M608.37,378.50H629.63M608.37,376.00V381.00M629.63,376.00V381.00" stroke="#1a1a1a" stroke-width="1.3"/>
<path d="M432.1,378.50H435.6" stroke="#333" stroke-width="0.9"/>
<text x="430.1" y="382.50" text-anchor="end" font-size="11">Nile</text>
<text x="438.8" y="397.00" font-size="11">0.84</text>
<path d="M533.55,393.00H561.72M533.55,390.50V395.50M561.72,390.50V395.50" stroke="#1a1a1a" stroke-width="1.3"/>
<path d="M432.1,393.00H435.6" stroke="#333" stroke-width="0.9"/>
<text x="430.1" y="397.00" text-anchor="end" font-size="11">Yangtze</text>
<text x="438.8" y="411.50" font-size="11">0.81</text>
<path d="M519.46,407.50H566.24M519.46,405.00V410.00M566.24,405.00V410.00" stroke="#1a1a1a" stroke-width="1.3"/>
<path d="M432.1,407.50H435.6" stroke="#333" stroke-width="0.9"/>
<text x="430.1" y="411.50" text-anchor="end" font-size="11">Mississippi</text>
<text x="438.8" y="426.00" font-size="11">0.63</text>
<path d="M516.93,422.00H522.12M516.93,419.50V424.50M522.12,419.50V424.50" stroke="#1a1a1a" stroke-width="1.3"/>
<path d="M432.1,422.00H435.6" stroke="#333" stroke-width="0.9"/>
<text x="430.1" y="426.00" text-anchor="end" font-size="11">Congo</text>
<text x="438.8" y="440.50" font-size="11">0.42</text>
<path d="M479.99,436.50H502.85M479.99,434.00V439.00M502.85,434.00V439.00" stroke="#1a1a1a" stroke-width="1.3"/>
<path d="M432.1,436.50H435.6" stroke="#333" stroke-width="0.9"/>
<text x="430.1" y="440.50" text-anchor="end" font-size="11">Yellow River</text>
<text x="438.8" y="455.00" font-size="11">0.37</text>
<path d="M481.72,451.00H488.23M481.72,448.50V453.50M488.23,448.50V453.50" stroke="#1a1a1a" stroke-width="1.3"/>
<path d="M432.1,451.00H435.6" stroke="#333" stroke-width="0.9"/>
<text x="430.1" y="455.00" text-anchor="end" font-size="11">Parana</text>
<text x="438.8" y="469.50" font-size="11">0.36</text>
<path d="M471.35,465.50H494.34M471.35,463.00V468.00M494.34,463.00V468.00" stroke="#1a1a1a" stroke-width="1.3"/>
<path d="M432.1,465.50H435.6" stroke="#333" stroke-width="0.9"/>
<text x="430.1" y="469.50" text-anchor="end" font-size="11">Rhine</text>
<text x="438.8" y="484.00" font-size="11">0.36</text>
<path d="M472.55,480.00H493.54M472.55,477.50V482.50M493.54,477.50V482.50" stroke="#1a1a1a" stroke-width="1.3"/>
<path d="M432.1,480.00H435.6" stroke="#333" stroke-width="0.9"/>
<text x="430.1" y="484.00" text-anchor="end" font-size="11">Danube</text>
<text x="438.8" y="498.50" font-size="11">0.19</text>
<path d="M458.46,494.50H464.57M458.46,492.00V497.00M464.57,492.00V497.00" stroke="#1a1a1a" stroke-width="1.3"/>
<path d="M432.1,494.50H435.6" stroke="#333" stroke-width="0.9"/>
<text x="430.1" y="498.50" text-anchor="end" font-size="11">Saint Lawrence</text>
<rect x="435.6" y="351.4" width="247.10000000000002" height="155.8" fill="none" stroke="#333" stroke-width="1"/>
<path d="M435.60,507.2V510.7" stroke="#333" stroke-width="0.9"/>
<text x="435.60" y="521.2" text-anchor="middle" font-size="11">0.0</text>
<path d="M502.05,507.2V510.7" stroke="#333" stroke-width="0.9"/>
<text x="502.05" y="521.2" text-anchor="middle" font-size="11">0.5</text>
<path d="M568.50,507.2V510.7" stroke="#333" stroke-width="0.9"/>
<text x="568.50" y="521.2" text-anchor="middle" font-size="11">1.0</text>
<path d="M634.95,507.2V510.7" stroke="#333" stroke-width="0.9"/>
<text x="634.95" y="521.2" text-anchor="middle" font-size="11">1.5</text>
<text x="559.2" y="534.3" text-anchor="middle" font-size="11.2">billion person-weeks</text>
<text x="-1.0" y="557.3" font-size="26.4">d</text>
<rect x="38.7" y="543.8" width="645.5999999999999" height="158.80000000000007" fill="none" stroke="#8a8a8a" stroke-width="1"/>
<circle cx="67.60" cy="694.53" r="2.7" fill="#3b73c0" fill-opacity="0.6" stroke="#fff" stroke-width="0.5" stroke-opacity="0.8"/>
<circle cx="87.87" cy="691.82" r="2.7" fill="#3b73c0" fill-opacity="0.6" stroke="#fff" stroke-width="0.5" stroke-opacity="0.8"/>
<circle cx="108.14" cy="692.98" r="2.7" fill="#3b73c0" fill-opacity="0.6" stroke="#fff" stroke-width="0.5" stroke-opacity="0.8"/>
<circle cx="128.41" cy="689.50" r="2.7" fill="#3b73c0" fill-opacity="0.6" stroke="#fff" stroke-width="0.5" stroke-opacity="0.8"/>
<circle cx="148.68" cy="693.75" r="2.7" fill="#3b73c0" fill-opacity="0.6" stroke="#fff" stroke-width="0.5" stroke-opacity="0.8"/>
<circle cx="168.95" cy="671.69" r="2.7" fill="#3b73c0" fill-opacity="0.6" stroke="#fff" stroke-width="0.5" stroke-opacity="0.8"/>
<circle cx="189.22" cy="695.69" r="2.7" fill="#3b73c0" fill-opacity="0.6" stroke="#fff" stroke-width="0.5" stroke-opacity="0.8"/>
<circle cx="209.49" cy="694.53" r="2.7" fill="#3b73c0" fill-opacity="0.6" stroke="#fff" stroke-width="0.5" stroke-opacity="0.8"/>
<circle cx="229.76" cy="678.66" r="2.7" fill="#3b73c0" fill-opacity="0.6" stroke="#fff" stroke-width="0.5" stroke-opacity="0.8"/>
<circle cx="250.03" cy="687.56" r="2.7" fill="#3b73c0" fill-opacity="0.6" stroke="#fff" stroke-width="0.5" stroke-opacity="0.8"/>
<circle cx="270.30" cy="653.12" r="2.7" fill="#3b73c0" fill-opacity="0.6" stroke="#fff" stroke-width="0.5" stroke-opacity="0.8"/>
<circle cx="290.57" cy="693.37" r="2.7" fill="#3b73c0" fill-opacity="0.6" stroke="#fff" stroke-width="0.5" stroke-opacity="0.8"/>
<circle cx="310.84" cy="694.14" r="2.7" fill="#3b73c0" fill-opacity="0.6" stroke="#fff" stroke-width="0.5" stroke-opacity="0.8"/>
<circle cx="331.11" cy="694.91" r="2.7" fill="#3b73c0" fill-opacity="0.6" stroke="#fff" stroke-width="0.5" stroke-opacity="0.8"/>
<circle cx="351.38" cy="686.01" r="2.7" fill="#3b73c0" fill-opacity="0.6" stroke="#fff" stroke-width="0.5" stroke-opacity="0.8"/>
<circle cx="371.65" cy="688.72" r="2.7" fill="#3b73c0" fill-opacity="0.6" stroke="#fff" stroke-width="0.5" stroke-opacity="0.8"/>
<circle cx="391.92" cy="684.46" r="2.7" fill="#3b73c0" fill-opacity="0.6" stroke="#fff" stroke-width="0.5" stroke-opacity="0.8"/>
<circle cx="412.19" cy="689.88" r="2.7" fill="#3b73c0" fill-opacity="0.6" stroke="#fff" stroke-width="0.5" stroke-opacity="0.8"/>
<circle cx="432.46" cy="693.37" r="2.7" fill="#3b73c0" fill-opacity="0.6" stroke="#fff" stroke-width="0.5" stroke-opacity="0.8"/>
<circle cx="452.73" cy="691.43" r="2.7" fill="#3b73c0" fill-opacity="0.6" stroke="#fff" stroke-width="0.5" stroke-opacity="0.8"/>
<circle cx="473.00" cy="694.14" r="2.7" fill="#3b73c0" fill-opacity="0.6" stroke="#fff" stroke-width="0.5" stroke-opacity="0.8"/>
<circle cx="493.27" cy="692.20" r="2.7" fill="#3b73c0" fill-opacity="0.6" stroke="#fff" stroke-width="0.5" stroke-opacity="0.8"/>
<circle cx="513.54" cy="649.25" r="2.7" fill="#3b73c0" fill-opacity="0.6" stroke="#fff" stroke-width="0.5" stroke-opacity="0.8"/>
<circle cx="533.81" cy="691.43" r="2.7" fill="#3b73c0" fill-opacity="0.6" stroke="#fff" stroke-width="0.5" stroke-opacity="0.8"/>
<circle cx="554.08" cy="670.92" r="2.7" fill="#3b73c0" fill-opacity="0.6" stroke="#fff" stroke-width="0.5" stroke-opacity="0.8"/>
<circle cx="574.35" cy="690.66" r="2.7" fill="#3b73c0" fill-opacity="0.6" stroke="#fff" stroke-width="0.5" stroke-opacity="0.8"/>
<circle cx="594.62" cy="687.95" r="2.7" fill="#3b73c0" fill-opacity="0.6" stroke="#fff" stroke-width="0.5" stroke-opacity="0.8"/>
<circle cx="614.89" cy="691.04" r="2.7" fill="#3b73c0" fill-opacity="0.6" stroke="#fff" stroke-width="0.5" stroke-opacity="0.8"/>
<circle cx="635.16" cy="687.17" r="2.7" fill="#3b73c0" fill-opacity="0.6" stroke="#fff" stroke-width="0.5" stroke-opacity="0.8"/>
<circle cx="655.43" cy="644.60" r="2.7" fill="#3b73c0" fill-opacity="0.6" stroke="#fff" stroke-width="0.5" stroke-opacity="0.8"/>
<circle cx="67.60" cy="694.53" r="4.1" fill="#f08020" fill-opacity="0.6" stroke="#fff" stroke-width="0.5" stroke-opacity="0.8"/>
<circle cx="87.87" cy="690.27" r="4.1" fill="#f08020" fill-opacity="0.6" stroke="#fff" stroke-width="0.5" stroke-opacity="0.8"/>
<circle cx="108.14" cy="692.59" r="4.1" fill="#f08020" fill-opacity="0.6" stroke="#fff" stroke-width="0.5" stroke-opacity="0.8"/>
<circle cx="128.41" cy="687.95" r="4.1" fill="#f08020" fill-opacity="0.6" stroke="#fff" stroke-width="0.5" stroke-opacity="0.8"/>
<circle cx="148.68" cy="693.37" r="4.1" fill="#f08020" fill-opacity="0.6" stroke="#fff" stroke-width="0.5" stroke-opacity="0.8"/>
<circle cx="168.95" cy="657.76" r="4.1" fill="#f08020" fill-opacity="0.6" stroke="#fff" stroke-width="0.5" stroke-opacity="0.8"/>
<circle cx="189.22" cy="695.69" r="4.1" fill="#f08020" fill-opacity="0.6" stroke="#fff" stroke-width="0.5" stroke-opacity="0.8"/>
<circle cx="209.49" cy="694.14" r="4.1" fill="#f08020" fill-opacity="0.6" stroke="#fff" stroke-width="0.5" stroke-opacity="0.8"/>
<circle cx="229.76" cy="670.53" r="4.1" fill="#f08020" fill-opacity="0.6" stroke="#fff" stroke-width="0.5" stroke-opacity="0.8"/>
<circle cx="250.03" cy="681.75" r="4.1" fill="#f08020" fill-opacity="0.6" stroke="#fff" stroke-width="0.5" stroke-opacity="0.8"/>
<circle cx="270.30" cy="629.90" r="4.1" fill="#f08020" fill-opacity="0.6" stroke="#fff" stroke-width="0.5" stroke-opacity="0.8"/>
<circle cx="290.57" cy="692.98" r="4.1" fill="#f08020" fill-opacity="0.6" stroke="#fff" stroke-width="0.5" stroke-opacity="0.8"/>
<circle cx="310.84" cy="693.75" r="4.1" fill="#f08020" fill-opacity="0.6" stroke="#fff" stroke-width="0.5" stroke-opacity="0.8"/>
<circle cx="331.11" cy="694.53" r="4.1" fill="#f08020" fill-opacity="0.6" stroke="#fff" stroke-width="0.5" stroke-opacity="0.8"/>
<circle cx="351.38" cy="679.82" r="4.1" fill="#f08020" fill-opacity="0.6" stroke="#fff" stroke-width="0.5" stroke-opacity="0.8"/>
<circle cx="371.65" cy="687.56" r="4.1" fill="#f08020" fill-opacity="0.6" stroke="#fff" stroke-width="0.5" stroke-opacity="0.8"/>
<circle cx="391.92" cy="680.59" r="4.1" fill="#f08020" fill-opacity="0.6" stroke="#fff" stroke-width="0.5" stroke-opacity="0.8"/>
<circle cx="412.19" cy="687.56" r="4.1" fill="#f08020" fill-opacity="0.6" stroke="#fff" stroke-width="0.5" stroke-opacity="0.8"/>
<circle cx="432.46" cy="692.98" r="4.1" fill="#f08020" fill-opacity="0.6" stroke="#fff" stroke-width="0.5" stroke-opacity="0.8"/>
<circle cx="452.73" cy="690.66" r="4.1" fill="#f08020" fill-opacity="0.6" stroke="#fff" stroke-width="0.5" stroke-opacity="0.8"/>
<circle cx="473.00" cy="693.75" r="4.1" fill="#f08020" fill-opacity="0.6" stroke="#fff" stroke-width="0.5" stroke-opacity="0.8"/>
<circle cx="493.27" cy="691.43" r="4.1" fill="#f08020" fill-opacity="0.6" stroke="#fff" stroke-width="0.5" stroke-opacity="0.8"/>
<circle cx="513.54" cy="602.81" r="4.1" fill="#f08020" fill-opacity="0.6" stroke="#fff" stroke-width="0.5" stroke-opacity="0.8"/>
<circle cx="533.81" cy="689.11" r="4.1" fill="#f08020" fill-opacity="0.6" stroke="#fff" stroke-width="0.5" stroke-opacity="0.8"/>
<circle cx="554.08" cy="656.60" r="4.1" fill="#f08020" fill-opacity="0.6" stroke="#fff" stroke-width="0.5" stroke-opacity="0.8"/>
<circle cx="574.35" cy="689.88" r="4.1" fill="#f08020" fill-opacity="0.6" stroke="#fff" stroke-width="0.5" stroke-opacity="0.8"/>
<circle cx="594.62" cy="678.27" r="4.1" fill="#f08020" fill-opacity="0.6" stroke="#fff" stroke-width="0.5" stroke-opacity="0.8"/>
<circle cx="614.89" cy="683.69" r="4.1" fill="#f08020" fill-opacity="0.6" stroke="#fff" stroke-width="0.5" stroke-opacity="0.8"/>
<circle cx="635.16" cy="674.01" r="4.1" fill="#f08020" fill-opacity="0.6" stroke="#fff" stroke-width="0.5" stroke-opacity="0.8"/>
<circle cx="655.43" cy="600.48" r="4.1" fill="#f08020" fill-opacity="0.6" stroke="#fff" stroke-width="0.5" stroke-opacity="0.8"/>
<circle cx="67.60" cy="694.53" r="5.0" fill="#e02f3f" fill-opacity="0.65" stroke="#fff" stroke-width="0.5" stroke-opacity="0.8"/>
<circle cx="87.87" cy="691.04" r="5.0" fill="#e02f3f" fill-opacity="0.65" stroke="#fff" stroke-width="0.5" stroke-opacity="0.8"/>
<circle cx="108.14" cy="692.20" r="5.0" fill="#e02f3f" fill-opacity="0.65" stroke="#fff" stroke-width="0.5" stroke-opacity="0.8"/>
<circle cx="128.41" cy="688.72" r="5.0" fill="#e02f3f" fill-opacity="0.65" stroke="#fff" stroke-width="0.5" stroke-opacity="0.8"/>
<circle cx="148.68" cy="693.37" r="5.0" fill="#e02f3f" fill-opacity="0.65" stroke="#fff" stroke-width="0.5" stroke-opacity="0.8"/>
<circle cx="168.95" cy="658.92" r="5.0" fill="#e02f3f" fill-opacity="0.65" stroke="#fff" stroke-width="0.5" stroke-opacity="0.8"/>
<circle cx="189.22" cy="695.69" r="5.0" fill="#e02f3f" fill-opacity="0.65" stroke="#fff" stroke-width="0.5" stroke-opacity="0.8"/>
<circle cx="209.49" cy="694.14" r="5.0" fill="#e02f3f" fill-opacity="0.65" stroke="#fff" stroke-width="0.5" stroke-opacity="0.8"/>
<circle cx="229.76" cy="670.53" r="5.0" fill="#e02f3f" fill-opacity="0.65" stroke="#fff" stroke-width="0.5" stroke-opacity="0.8"/>
<circle cx="250.03" cy="682.53" r="5.0" fill="#e02f3f" fill-opacity="0.65" stroke="#fff" stroke-width="0.5" stroke-opacity="0.8"/>
<circle cx="270.30" cy="634.93" r="5.0" fill="#e02f3f" fill-opacity="0.65" stroke="#fff" stroke-width="0.5" stroke-opacity="0.8"/>
<circle cx="290.57" cy="692.98" r="5.0" fill="#e02f3f" fill-opacity="0.65" stroke="#fff" stroke-width="0.5" stroke-opacity="0.8"/>
<circle cx="310.84" cy="693.75" r="5.0" fill="#e02f3f" fill-opacity="0.65" stroke="#fff" stroke-width="0.5" stroke-opacity="0.8"/>
<circle cx="331.11" cy="694.53" r="5.0" fill="#e02f3f" fill-opacity="0.65" stroke="#fff" stroke-width="0.5" stroke-opacity="0.8"/>
<circle cx="351.38" cy="678.66" r="5.0" fill="#e02f3f" fill-opacity="0.65" stroke="#fff" stroke-width="0.5" stroke-opacity="0.8"/>
<circle cx="371.65" cy="687.56" r="5.0" fill="#e02f3f" fill-opacity="0.65" stroke="#fff" stroke-width="0.5" stroke-opacity="0.8"/>
<circle cx="391.92" cy="680.21" r="5.0" fill="#e02f3f" fill-opacity="0.65" stroke="#fff" stroke-width="0.5" stroke-opacity="0.8"/>
<circle cx="412.19" cy="687.56" r="5.0" fill="#e02f3f" fill-opacity="0.65" stroke="#fff" stroke-width="0.5" stroke-opacity="0.8"/>
<circle cx="432.46" cy="692.98" r="5.0" fill="#e02f3f" fill-opacity="0.65" stroke="#fff" stroke-width="0.5" stroke-opacity="0.8"/>
<circle cx="452.73" cy="690.66" r="5.0" fill="#e02f3f" fill-opacity="0.65" stroke="#fff" stroke-width="0.5" stroke-opacity="0.8"/>
<circle cx="473.00" cy="693.75" r="5.0" fill="#e02f3f" fill-opacity="0.65" stroke="#fff" stroke-width="0.5" stroke-opacity="0.8"/>
<circle cx="493.27" cy="691.43" r="5.0" fill="#e02f3f" fill-opacity="0.65" stroke="#fff" stroke-width="0.5" stroke-opacity="0.8"/>
<circle cx="513.54" cy="609.77" r="5.0" fill="#e02f3f" fill-opacity="0.65" stroke="#fff" stroke-width="0.5" stroke-opacity="0.8"/>
<circle cx="533.81" cy="689.11" r="5.0" fill="#e02f3f" fill-opacity="0.65" stroke="#fff" stroke-width="0.5" stroke-opacity="0.8"/>
<circle cx="554.08" cy="660.47" r="5.0" fill="#e02f3f" fill-opacity="0.65" stroke="#fff" stroke-width="0.5" stroke-opacity="0.8"/>
<circle cx="574.35" cy="689.88" r="5.0" fill="#e02f3f" fill-opacity="0.65" stroke="#fff" stroke-width="0.5" stroke-opacity="0.8"/>
<circle cx="594.62" cy="678.27" r="5.0" fill="#e02f3f" fill-opacity="0.65" stroke="#fff" stroke-width="0.5" stroke-opacity="0.8"/>
<circle cx="614.89" cy="682.53" r="5.0" fill="#e02f3f" fill-opacity="0.65" stroke="#fff" stroke-width="0.5" stroke-opacity="0.8"/>
<circle cx="635.16" cy="662.79" r="5.0" fill="#e02f3f" fill-opacity="0.65" stroke="#fff" stroke-width="0.5" stroke-opacity="0.8"/>
<circle cx="655.43" cy="550.17" r="5.0" fill="#e02f3f" fill-opacity="0.65" stroke="#fff" stroke-width="0.5" stroke-opacity="0.8"/>
<circle cx="67.60" cy="694.53" r="5.7" fill="#8b1a1f" fill-opacity="0.62" stroke="#fff" stroke-width="0.5" stroke-opacity="0.8"/>
<circle cx="87.87" cy="685.24" r="5.7" fill="#8b1a1f" fill-opacity="0.62" stroke="#fff" stroke-width="0.5" stroke-opacity="0.8"/>
<circle cx="108.14" cy="692.20" r="5.7" fill="#8b1a1f" fill-opacity="0.62" stroke="#fff" stroke-width="0.5" stroke-opacity="0.8"/>
<circle cx="128.41" cy="679.05" r="5.7" fill="#8b1a1f" fill-opacity="0.62" stroke="#fff" stroke-width="0.5" stroke-opacity="0.8"/>
<circle cx="148.68" cy="693.37" r="5.7" fill="#8b1a1f" fill-opacity="0.62" stroke="#fff" stroke-width="0.5" stroke-opacity="0.8"/>
<circle cx="168.95" cy="615.19" r="5.7" fill="#8b1a1f" fill-opacity="0.62" stroke="#fff" stroke-width="0.5" stroke-opacity="0.8"/>
<circle cx="189.22" cy="695.69" r="5.7" fill="#8b1a1f" fill-opacity="0.62" stroke="#fff" stroke-width="0.5" stroke-opacity="0.8"/>
<circle cx="209.49" cy="694.14" r="5.7" fill="#8b1a1f" fill-opacity="0.62" stroke="#fff" stroke-width="0.5" stroke-opacity="0.8"/>
<circle cx="229.76" cy="640.35" r="5.7" fill="#8b1a1f" fill-opacity="0.62" stroke="#fff" stroke-width="0.5" stroke-opacity="0.8"/>
<circle cx="250.03" cy="677.11" r="5.7" fill="#8b1a1f" fill-opacity="0.62" stroke="#fff" stroke-width="0.5" stroke-opacity="0.8"/>
<circle cx="270.30" cy="607.45" r="5.7" fill="#8b1a1f" fill-opacity="0.62" stroke="#fff" stroke-width="0.5" stroke-opacity="0.8"/>
<circle cx="290.57" cy="692.59" r="5.7" fill="#8b1a1f" fill-opacity="0.62" stroke="#fff" stroke-width="0.5" stroke-opacity="0.8"/>
<circle cx="310.84" cy="693.75" r="5.7" fill="#8b1a1f" fill-opacity="0.62" stroke="#fff" stroke-width="0.5" stroke-opacity="0.8"/>
<circle cx="331.11" cy="694.53" r="5.7" fill="#8b1a1f" fill-opacity="0.62" stroke="#fff" stroke-width="0.5" stroke-opacity="0.8"/>
<circle cx="351.38" cy="678.66" r="5.7" fill="#8b1a1f" fill-opacity="0.62" stroke="#fff" stroke-width="0.5" stroke-opacity="0.8"/>
<circle cx="371.65" cy="687.56" r="5.7" fill="#8b1a1f" fill-opacity="0.62" stroke="#fff" stroke-width="0.5" stroke-opacity="0.8"/>
<circle cx="391.92" cy="676.34" r="5.7" fill="#8b1a1f" fill-opacity="0.62" stroke="#fff" stroke-width="0.5" stroke-opacity="0.8"/>
<circle cx="412.19" cy="682.53" r="5.7" fill="#8b1a1f" fill-opacity="0.62" stroke="#fff" stroke-width="0.5" stroke-opacity="0.8"/>
<circle cx="432.46" cy="692.98" r="5.7" fill="#8b1a1f" fill-opacity="0.62" stroke="#fff" stroke-width="0.5" stroke-opacity="0.8"/>
<circle cx="452.73" cy="690.27" r="5.7" fill="#8b1a1f" fill-opacity="0.62" stroke="#fff" stroke-width="0.5" stroke-opacity="0.8"/>
<circle cx="473.00" cy="693.75" r="5.7" fill="#8b1a1f" fill-opacity="0.62" stroke="#fff" stroke-width="0.5" stroke-opacity="0.8"/>
<circle cx="493.27" cy="691.43" r="5.7" fill="#8b1a1f" fill-opacity="0.62" stroke="#fff" stroke-width="0.5" stroke-opacity="0.8"/>
<circle cx="513.54" cy="576.10" r="5.7" fill="#8b1a1f" fill-opacity="0.62" stroke="#fff" stroke-width="0.5" stroke-opacity="0.8"/>
<circle cx="533.81" cy="692.98" r="5.7" fill="#8b1a1f" fill-opacity="0.62" stroke="#fff" stroke-width="0.5" stroke-opacity="0.8"/>
<circle cx="554.08" cy="653.89" r="5.7" fill="#8b1a1f" fill-opacity="0.62" stroke="#fff" stroke-width="0.5" stroke-opacity="0.8"/>
<circle cx="574.35" cy="689.88" r="5.7" fill="#8b1a1f" fill-opacity="0.62" stroke="#fff" stroke-width="0.5" stroke-opacity="0.8"/>
<circle cx="594.62" cy="677.50" r="5.7" fill="#8b1a1f" fill-opacity="0.62" stroke="#fff" stroke-width="0.5" stroke-opacity="0.8"/>
<circle cx="614.89" cy="687.56" r="5.7" fill="#8b1a1f" fill-opacity="0.62" stroke="#fff" stroke-width="0.5" stroke-opacity="0.8"/>
<circle cx="635.16" cy="675.95" r="5.7" fill="#8b1a1f" fill-opacity="0.62" stroke="#fff" stroke-width="0.5" stroke-opacity="0.8"/>
<circle cx="655.43" cy="601.26" r="5.7" fill="#8b1a1f" fill-opacity="0.62" stroke="#fff" stroke-width="0.5" stroke-opacity="0.8"/>
<path d="M35.2,695.30H38.7" stroke="#555" stroke-width="0.9"/>
<text x="33.7" y="698.90" text-anchor="end" font-size="10">0.0</text>
<path d="M35.2,656.60H38.7" stroke="#555" stroke-width="0.9"/>
<text x="33.7" y="660.20" text-anchor="end" font-size="10">1.0</text>
<path d="M35.2,617.90H38.7" stroke="#555" stroke-width="0.9"/>
<text x="33.7" y="621.50" text-anchor="end" font-size="10">2.0</text>
<path d="M35.2,579.20H38.7" stroke="#555" stroke-width="0.9"/>
<text x="33.7" y="582.80" text-anchor="end" font-size="10">3.0</text>
<text transform="translate(14.3,622.9) rotate(-90)" text-anchor="middle" font-size="11">billion person-weeks</text>
<path d="M67.60,702.6V705.4" stroke="#555" stroke-width="0.9"/>
<text transform="translate(70.10,707.6) rotate(-90)" text-anchor="end" font-size="9.3">ANUZ</text>
<path d="M87.87,702.6V705.4" stroke="#555" stroke-width="0.9"/>
<text transform="translate(90.37,707.6) rotate(-90)" text-anchor="end" font-size="9.3">CAN</text>
<path d="M108.14,702.6V705.4" stroke="#555" stroke-width="0.9"/>
<text transform="translate(110.64,707.6) rotate(-90)" text-anchor="end" font-size="9.3">EFTA</text>
<path d="M128.41,702.6V705.4" stroke="#555" stroke-width="0.9"/>
<text transform="translate(130.91,707.6) rotate(-90)" text-anchor="end" font-size="9.3">EU12-H</text>
<path d="M148.68,702.6V705.4" stroke="#555" stroke-width="0.9"/>
<text transform="translate(151.18,707.6) rotate(-90)" text-anchor="end" font-size="9.3">EU12-M</text>
<path d="M168.95,702.6V705.4" stroke="#555" stroke-width="0.9"/>
<text transform="translate(171.45,707.6) rotate(-90)" text-anchor="end" font-size="9.3">EU15</text>
<path d="M189.22,702.6V705.4" stroke="#555" stroke-width="0.9"/>
<text transform="translate(191.72,707.6) rotate(-90)" text-anchor="end" font-size="9.3">JPKR</text>
<path d="M209.49,702.6V705.4" stroke="#555" stroke-width="0.9"/>
<text transform="translate(211.99,707.6) rotate(-90)" text-anchor="end" font-size="9.3">MEA-H</text>
<path d="M229.76,702.6V705.4" stroke="#555" stroke-width="0.9"/>
<text transform="translate(232.26,707.6) rotate(-90)" text-anchor="end" font-size="9.3">USA</text>
<path d="M250.03,702.6V705.4" stroke="#555" stroke-width="0.9"/>
<text transform="translate(252.53,707.6) rotate(-90)" text-anchor="end" font-size="9.3">BRA</text>
<path d="M270.30,702.6V705.4" stroke="#555" stroke-width="0.9"/>
<text transform="translate(272.80,707.6) rotate(-90)" text-anchor="end" font-size="9.3">CHN</text>
<path d="M290.57,702.6V705.4" stroke="#555" stroke-width="0.9"/>
<text transform="translate(293.07,707.6) rotate(-90)" text-anchor="end" font-size="9.3">EEU-FSU</text>
<path d="M310.84,702.6V705.4" stroke="#555" stroke-width="0.9"/>
<text transform="translate(313.34,707.6) rotate(-90)" text-anchor="end" font-size="9.3">EEU</text>
<path d="M331.11,702.6V705.4" stroke="#555" stroke-width="0.9"/>
<text transform="translate(333.61,707.6) rotate(-90)" text-anchor="end" font-size="9.3">IDN</text>
<path d="M351.38,702.6V705.4" stroke="#555" stroke-width="0.9"/>
<text transform="translate(353.88,707.6) rotate(-90)" text-anchor="end" font-size="9.3">LAM-M</text>
<path d="M371.65,702.6V705.4" stroke="#555" stroke-width="0.9"/>
<text transform="translate(374.15,707.6) rotate(-90)" text-anchor="end" font-size="9.3">MEX</text>
<path d="M391.92,702.6V705.4" stroke="#555" stroke-width="0.9"/>
<text transform="translate(394.42,707.6) rotate(-90)" text-anchor="end" font-size="9.3">OAS-M</text>
<path d="M412.19,702.6V705.4" stroke="#555" stroke-width="0.9"/>
<text transform="translate(414.69,707.6) rotate(-90)" text-anchor="end" font-size="9.3">RUS</text>
<path d="M432.46,702.6V705.4" stroke="#555" stroke-width="0.9"/>
<text transform="translate(434.96,707.6) rotate(-90)" text-anchor="end" font-size="9.3">SAF</text>
<path d="M452.73,702.6V705.4" stroke="#555" stroke-width="0.9"/>
<text transform="translate(455.23,707.6) rotate(-90)" text-anchor="end" font-size="9.3">SSA-M</text>
<path d="M473.00,702.6V705.4" stroke="#555" stroke-width="0.9"/>
<text transform="translate(475.50,707.6) rotate(-90)" text-anchor="end" font-size="9.3">TUR</text>
<path d="M493.27,702.6V705.4" stroke="#555" stroke-width="0.9"/>
<text transform="translate(495.77,707.6) rotate(-90)" text-anchor="end" font-size="9.3">CAS</text>
<path d="M513.54,702.6V705.4" stroke="#555" stroke-width="0.9"/>
<text transform="translate(516.04,707.6) rotate(-90)" text-anchor="end" font-size="9.3">IND</text>
<path d="M533.81,702.6V705.4" stroke="#555" stroke-width="0.9"/>
<text transform="translate(536.31,707.6) rotate(-90)" text-anchor="end" font-size="9.3">LAM-L</text>
<path d="M554.08,702.6V705.4" stroke="#555" stroke-width="0.9"/>
<text transform="translate(556.58,707.6) rotate(-90)" text-anchor="end" font-size="9.3">NAF</text>
<path d="M574.35,702.6V705.4" stroke="#555" stroke-width="0.9"/>
<text transform="translate(576.85,707.6) rotate(-90)" text-anchor="end" font-size="9.3">OAS-CPA</text>
<path d="M594.62,702.6V705.4" stroke="#555" stroke-width="0.9"/>
<text transform="translate(597.12,707.6) rotate(-90)" text-anchor="end" font-size="9.3">OAS-L</text>
<path d="M614.89,702.6V705.4" stroke="#555" stroke-width="0.9"/>
<text transform="translate(617.39,707.6) rotate(-90)" text-anchor="end" font-size="9.3">MEA-M</text>
<path d="M635.16,702.6V705.4" stroke="#555" stroke-width="0.9"/>
<text transform="translate(637.66,707.6) rotate(-90)" text-anchor="end" font-size="9.3">PAK</text>
<path d="M655.43,702.6V705.4" stroke="#555" stroke-width="0.9"/>
<text transform="translate(657.93,707.6) rotate(-90)" text-anchor="end" font-size="9.3">SSA-L</text>
<circle cx="56" cy="556.70" r="2.7" fill="#3b73c0" fill-opacity="0.6"/>
<text x="74.3" y="560.10" font-size="9.5">SSP1-2.6</text>
<circle cx="56" cy="570.15" r="4.1" fill="#f08020" fill-opacity="0.6"/>
<text x="74.3" y="573.55" font-size="9.5">SSP2-4.5</text>
<circle cx="56" cy="583.60" r="5.0" fill="#e02f3f" fill-opacity="0.65"/>
<text x="74.3" y="587.00" font-size="9.5">SSP4-6.0</text>
<circle cx="56" cy="597.05" r="5.7" fill="#8b1a1f" fill-opacity="0.62"/>
<text x="74.3" y="600.45" font-size="9.5">SSP5-8.5</text>
<path d="M67.5,746.7C67.5,750.7 68.7,752.9 72.0,752.9H225.1C228.4,752.9 229.6,750.7 229.6,746.7M148.6,752.9V760.7" fill="none" stroke="#444" stroke-width="0.9"/>
<text x="155.7" y="771.4" text-anchor="middle" font-size="12.7">High-income</text>
<path d="M249.8,746.7C249.8,750.7 251.0,752.9 254.3,752.9H468.2C471.5,752.9 472.7,750.7 472.7,746.7M361.2,752.9V760.7" fill="none" stroke="#444" stroke-width="0.9"/>
<text x="361.9" y="771.4" text-anchor="middle" font-size="12.7">Upper middle-income</text>
<path d="M490.2,746.7C490.2,750.7 491.4,752.9 494.7,752.9H589.3C592.6,752.9 593.8,750.7 593.8,746.7M542.0,752.9V760.7" fill="none" stroke="#444" stroke-width="0.9"/>
<text x="541.3" y="771.4" text-anchor="middle" font-size="12.7">Lower middle-income</text>
<path d="M612.4,746.7C612.4,750.7 613.6,752.9 616.9,752.9H652.9C656.2,752.9 657.4,750.7 657.4,746.7M634.9,752.9V760.7" fill="none" stroke="#444" stroke-width="0.9"/>
<text x="642.0" y="771.4" text-anchor="middle" font-size="12.7">Low-income</text>
</svg></body></html>
